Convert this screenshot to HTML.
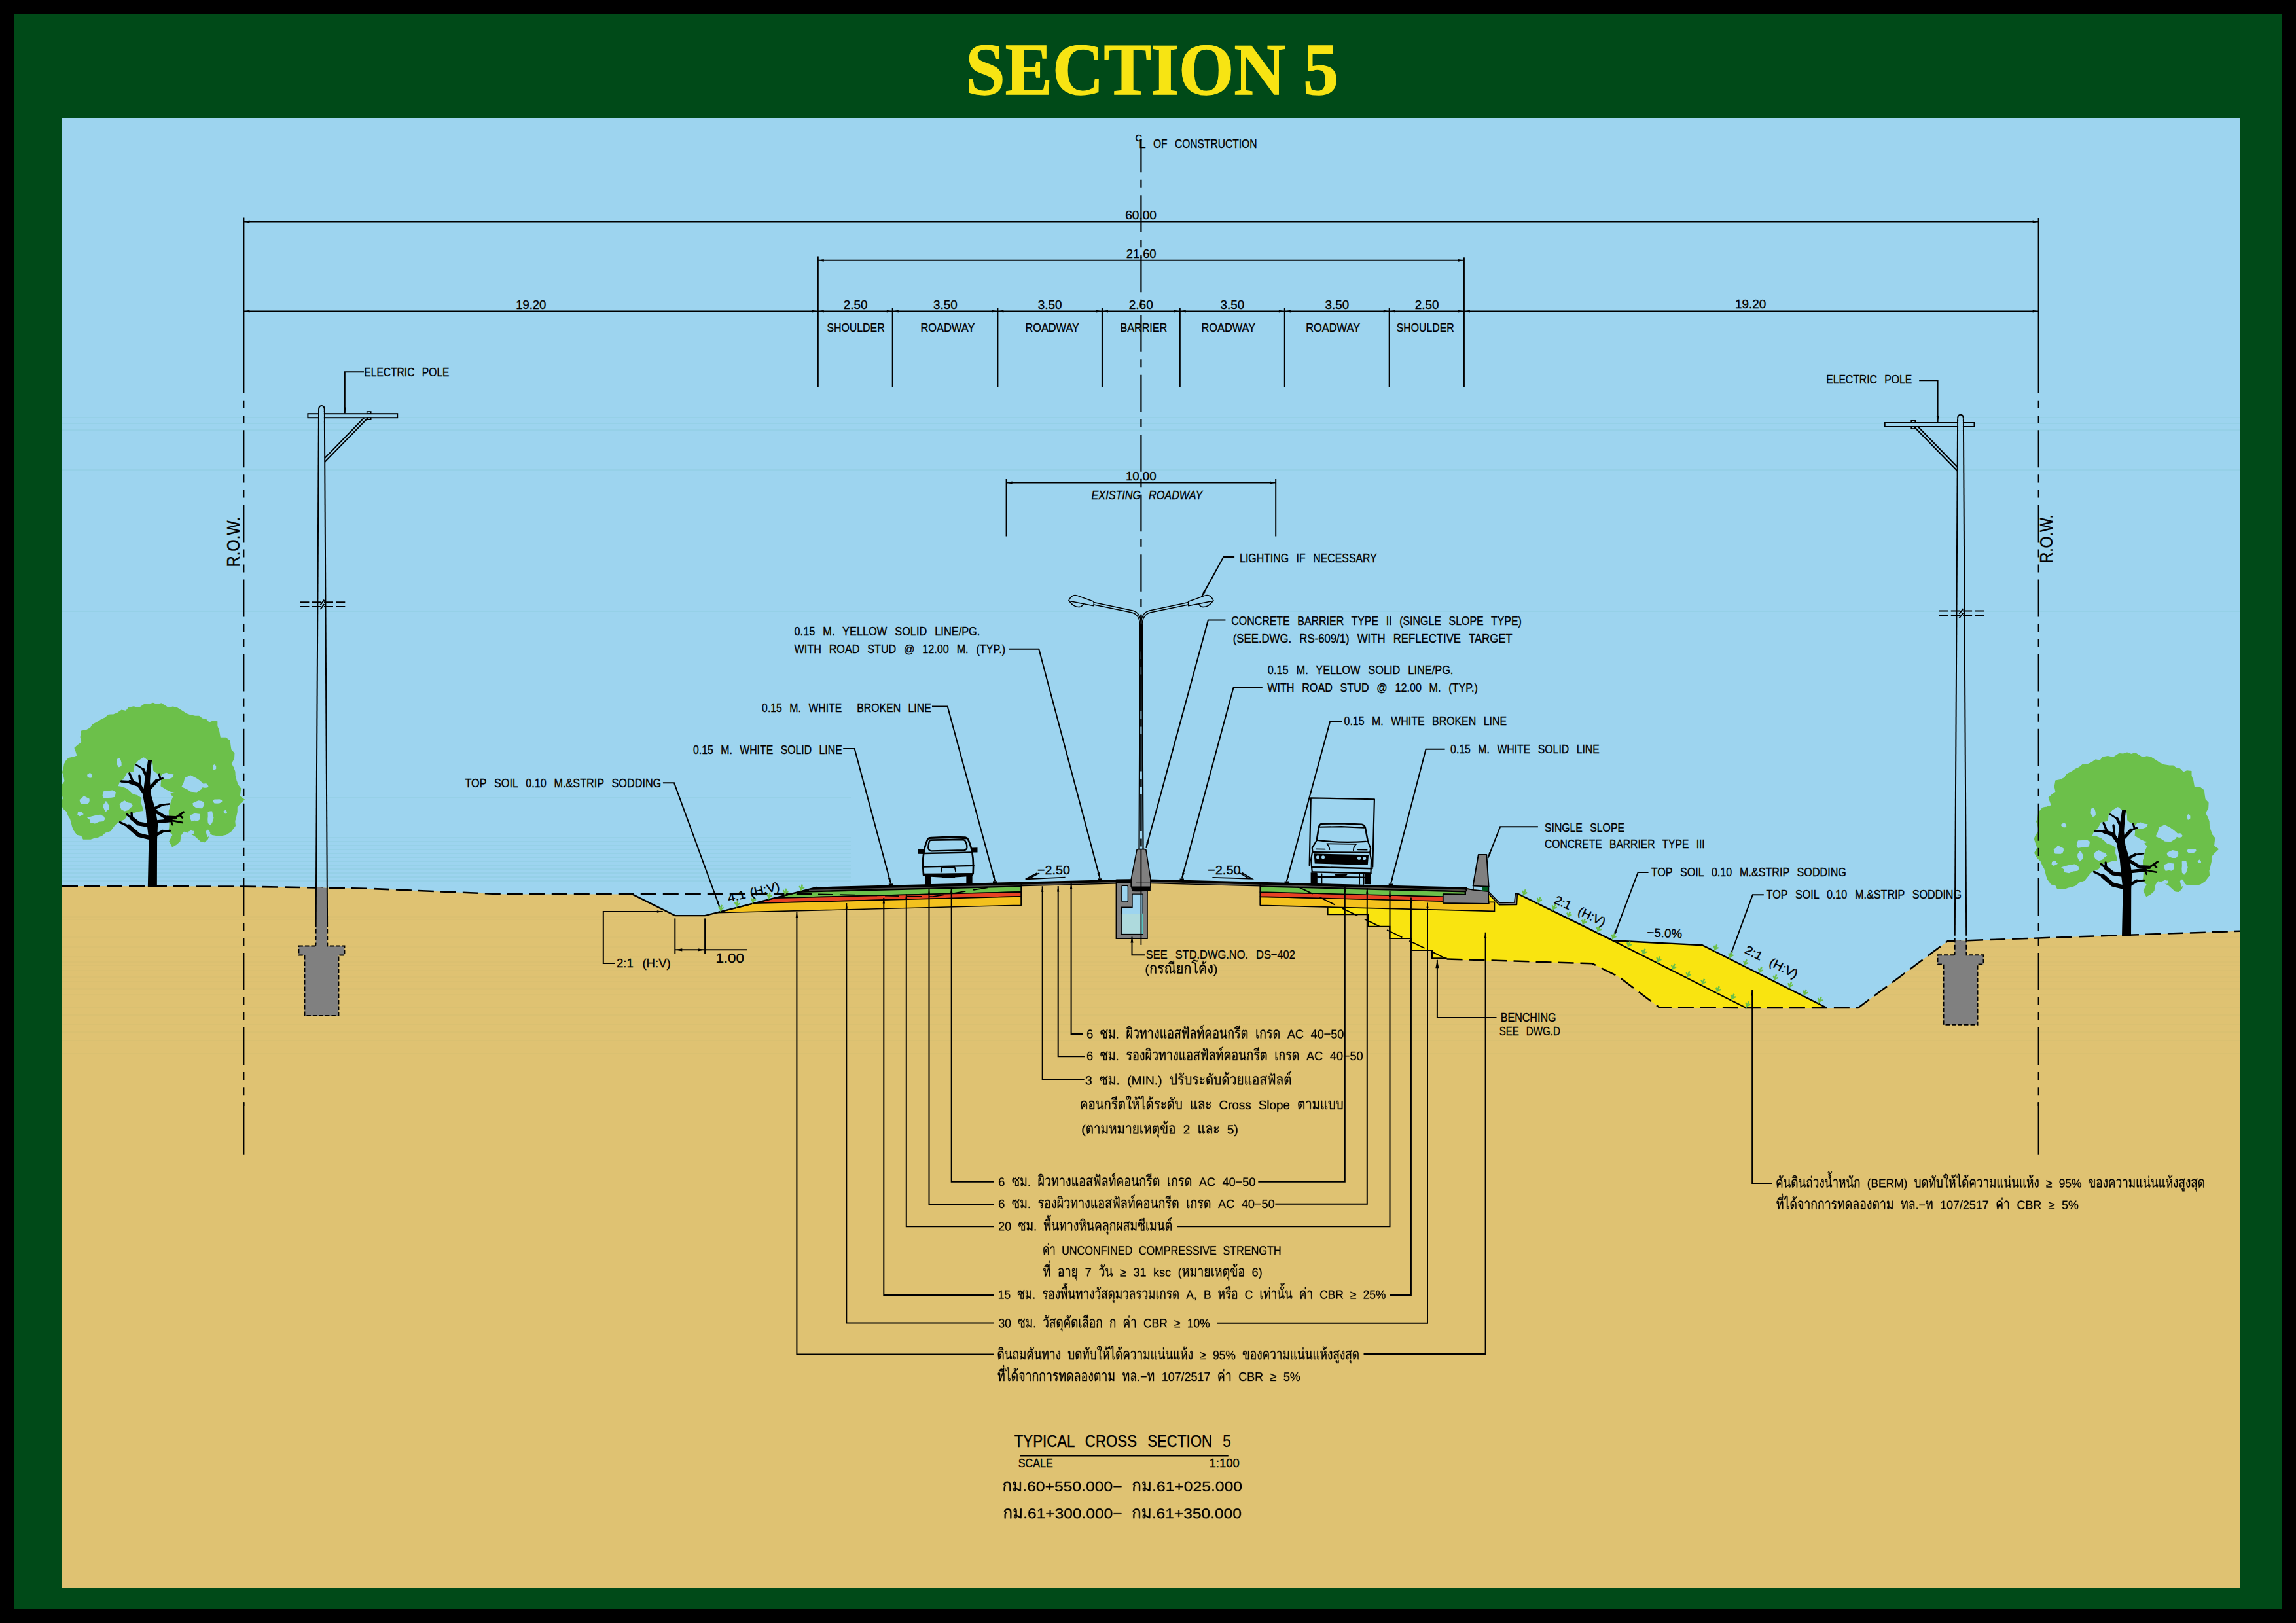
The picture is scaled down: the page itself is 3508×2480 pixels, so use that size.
<!DOCTYPE html><html><head><meta charset="utf-8"><title>SECTION 5</title><style>html,body{margin:0;padding:0;background:#000}svg{display:block}text{font-family:"Liberation Sans",sans-serif;fill:#000;stroke:#000;stroke-width:.35px;word-spacing:.45em}</style></head><body>
<svg width="3508" height="2480" viewBox="0 0 3508 2480">
<rect width="3508" height="2480" fill="#000"/>
<rect x="21" y="21" width="3466" height="2438" fill="#004a18"/>
<rect x="95" y="180" width="3328" height="2246" fill="#9dd4ef"/>
<text x="1760.3" y="144" font-size="112" font-weight="bold" text-anchor="middle" style="font-family:'Liberation Serif',serif;fill:#f7e413;stroke:#f7e413;stroke-width:1.4px;word-spacing:0" textLength="570" lengthAdjust="spacingAndGlyphs">SECTION 5</text>
<g stroke="#7fc4cf" stroke-width="1" opacity="0.45">
<line x1="95" y1="638" x2="3423" y2="638"/>
<line x1="95" y1="647" x2="3423" y2="647"/>
<line x1="95" y1="657" x2="3423" y2="657"/>
<line x1="95" y1="718" x2="3423" y2="718"/>
<line x1="95" y1="934" x2="3423" y2="934"/>
<line x1="95" y1="1219" x2="1300" y2="1219"/>
<line x1="95" y1="1280" x2="1300" y2="1280"/>
<line x1="95" y1="1286" x2="1300" y2="1286"/>
<line x1="95" y1="1292" x2="1300" y2="1292"/>
<line x1="95" y1="1298" x2="1300" y2="1298"/>
<line x1="95" y1="1304" x2="1300" y2="1304"/>
<line x1="95" y1="1310" x2="1300" y2="1310"/>
<line x1="95" y1="1316" x2="1300" y2="1316"/>
<line x1="95" y1="1322" x2="1300" y2="1322"/>
<line x1="95" y1="1328" x2="1300" y2="1328"/>
<line x1="95" y1="1334" x2="1300" y2="1334"/>
<line x1="95" y1="1340" x2="1300" y2="1340"/>
<line x1="95" y1="1346" x2="1300" y2="1346"/>
</g>
<polygon points="95.0,1354.0 372.0,1354.6 561.0,1357.7 770.0,1366.4 966.0,1366.4 1031.3,1399.1 1077.1,1399.1 1248.0,1355.9 1728.0,1343.9 1758.0,1344.1 2241.0,1357.1 2275.0,1363.0 2291.0,1379.5 2314.0,1379.0 2315.5,1365.5 2319.4,1365.8 2464.2,1437.2 2600.8,1444.3 2791.0,1540.0 2839.0,1540.0 2975.6,1438.2 3423.0,1422.8 3423.0,2426.0 95.0,2426.0" fill="#dfc272" stroke="none" stroke-width="0" />
<defs><clipPath id="gclip"><polygon points="95.0,1354.0 372.0,1354.6 561.0,1357.7 770.0,1366.4 966.0,1366.4 1031.3,1399.1 1077.1,1399.1 1248.0,1355.9 1728.0,1343.9 1758.0,1344.1 2241.0,1357.1 2275.0,1363.0 2291.0,1379.5 2314.0,1379.0 2315.5,1365.5 2319.4,1365.8 2464.2,1437.2 2600.8,1444.3 2791.0,1540.0 2839.0,1540.0 2975.6,1438.2 3423.0,1422.8 3423.0,2426.0 95.0,2426.0"/></clipPath></defs>
<g stroke="#b9b56a" stroke-width="1" opacity="0.22" clip-path="url(#gclip)">
<line x1="95" y1="1401" x2="3423" y2="1401"/>
<line x1="95" y1="1405" x2="3423" y2="1405"/>
<line x1="95" y1="1432" x2="3423" y2="1432"/>
<line x1="95" y1="1447" x2="3423" y2="1447"/>
<line x1="95" y1="1462" x2="3423" y2="1462"/>
<line x1="95" y1="1470" x2="3423" y2="1470"/>
<line x1="95" y1="1475" x2="3423" y2="1475"/>
<line x1="95" y1="1483" x2="3423" y2="1483"/>
<line x1="95" y1="1493" x2="3423" y2="1493"/>
<line x1="95" y1="1500" x2="3423" y2="1500"/>
<line x1="95" y1="1511" x2="3423" y2="1511"/>
<line x1="95" y1="1520" x2="3423" y2="1520"/>
<line x1="95" y1="1540" x2="3423" y2="1540"/>
<line x1="95" y1="1551" x2="3423" y2="1551"/>
<line x1="95" y1="1565" x2="3423" y2="1565"/>
<line x1="95" y1="1577" x2="3423" y2="1577"/>
<line x1="95" y1="1590" x2="3423" y2="1590"/>
<line x1="95" y1="1610" x2="3423" y2="1610"/>
</g>
<polygon points="2028.5,1380.8 2283.5,1378.4 2274.6,1378.4 2274.6,1366.2 2290.5,1382.8 2317.5,1382.4 2318.3,1366.9 2319.4,1365.8 2464.2,1437.2 2600.8,1444.3 2791.0,1540.0 2535.6,1539.8 2473.3,1492.7 2432.5,1472.3 2212.9,1466.2 2210.6,1464.4 2188.0,1464.4 2188.0,1452.0 2156.0,1452.0 2156.0,1434.0 2123.3,1434.0 2123.3,1415.9 2090.2,1415.9 2090.2,1397.2 2028.5,1397.2" fill="#f9e410" stroke="none" stroke-width="0" />
<polyline points="2028.5,1385.8 2028.5,1397.2 2090.2,1397.2 2090.2,1415.9 2123.3,1415.9 2123.3,1434.0 2156.0,1434.0 2156.0,1452.0 2188.0,1452.0 2188.0,1464.4 2210.6,1464.4" fill="none" stroke="#000" stroke-width="2.2" />
<polyline points="2319.4,1365.8 2464.2,1437.2 2600.8,1444.3 2791.0,1540.0" fill="none" stroke="#000" stroke-width="2.4" />
<line x1="2464.2" y1="1437.2" x2="2667.6" y2="1540.0" stroke="#000" stroke-width="2.2" />
<polygon points="1220.6,1363.1 1560.4,1354.6 1560.4,1362.9 1184.0,1372.3" fill="#6cc04a" stroke="#000" stroke-width="1.6" stroke-linejoin="round"/>
<polygon points="1184.0,1372.3 1560.4,1362.9 1560.4,1369.9 1153.1,1380.1" fill="#e54224" stroke="#000" stroke-width="1.6" stroke-linejoin="round"/>
<polygon points="1153.1,1380.1 1560.4,1369.9 1560.4,1383.2 1094.5,1394.8" fill="#f3c11d" stroke="#000" stroke-width="1.6" stroke-linejoin="round"/>
<polygon points="1925.5,1370.1 2204.8,1377.0 2204.8,1379.8 2274.6,1381.0 2274.6,1378.4 2283.5,1378.4 2283.5,1392.4 1925.5,1383.4" fill="#f3c11d" stroke="#000" stroke-width="1.6" />
<polygon points="1925.5,1363.1 2204.8,1370.0 2204.8,1377.0 1925.5,1370.1" fill="#e54224" stroke="#000" stroke-width="1.6" />
<polygon points="1925.5,1354.8 2238.4,1362.6 2238.4,1366.6 2204.8,1366.2 2204.8,1370.0 1925.5,1363.1" fill="#6cc04a" stroke="#000" stroke-width="1.6" />
<polyline points="95.0,1354.0 372.0,1354.6 561.0,1357.7 770.0,1366.4 1250.0,1366.4" fill="none" stroke="#000" stroke-width="2.6" stroke-dasharray="24 10"/>
<polyline points="1250.0,1366.4 1425.0,1370.2 1521.0,1354.3" fill="none" stroke="#000" stroke-width="1.7" stroke-dasharray="22 12"/>
<polyline points="1982.3,1354.6 2210.6,1465.5" fill="none" stroke="#000" stroke-width="1.9" stroke-dasharray="26 12"/>
<polyline points="2210.6,1465.5 2432.5,1472.3 2473.3,1492.7 2535.6,1539.8 2839.0,1540.0 2975.6,1438.2 3423.0,1422.8" fill="none" stroke="#000" stroke-width="2.5" stroke-dasharray="24 10"/>
<polyline points="966.0,1366.4 1031.3,1399.1 1077.1,1399.1 1248.0,1355.9" fill="none" stroke="#000" stroke-width="2.4" />
<polygon points="1248.0,1355.4 1728.5,1343.4 1728.5,1347.6 1226.4,1361.6" fill="#000" stroke="none" stroke-width="0" />
<polygon points="1235.0,1360.8 1728.5,1348.5 1728.5,1350.1 1235.0,1362.4" fill="#000" stroke="none" stroke-width="0" />
<line x1="1236" y1="1360.4" x2="1728" y2="1348.1" stroke="#4a4a4a" stroke-width="1.5"/>
<polygon points="1757.5,1343.6 2242.0,1355.7 2242.0,1359.9 1757.5,1347.8" fill="#000" stroke="none" stroke-width="0" />
<polygon points="1757.5,1348.7 2238.4,1360.7 2238.4,1362.3 1757.5,1350.3" fill="#000" stroke="none" stroke-width="0" />
<line x1="1758" y1="1348.3" x2="2238" y2="1360.3" stroke="#4a4a4a" stroke-width="1.5"/>
<rect x="1357.8" y="1350.3" width="6.4" height="3" fill="#000"/>
<rect x="1517.0" y="1346.3" width="6.4" height="3" fill="#000"/>
<rect x="1677.4" y="1342.3" width="6.4" height="3" fill="#000"/>
<rect x="1802.5" y="1342.5" width="6.4" height="3" fill="#000"/>
<rect x="1962.6" y="1346.5" width="6.4" height="3" fill="#000"/>
<rect x="2121.7" y="1350.4" width="6.4" height="3" fill="#000"/>
<line x1="1560.4" y1="1351.1" x2="1560.4" y2="1383.2" stroke="#000" stroke-width="2" />
<line x1="1925.5" y1="1351.3" x2="1925.5" y2="1383.4" stroke="#000" stroke-width="2" />
<path d="M1705.4,1344.5 H1728.4 V1355 H1753 V1434.2 H1705.4 Z" fill="#808080" stroke="#000" stroke-width="1.6"/>
<rect x="1705.4" y="1343.6" width="23" height="6.2" fill="#000"/>
<rect x="1713.9" y="1353.3" width="9.5" height="24.6" rx="1.5" fill="#9dd4ef" stroke="#000" stroke-width="1.4"/>
<path d="M1730,1366.1 H1746.1 V1427.2 H1713.4 V1386.3 H1730 Z" fill="#9dd4ef" stroke="#000" stroke-width="1.4"/>
<path d="M1713.9,1395.7 Q1730,1397.5 1745.6,1395.7 V1426.7 H1713.9 Z" fill="#aedadd"/>
<rect x="1744.4" y="1396" width="1.7" height="31" fill="#55c4c0"/>
<path d="M1737,1298.6 Q1737.2,1297.6 1738.5,1297.6 H1749.4 Q1750.7,1297.6 1750.9,1298.6 L1757.9,1342.8 V1355.4 H1728.4 V1342.8 Z" fill="#808080" stroke="#000" stroke-width="1.6" stroke-linejoin="round"/>
<path d="M1728,1355 H1757.9 V1361.5 Q1745,1362.8 1729.5,1362 Z" fill="#000"/>
<line x1="1736" y1="1349.3" x2="1757" y2="1349.3" stroke="#000" stroke-width="1.2"/>
<polygon points="2204.8,1366.2 2239.1,1366.9 2239.1,1362.8 2241.4,1358.0 2251.0,1359.9 2273.9,1362.1 2274.6,1381.0 2204.8,1379.8" fill="#808080" stroke="#000" stroke-width="1.8" stroke-linejoin="round"/>
<rect x="2264.3" y="1355.6" width="9.8" height="5.6" fill="#005a1e"/>
<polygon points="2258.8,1305.9 2271.3,1305.9 2274.6,1354.6 2250.6,1353.6" fill="#808080" stroke="#000" stroke-width="1.9" stroke-linejoin="round"/>
<line x1="2274.4" y1="1354.0" x2="2274.3" y2="1362.5" stroke="#000" stroke-width="1.8" />
<line x1="2250.8" y1="1353.8" x2="2251.2" y2="1360.0" stroke="#000" stroke-width="1.4" />
<polygon points="2274.6,1362.8 2290.9,1379.5 2313.8,1379.1 2315.3,1365.4 2319.4,1365.8 2318.3,1366.9 2317.5,1382.4 2290.5,1382.8 2274.6,1366.2" fill="#808080" stroke="#000" stroke-width="1.5" stroke-linejoin="round"/>
<g transform="translate(1390,1265) scale(0.058537)" fill="none" stroke="#000" stroke-linecap="round" stroke-linejoin="round">
<path stroke-width="46" d="M470,290 Q490,262 560,256 L1050,236 L1450,250 Q1500,258 1522,300 Q1620,500 1650,800 Q1665,1000 1652,1200 L360,1230 Q335,1000 348,800 Q372,500 470,290 Z"/>
<path stroke-width="40" d="M545,322 L1400,310 Q1440,318 1462,370 Q1502,450 1492,520 Q1480,572 1420,585 L560,605 Q490,592 482,520 Q492,400 512,350 Q522,327 545,322 Z"/>
<path stroke-width="26" d="M480,285 L1050,300 L1500,280"/>
<path stroke-width="42" d="M385,665 L1610,640"/>
<path stroke-width="38" d="M340,1020 L1668,988"/>
<path stroke-width="32" d="M835,1040 L815,1160 M1175,1035 L1200,1150"/>
<path stroke="none" fill="#000" d="M830,1015 L1180,1008 L1180,1050 L830,1055 Z"/>
<path stroke="none" fill="#000" d="M352,1192 L1655,1182 L1642,1262 L1185,1290 L1160,1312 L870,1316 L848,1296 L550,1276 L358,1252 Z"/>
<rect stroke="none" fill="#000" x="395" y="1240" width="152" height="262"/>
<rect stroke="none" fill="#000" x="1475" y="1240" width="158" height="235"/>
<path stroke="none" fill="#000" d="M218,555 L382,560 L380,682 L222,680 Z M1612,522 L1768,515 L1768,640 L1612,640 Z"/>
</g>
<g transform="translate(1990,1205) scale(0.09858)" fill="none" stroke="#000" stroke-width="22" stroke-linecap="round" stroke-linejoin="round">
<path d="M108,1190 L130,145 L1115,165 L1088,1215"/>
<path stroke-width="26" d="M222,790 L255,590 Q268,550 302,546 L600,540 L920,555 Q958,562 972,600 L1010,800"/>
<path d="M262,596 L600,590 L955,606"/>
<path stroke-width="24" d="M228,800 Q600,848 982,820"/>
<path d="M225,795 L150,920 L158,985 M1008,800 L1056,930 L1046,990"/>
<path stroke-width="18" d="M378,855 L832,862 M378,855 Q416,892 420,945 M832,862 Q792,900 790,955 M210,936 L350,940 M860,946 L1000,950"/>
<path stroke-width="24" d="M158,985 L1046,992"/>
<path stroke="none" fill="#000" d="M178,1008 L1026,1028 L1012,1188 L190,1162 Z"/>
<g stroke="none" fill="#9dd4ef"><circle cx="238" cy="1062" r="26"/><circle cx="320" cy="1062" r="26"/><circle cx="878" cy="1078" r="26"/><circle cx="960" cy="1080" r="26"/></g>
<path d="M152,990 L132,1100 L150,1292 M1046,992 L1066,1105 L1060,1312"/>
<path stroke-width="24" d="M150,1215 L1080,1240 M150,1292 L1060,1312"/>
<path stroke="none" fill="#000" d="M128,1300 L228,1302 L228,1472 L128,1468 Z M960,1322 L1058,1324 L1056,1484 L960,1480 Z"/>
<path stroke-width="26" d="M235,1366 L952,1378"/>
<path stroke-width="16" d="M235,1320 V1470 M300,1322 V1472 M885,1332 V1482 M948,1334 V1482"/>
<path stroke="none" fill="#000" d="M490,1318 L702,1322 L680,1352 L512,1350 Z"/>
</g>
<line x1="1743.4" y1="206.8" x2="1743.4" y2="939" stroke="#000" stroke-width="2.2" stroke-dasharray="56.5 11.5 12 11.5"/>
<rect x="1740.4" y="200" width="6" height="12.6" fill="#9dd4ef"/>
<line x1="1743.4" y1="1297.0" x2="1743.4" y2="1443.9" stroke="#000" stroke-width="1.8" />
<line x1="1743.4" y1="939" x2="1743.4" y2="1297" stroke="#000" stroke-width="2.5" stroke-dasharray="56.5 11.5 12 11.5"/>
<path d="M1741.9,953 L1740.5,1297 M1744.9,953 L1746.5,1297" stroke="#000" stroke-width="2.2" fill="none"/>
<g fill="none" stroke="#000" stroke-width="1.5" stroke-linecap="round" stroke-linejoin="round">
<path d="M1741.9,956 Q1741.4,939 1729.4,935.9 L1671.2,923.9"/>
<path d="M1743.2,950 Q1741.9,936 1730.4,932.9 L1671.2,920.6"/>
<path d="M1671.2,919.2 L1645.1,909.9 Q1637.4,908 1632.6,918.2 L1671.2,925.7 Z"/>
<path d="M1634.4,919.5 Q1642.4,929.5 1651.4,927 Q1653.9,925.5 1655.4,922.8"/>
<path d="M1744.9,956 Q1745.4,939 1757.4,935.9 L1815.6,923.9"/>
<path d="M1743.6,950 Q1744.9,936 1756.4,932.9 L1815.6,920.6"/>
<path d="M1815.6,919.2 L1841.7,909.9 Q1849.4,908 1854.2,918.2 L1815.6,925.7 Z"/>
<path d="M1852.4,919.5 Q1844.4,929.5 1835.4,927 Q1832.9,925.5 1831.4,922.8"/>
</g>
<path d="M487.0,626.0 Q487.0,620.0 491.4,620.0 Q495.8,620.0 495.8,626.0" fill="none" stroke="#000" stroke-width="2"/>
<polygon points="483.0,1355.5 499.8,1357.0 500.3,1446.5 482.5,1446.5" fill="#808080"/>
<line x1="487.0" y1="626.0" x2="482.7" y2="1409.0" stroke="#000" stroke-width="2" />
<line x1="482.7" y1="1409.0" x2="482.5" y2="1445.5" stroke="#000" stroke-width="2" stroke-dasharray="7 3.5"/>
<line x1="495.8" y1="626.0" x2="500.1" y2="1409.0" stroke="#000" stroke-width="2" />
<line x1="500.1" y1="1409.0" x2="500.3" y2="1445.5" stroke="#000" stroke-width="2" stroke-dasharray="7 3.5"/>
<rect x="470.4" y="632.2" width="136.8" height="6" fill="#9dd4ef" stroke="#000" stroke-width="2"/>
<path d="M487.0,628.2 V644.2 M495.8,628.2 V644.2" stroke="#000" stroke-width="2" fill="none"/>
<rect x="488.0" y="629.2" width="6.8" height="14" fill="#9dd4ef"/>
<rect x="560.7" y="629.0" width="6" height="3.2" fill="none" stroke="#000" stroke-width="1.6"/>
<rect x="560.7" y="638.2" width="6" height="3" fill="none" stroke="#000" stroke-width="1.6"/>
<line x1="496.2" y1="700.0" x2="556.4" y2="638.2" stroke="#000" stroke-width="2" />
<line x1="496.2" y1="706.0" x2="562.4" y2="638.2" stroke="#000" stroke-width="2" />
<line x1="458.4" y1="920.2" x2="527.4" y2="920.2" stroke="#000" stroke-width="2" stroke-dasharray="14 4.3"/>
<line x1="458.4" y1="927.1" x2="527.4" y2="927.1" stroke="#000" stroke-width="2" stroke-dasharray="14 4.3"/>
<line x1="489.4" y1="924.7" x2="495.4" y2="916.7" stroke="#000" stroke-width="2" />
<line x1="489.4" y1="931.2" x2="495.4" y2="923.2" stroke="#000" stroke-width="2" />
<path d="M456.4,1445.5 H526.4 V1459.6 H517.4 V1552.0 H465.4 V1459.6 H456.4 Z" fill="#808080" stroke="#000" stroke-width="2" stroke-dasharray="6.5 3"/>
<rect x="483.5" y="1443.5" width="15.9" height="4" fill="#808080"/>
<path d="M2991.1,639.8 Q2991.1,633.8 2995.5,633.8 Q2999.9,633.8 2999.9,639.8" fill="none" stroke="#000" stroke-width="2"/>
<polygon points="2986.7,1436.5 3004.3,1438.0 3004.4,1460.3 2986.6,1460.3" fill="#808080"/>
<line x1="2991.1" y1="639.8" x2="2986.8" y2="1422.8" stroke="#000" stroke-width="2" />
<line x1="2986.8" y1="1422.8" x2="2986.6" y2="1459.3" stroke="#000" stroke-width="2" stroke-dasharray="7 3.5"/>
<line x1="2999.9" y1="639.8" x2="3004.2" y2="1422.8" stroke="#000" stroke-width="2" />
<line x1="3004.2" y1="1422.8" x2="3004.4" y2="1459.3" stroke="#000" stroke-width="2" stroke-dasharray="7 3.5"/>
<rect x="2879.7" y="646.0" width="136.8" height="6" fill="#9dd4ef" stroke="#000" stroke-width="2"/>
<path d="M2991.1,642.0 V658.0 M2999.9,642.0 V658.0" stroke="#000" stroke-width="2" fill="none"/>
<rect x="2992.1" y="643.0" width="6.8" height="14" fill="#9dd4ef"/>
<rect x="2920.2" y="642.8" width="6" height="3.2" fill="none" stroke="#000" stroke-width="1.6"/>
<rect x="2920.2" y="652.0" width="6" height="3" fill="none" stroke="#000" stroke-width="1.6"/>
<line x1="2990.7" y1="713.8" x2="2930.5" y2="652.0" stroke="#000" stroke-width="2" />
<line x1="2990.7" y1="719.8" x2="2924.5" y2="652.0" stroke="#000" stroke-width="2" />
<line x1="2962.5" y1="933.5" x2="3031.5" y2="933.5" stroke="#000" stroke-width="2" stroke-dasharray="14 4.3"/>
<line x1="2962.5" y1="940.4" x2="3031.5" y2="940.4" stroke="#000" stroke-width="2" stroke-dasharray="14 4.3"/>
<line x1="2993.5" y1="938.0" x2="2999.5" y2="930.0" stroke="#000" stroke-width="2" />
<line x1="2993.5" y1="944.5" x2="2999.5" y2="936.5" stroke="#000" stroke-width="2" />
<path d="M2960.5,1459.3 H3030.5 V1473.4 H3021.5 V1565.8 H2969.5 V1473.4 H2960.5 Z" fill="#808080" stroke="#000" stroke-width="2" stroke-dasharray="6.5 3"/>
<rect x="2987.6" y="1457.3" width="15.9" height="4" fill="#808080"/>
<defs><g id="tree">
<polygon points="685,100 714,103 742,94 771,105 800,96 824,111 850,128 882,120 910,126 950,151 977,169 1007,180 1040,186 1068,186 1092,205 1116,208 1140,233 1166,222 1196,225 1196,258 1208,286 1217,338 1258,339 1286,361 1289,391 1294,424 1317,449 1315,487 1295,522 1311,550 1322,580 1323,610 1331,640 1343,674 1362,698 1356,754 1388,777 1361,802 1337,830 1337,865 1329,900 1321,929 1324,963 1293,1003 1260,1025 1225,1031 1190,1030 1162,1026 1144,1011 1129,1056 1108,1078 1085,1076 1061,1054 1039,1034 1003,1014 960,1000 937,1032 932,1072 908,1094 879,1111 859,1073 883,1028 856,1000 859,972 860,943 863,915 857,886 856,858 865,830 870,794 887,756 868,737 899,723 867,718 838,705 799,680 802,641 808,622 792,596 764,586 746,570 744,535 738,493 706,495 677,474 637,497 608,530 603,576 554,585 539,614 520,641 507,641 491,684 526,689 557,703 579,721 599,742 629,749 658,767 654,802 664,830 669,855 634,860 600,870 561,881 538,916 495,933 469,959 439,998 401,1011 379,1032 351,1043 325,1048 300,1057 248,1057 235,1031 204,1025 180,991 171,967 165,943 157,914 142,889 131,861 108,841 87,804 107,768 95,734 85,703 97,676 118,648 111,613 101,582 110,555 114,527 123,508 144,484 173,478 206,468 197,439 187,412 209,392 237,371 229,334 236,292 270,286 300,270 313,247 353,226 376,210 402,199 428,177 463,175 491,164 519,144 550,150 570,126 605,119 644,128" fill="#6cc04a" stroke="#6cc04a" stroke-width="6" stroke-linejoin="miter"/>
<g fill="#9dd4ef"><polygon points="518,515 519,535 509,546 497,547 490,534 484,523 486,508 487,490 497,486 508,485 514,501"/><polygon points="310,605 312,615 304,623 292,623 281,619 275,610 276,600 285,595 292,589 302,592 306,599"/><polygon points="1189,550 1189,559 1184,564 1178,569 1170,567 1169,555 1166,544 1170,533 1178,528 1185,535 1189,542"/><polygon points="885,612 878,622 861,629 838,635 808,632 792,619 801,606 812,594 837,587 860,596 888,599"/><polygon points="1104,670 1087,703 1052,725 1010,722 982,704 944,687 959,656 968,623 1008,604 1047,624 1075,643"/><polygon points="1135,682 1129,691 1117,694 1108,694 1099,692 1087,687 1088,677 1099,672 1107,664 1120,664 1128,673"/><polygon points="475,742 472,758 448,763 427,764 394,769 384,751 386,734 394,715 426,714 455,711 478,724"/><polygon points="292,786 287,800 273,810 253,811 231,809 224,793 221,778 237,768 251,751 273,762 291,771"/><polygon points="431,822 430,845 418,853 407,865 397,849 390,832 391,812 400,802 407,788 417,795 423,808"/><polygon points="600,822 579,837 566,852 541,859 518,848 509,831 505,812 518,796 541,784 563,798 587,803"/><polygon points="1105,812 1100,825 1089,840 1064,839 1043,833 1026,821 1023,803 1044,792 1064,784 1087,788 1104,797"/><polygon points="1232,790 1224,798 1212,804 1196,805 1177,804 1169,795 1167,785 1177,776 1196,776 1212,775 1230,780"/><polygon points="251,880 240,887 232,891 222,895 214,889 206,884 208,877 209,867 221,862 236,863 240,873"/><polygon points="402,915 391,931 359,935 330,947 295,940 294,921 274,906 305,896 332,889 369,884 395,898"/><polygon points="1266,865 1266,872 1261,877 1253,877 1248,874 1243,868 1241,861 1248,857 1253,851 1260,853 1263,860"/><polygon points="1073,900 1072,919 1056,931 1038,926 1015,932 1005,911 1002,888 1025,880 1038,871 1053,877 1074,879"/><polygon points="1172,905 1167,925 1160,944 1146,959 1131,944 1129,916 1131,895 1130,864 1146,859 1161,860 1166,886"/><polygon points="1029,1010 1033,1019 1021,1024 1010,1022 994,1024 989,1015 987,1005 1001,1001 1008,992 1019,999 1034,1000"/><polygon points="1147,1012 1144,1025 1139,1037 1129,1044 1123,1030 1120,1018 1117,1004 1123,994 1130,991 1137,992 1142,1001"/><polygon points="628,700 625,712 613,720 595,728 580,717 568,707 573,694 580,683 596,682 612,681 621,690"/><polygon points="610,660 599,675 576,680 554,686 524,685 526,666 510,651 532,640 554,634 582,631 595,646"/></g>
<g fill="none" stroke="#000" stroke-linecap="round" stroke-linejoin="round">
<path fill="#000" stroke="none" d="M705,1396 L712,1060 L700,960 L690,850 L670,750 L682,650 L697,560 L706,500 L734,500 L726,560 L720,650 L730,750 L760,850 L776,950 L771,1060 L770,1396 Z"/>
<path stroke-width="30" d="M720,1048 L640,1028 L570,968"/><path stroke-width="16" d="M570,968 L508,938"/>
<path stroke-width="28" d="M700,958 L640,948 L590,908"/><path stroke-width="16" d="M590,908 L557,882 M592,905 L590,872"/>
<path stroke-width="22" d="M760,1030 L810,1002"/><path stroke-width="14" d="M810,1002 L862,998"/>
<path stroke-width="24" d="M770,935 L870,925"/><path stroke-width="12" d="M870,925 L950,940 M870,928 L880,955"/>
<path stroke-width="24" d="M760,860 L830,903 L900,906"/><path stroke-width="14" d="M900,906 L958,866 M930,888 L950,905"/>
<path stroke-width="20" d="M750,842 L800,816"/><path stroke-width="12" d="M800,816 L858,808"/>
<path stroke-width="28" d="M690,742 L640,672 L580,652"/><path stroke-width="16" d="M580,652 L517,648 M600,652 L575,592 M655,700 L645,608"/>
<path stroke-width="20" d="M700,622 L672,562"/><path stroke-width="12" d="M672,562 L622,530"/>
<path stroke-width="24" d="M715,702 L770,642"/><path stroke-width="14" d="M770,642 L810,627 M795,632 L785,598"/>
</g></g>
<clipPath id="inner"><rect x="95" y="180" width="3328" height="2246"/></clipPath></defs>
<use href="#tree" transform="translate(3090,1130) scale(0.21561)"/>
<g clip-path="url(#inner)"><use href="#tree" transform="translate(73.83,1054.2) scale(0.21561)"/></g>
<line x1="372.4" y1="332.5" x2="372.4" y2="600.6" stroke="#000" stroke-width="2" />
<path d="M372.4,611.7 V624 M372.4,635 V646.5 M372.4,1684.2 V1764.8" stroke="#000" stroke-width="2" fill="none"/>
<line x1="372.4" y1="657.3" x2="372.4" y2="1690" stroke="#000" stroke-width="2" stroke-dasharray="57 11 12.1 11 12 11"/>
<line x1="3114.6" y1="333.0" x2="3114.6" y2="600.6" stroke="#000" stroke-width="2" />
<path d="M3114.6,611.7 V624 M3114.6,635 V646.5 M3114.6,1684.2 V1764.8" stroke="#000" stroke-width="2" fill="none"/>
<line x1="3114.6" y1="657.3" x2="3114.6" y2="1690" stroke="#000" stroke-width="2" stroke-dasharray="57 11 12.1 11 12 11"/>
<line x1="372.4" y1="338.5" x2="3114.6" y2="338.5" stroke="#000" stroke-width="2" />
<polygon points="372.4,338.5 381.4,336.6 381.4,340.4" fill="#000"/>
<polygon points="3114.6,338.5 3105.6,340.4 3105.6,336.6" fill="#000"/>
<line x1="1249.7" y1="397.8" x2="2236.8" y2="397.8" stroke="#000" stroke-width="2" />
<polygon points="1249.7,397.8 1258.7,395.9 1258.7,399.7" fill="#000"/>
<polygon points="2236.8,397.8 2227.8,399.7 2227.8,395.9" fill="#000"/>
<line x1="372.4" y1="475.6" x2="1249.7" y2="475.6" stroke="#000" stroke-width="2" />
<polygon points="372.4,475.6 381.4,473.7 381.4,477.5" fill="#000"/>
<polygon points="1249.7,475.6 1240.7,477.5 1240.7,473.7" fill="#000"/>
<line x1="1249.7" y1="475.6" x2="1363.8" y2="475.6" stroke="#000" stroke-width="2" />
<polygon points="1249.7,475.6 1258.7,473.7 1258.7,477.5" fill="#000"/>
<polygon points="1363.8,475.6 1354.8,477.5 1354.8,473.7" fill="#000"/>
<line x1="1363.8" y1="475.6" x2="1524.3" y2="475.6" stroke="#000" stroke-width="2" />
<polygon points="1363.8,475.6 1372.8,473.7 1372.8,477.5" fill="#000"/>
<polygon points="1524.3,475.6 1515.3,477.5 1515.3,473.7" fill="#000"/>
<line x1="1524.3" y1="475.6" x2="1684.0" y2="475.6" stroke="#000" stroke-width="2" />
<polygon points="1524.3,475.6 1533.3,473.7 1533.3,477.5" fill="#000"/>
<polygon points="1684.0,475.6 1675.0,477.5 1675.0,473.7" fill="#000"/>
<line x1="1684.0" y1="475.6" x2="1802.7" y2="475.6" stroke="#000" stroke-width="2" />
<polygon points="1684.0,475.6 1693.0,473.7 1693.0,477.5" fill="#000"/>
<polygon points="1802.7,475.6 1793.7,477.5 1793.7,473.7" fill="#000"/>
<line x1="1802.7" y1="475.6" x2="1962.9" y2="475.6" stroke="#000" stroke-width="2" />
<polygon points="1802.7,475.6 1811.7,473.7 1811.7,477.5" fill="#000"/>
<polygon points="1962.9,475.6 1953.9,477.5 1953.9,473.7" fill="#000"/>
<line x1="1962.9" y1="475.6" x2="2122.8" y2="475.6" stroke="#000" stroke-width="2" />
<polygon points="1962.9,475.6 1971.9,473.7 1971.9,477.5" fill="#000"/>
<polygon points="2122.8,475.6 2113.8,477.5 2113.8,473.7" fill="#000"/>
<line x1="2122.8" y1="475.6" x2="2236.8" y2="475.6" stroke="#000" stroke-width="2" />
<polygon points="2122.8,475.6 2131.8,473.7 2131.8,477.5" fill="#000"/>
<polygon points="2236.8,475.6 2227.8,477.5 2227.8,473.7" fill="#000"/>
<line x1="2236.8" y1="475.6" x2="3114.6" y2="475.6" stroke="#000" stroke-width="2" />
<polygon points="2236.8,475.6 2245.8,473.7 2245.8,477.5" fill="#000"/>
<polygon points="3114.6,475.6 3105.6,477.5 3105.6,473.7" fill="#000"/>
<line x1="1249.7" y1="391.5" x2="1249.7" y2="592.0" stroke="#000" stroke-width="2.2" />
<line x1="2236.8" y1="393.3" x2="2236.8" y2="592.0" stroke="#000" stroke-width="2.2" />
<line x1="1363.8" y1="470.0" x2="1363.8" y2="592.0" stroke="#000" stroke-width="2.2" />
<line x1="1524.3" y1="470.0" x2="1524.3" y2="592.0" stroke="#000" stroke-width="2.2" />
<line x1="1684.0" y1="470.0" x2="1684.0" y2="592.0" stroke="#000" stroke-width="2.2" />
<line x1="1802.7" y1="470.0" x2="1802.7" y2="592.0" stroke="#000" stroke-width="2.2" />
<line x1="1962.9" y1="470.0" x2="1962.9" y2="592.0" stroke="#000" stroke-width="2.2" />
<line x1="2122.8" y1="470.0" x2="2122.8" y2="592.0" stroke="#000" stroke-width="2.2" />
<line x1="1537.6" y1="737.5" x2="1949.2" y2="737.5" stroke="#000" stroke-width="2" />
<polygon points="1537.6,737.5 1546.6,735.6 1546.6,739.4" fill="#000"/>
<polygon points="1949.2,737.5 1940.2,739.4 1940.2,735.6" fill="#000"/>
<line x1="1537.6" y1="732.0" x2="1537.6" y2="819.5" stroke="#000" stroke-width="2" />
<line x1="1949.2" y1="732.0" x2="1949.2" y2="819.5" stroke="#000" stroke-width="2" />
<line x1="1031.3" y1="1403.4" x2="1031.3" y2="1457.2" stroke="#000" stroke-width="2" />
<line x1="1077.1" y1="1403.4" x2="1077.1" y2="1457.2" stroke="#000" stroke-width="2" />
<line x1="1031.3" y1="1451.3" x2="1141.3" y2="1451.3" stroke="#000" stroke-width="2" />
<polygon points="1031.3,1451.3 1042.3,1449.2 1042.3,1453.4" fill="#000"/>
<polygon points="1077.1,1451.3 1066.1,1453.4 1066.1,1449.2" fill="#000"/>
<polyline points="940.0,1472.0 921.8,1472.0 921.8,1393.0 1012.8,1393.0" fill="none" stroke="#000" stroke-width="2" />
<polygon points="1012.8,1393.0 1003.8,1394.8 1003.8,1391.2" fill="#000"/>
<polyline points="1627.6,1340.6 1566.8,1343.4 1585.1,1333.7" fill="none" stroke="#000" stroke-width="1.8" />
<line x1="1570.5" y1="1343.4" x2="1588.0" y2="1334.0" stroke="#000" stroke-width="1.8" />
<polyline points="1852.4,1340.9 1912.7,1342.7 1897.2,1333.2" fill="none" stroke="#000" stroke-width="1.8" />
<line x1="1908.8" y1="1342.8" x2="1893.5" y2="1333.4" stroke="#000" stroke-width="1.8" />
<polyline points="1012.9,1196.3 1030.0,1196.3 1099.5,1386.0" fill="none" stroke="#000" stroke-width="2" />
<polygon points="1099.5,1386.0 1094.7,1378.2 1098.1,1376.9" fill="#000"/>
<polyline points="1288.2,1143.9 1305.6,1143.9 1361.0,1350.3" fill="none" stroke="#000" stroke-width="2" />
<polygon points="1361.0,1350.3 1356.9,1342.0 1360.4,1341.1" fill="#000"/>
<polyline points="1424.0,1079.6 1447.7,1079.6 1520.2,1346.3" fill="none" stroke="#000" stroke-width="2" />
<polygon points="1520.2,1346.3 1516.1,1338.1 1519.6,1337.1" fill="#000"/>
<polyline points="1541.6,991.8 1587.3,991.8 1680.6,1342.3" fill="none" stroke="#000" stroke-width="2" />
<polygon points="1680.6,1342.3 1676.5,1334.1 1680.0,1333.1" fill="#000"/>
<polyline points="1872.4,947.6 1845.9,947.6 1751.1,1295.7" fill="none" stroke="#000" stroke-width="2" />
<polygon points="1751.1,1295.7 1751.7,1286.5 1755.2,1287.5" fill="#000"/>
<polyline points="1886.1,850.9 1869.3,850.9 1835.8,911.9" fill="none" stroke="#000" stroke-width="2" />
<polygon points="1835.8,911.9 1838.6,903.1 1841.7,904.9" fill="#000"/>
<polyline points="1928.8,1050.6 1884.6,1050.6 1805.7,1342.5" fill="none" stroke="#000" stroke-width="2" />
<polygon points="1805.7,1342.5 1806.3,1333.3 1809.8,1334.2" fill="#000"/>
<polyline points="2050.5,1102.0 2032.3,1102.0 1965.8,1346.5" fill="none" stroke="#000" stroke-width="2" />
<polygon points="1965.8,1346.5 1966.4,1337.3 1969.9,1338.2" fill="#000"/>
<polyline points="2207.6,1144.7 2178.6,1144.7 2124.9,1350.4" fill="none" stroke="#000" stroke-width="2" />
<polygon points="2124.9,1350.4 2125.4,1341.3 2128.9,1342.2" fill="#000"/>
<polyline points="2349.9,1263.3 2292.1,1263.3 2273.5,1311.0" fill="none" stroke="#000" stroke-width="2" />
<polygon points="2273.5,1311.0 2275.1,1302.0 2278.4,1303.3" fill="#000"/>
<polyline points="2518.6,1333.0 2502.7,1333.0 2465.4,1431.6" fill="none" stroke="#000" stroke-width="2" />
<polygon points="2465.4,1431.6 2466.9,1422.5 2470.3,1423.8" fill="#000"/>
<polyline points="2694.8,1367.3 2677.8,1367.3 2642.7,1463.0" fill="none" stroke="#000" stroke-width="2" />
<polygon points="2642.7,1463.0 2644.1,1453.9 2647.5,1455.2" fill="#000"/>
<polyline points="556.0,568.3 526.8,568.3 526.8,631.5" fill="none" stroke="#000" stroke-width="2" />
<polygon points="526.8,631.5 525.0,622.5 528.6,622.5" fill="#000"/>
<polyline points="2932.2,581.3 2960.6,581.3 2960.6,645.0" fill="none" stroke="#000" stroke-width="2" />
<polygon points="2960.6,645.0 2958.8,636.0 2962.4,636.0" fill="#000"/>
<polyline points="1518.6,2069.5 1217.4,2069.5 1217.4,1393.6" fill="none" stroke="#000" stroke-width="2" />
<polygon points="1217.4,1393.6 1219.1,1402.1 1215.7,1402.1" fill="#000"/>
<polyline points="1518.6,2021.6 1293.3,2021.6 1293.3,1380.0" fill="none" stroke="#000" stroke-width="2" />
<polygon points="1293.3,1380.0 1295.0,1388.5 1291.6,1388.5" fill="#000"/>
<polyline points="1518.6,1978.9 1350.3,1978.9 1350.3,1371.9" fill="none" stroke="#000" stroke-width="2" />
<polygon points="1350.3,1371.9 1352.0,1380.4 1348.6,1380.4" fill="#000"/>
<polyline points="1518.6,1874.3 1384.8,1874.3 1384.8,1366.0" fill="none" stroke="#000" stroke-width="2" />
<polygon points="1384.8,1366.0 1386.5,1374.5 1383.1,1374.5" fill="#000"/>
<polyline points="1518.6,1839.9 1419.5,1839.9 1419.5,1359.0" fill="none" stroke="#000" stroke-width="2" />
<polygon points="1419.5,1359.0 1421.2,1367.5 1417.8,1367.5" fill="#000"/>
<polyline points="1518.6,1805.7 1453.7,1805.7 1453.7,1356.0" fill="none" stroke="#000" stroke-width="2" />
<polygon points="1453.7,1356.0 1455.4,1364.5 1452.0,1364.5" fill="#000"/>
<polyline points="1656.7,1650.0 1592.7,1650.0 1592.7,1354.3" fill="none" stroke="#000" stroke-width="2" />
<polygon points="1592.7,1354.3 1594.4,1362.8 1591.0,1362.8" fill="#000"/>
<polyline points="1657.2,1614.2 1616.7,1614.2 1616.7,1354.0" fill="none" stroke="#000" stroke-width="2" />
<polygon points="1616.7,1354.0 1618.4,1362.5 1615.0,1362.5" fill="#000"/>
<polyline points="1654.0,1580.0 1636.6,1580.0 1636.6,1349.8" fill="none" stroke="#000" stroke-width="2" />
<polygon points="1636.6,1349.8 1638.3,1358.3 1634.9,1358.3" fill="#000"/>
<polyline points="1922.3,1805.7 2054.8,1805.7 2054.8,1354.6" fill="none" stroke="#000" stroke-width="2" />
<polygon points="2054.8,1354.6 2056.5,1363.1 2053.1,1363.1" fill="#000"/>
<polyline points="1948.4,1839.7 2088.8,1839.7 2088.8,1357.3" fill="none" stroke="#000" stroke-width="2" />
<polygon points="2088.8,1357.3 2090.5,1365.8 2087.1,1365.8" fill="#000"/>
<polyline points="1799.0,1874.2 2123.5,1874.2 2123.5,1361.9" fill="none" stroke="#000" stroke-width="2" />
<polygon points="2123.5,1361.9 2125.2,1370.4 2121.8,1370.4" fill="#000"/>
<polyline points="2123.3,1979.0 2155.9,1979.0 2155.9,1371.5" fill="none" stroke="#000" stroke-width="2" />
<polygon points="2155.9,1371.5 2157.6,1380.0 2154.2,1380.0" fill="#000"/>
<polyline points="1860.0,2021.8 2181.0,2021.8 2181.0,1379.5" fill="none" stroke="#000" stroke-width="2" />
<polygon points="2181.0,1379.5 2182.7,1388.0 2179.3,1388.0" fill="#000"/>
<polyline points="2083.5,2069.1 2269.6,2069.1 2269.6,1424.8" fill="none" stroke="#000" stroke-width="2" />
<polygon points="2269.6,1424.8 2271.3,1433.3 2267.9,1433.3" fill="#000"/>
<polyline points="2286.5,1555.0 2195.9,1555.0 2195.9,1466.8" fill="none" stroke="#000" stroke-width="2" />
<polygon points="2195.9,1466.8 2198.5,1479.2 2193.3,1479.2" fill="#000"/>
<polyline points="2707.9,1807.9 2677.2,1807.9 2677.2,1512.9" fill="none" stroke="#000" stroke-width="2" />
<polygon points="2677.2,1512.9 2678.9,1521.4 2675.5,1521.4" fill="#000"/>
<polyline points="1750.0,1459.2 1729.5,1459.2 1729.5,1431.4" fill="none" stroke="#000" stroke-width="2" />
<polygon points="1729.5,1431.4 1731.6,1440.4 1727.4,1440.4" fill="#000"/>
<path transform="translate(1100.4,1392.8) rotate(12)" d="M0,0.8 L-1.6,-3.2 L-4.7,-6.2 L-3.2,-8 L-1.3,-6 L-1.3,-10.4 L1.3,-10.4 L1.3,-6 L3.2,-8 L4.7,-6.2 L1.6,-3.2 Z" fill="#6cc04a"/>
<path transform="translate(1125.0,1386.6) rotate(12)" d="M0,0.8 L-1.6,-3.2 L-4.7,-6.2 L-3.2,-8 L-1.3,-6 L-1.3,-10.4 L1.3,-10.4 L1.3,-6 L3.2,-8 L4.7,-6.2 L1.6,-3.2 Z" fill="#6cc04a"/>
<path transform="translate(1149.7,1380.4) rotate(12)" d="M0,0.8 L-1.6,-3.2 L-4.7,-6.2 L-3.2,-8 L-1.3,-6 L-1.3,-10.4 L1.3,-10.4 L1.3,-6 L3.2,-8 L4.7,-6.2 L1.6,-3.2 Z" fill="#6cc04a"/>
<path transform="translate(1174.3,1374.2) rotate(12)" d="M0,0.8 L-1.6,-3.2 L-4.7,-6.2 L-3.2,-8 L-1.3,-6 L-1.3,-10.4 L1.3,-10.4 L1.3,-6 L3.2,-8 L4.7,-6.2 L1.6,-3.2 Z" fill="#6cc04a"/>
<path transform="translate(1199.0,1368.0) rotate(12)" d="M0,0.8 L-1.6,-3.2 L-4.7,-6.2 L-3.2,-8 L-1.3,-6 L-1.3,-10.4 L1.3,-10.4 L1.3,-6 L3.2,-8 L4.7,-6.2 L1.6,-3.2 Z" fill="#6cc04a"/>
<path transform="translate(1223.6,1361.8) rotate(12)" d="M0,0.8 L-1.6,-3.2 L-4.7,-6.2 L-3.2,-8 L-1.3,-6 L-1.3,-10.4 L1.3,-10.4 L1.3,-6 L3.2,-8 L4.7,-6.2 L1.6,-3.2 Z" fill="#6cc04a"/>
<path transform="translate(2327.0,1369.0) rotate(22)" d="M0,0.8 L-1.6,-3.2 L-4.7,-6.2 L-3.2,-8 L-1.3,-6 L-1.3,-10.4 L1.3,-10.4 L1.3,-6 L3.2,-8 L4.7,-6.2 L1.6,-3.2 Z" fill="#6cc04a"/>
<path transform="translate(2349.7,1380.2) rotate(22)" d="M0,0.8 L-1.6,-3.2 L-4.7,-6.2 L-3.2,-8 L-1.3,-6 L-1.3,-10.4 L1.3,-10.4 L1.3,-6 L3.2,-8 L4.7,-6.2 L1.6,-3.2 Z" fill="#6cc04a"/>
<path transform="translate(2372.4,1391.4) rotate(22)" d="M0,0.8 L-1.6,-3.2 L-4.7,-6.2 L-3.2,-8 L-1.3,-6 L-1.3,-10.4 L1.3,-10.4 L1.3,-6 L3.2,-8 L4.7,-6.2 L1.6,-3.2 Z" fill="#6cc04a"/>
<path transform="translate(2395.1,1402.6) rotate(22)" d="M0,0.8 L-1.6,-3.2 L-4.7,-6.2 L-3.2,-8 L-1.3,-6 L-1.3,-10.4 L1.3,-10.4 L1.3,-6 L3.2,-8 L4.7,-6.2 L1.6,-3.2 Z" fill="#6cc04a"/>
<path transform="translate(2417.8,1413.8) rotate(22)" d="M0,0.8 L-1.6,-3.2 L-4.7,-6.2 L-3.2,-8 L-1.3,-6 L-1.3,-10.4 L1.3,-10.4 L1.3,-6 L3.2,-8 L4.7,-6.2 L1.6,-3.2 Z" fill="#6cc04a"/>
<path transform="translate(2440.5,1424.9) rotate(22)" d="M0,0.8 L-1.6,-3.2 L-4.7,-6.2 L-3.2,-8 L-1.3,-6 L-1.3,-10.4 L1.3,-10.4 L1.3,-6 L3.2,-8 L4.7,-6.2 L1.6,-3.2 Z" fill="#6cc04a"/>
<path transform="translate(2463.2,1436.1) rotate(22)" d="M0,0.8 L-1.6,-3.2 L-4.7,-6.2 L-3.2,-8 L-1.3,-6 L-1.3,-10.4 L1.3,-10.4 L1.3,-6 L3.2,-8 L4.7,-6.2 L1.6,-3.2 Z" fill="#6cc04a"/>
<path transform="translate(2486.9,1448.2) rotate(22)" d="M0,0.8 L-1.6,-3.2 L-4.7,-6.2 L-3.2,-8 L-1.3,-6 L-1.3,-10.4 L1.3,-10.4 L1.3,-6 L3.2,-8 L4.7,-6.2 L1.6,-3.2 Z" fill="#6cc04a"/>
<path transform="translate(2509.6,1459.6) rotate(22)" d="M0,0.8 L-1.6,-3.2 L-4.7,-6.2 L-3.2,-8 L-1.3,-6 L-1.3,-10.4 L1.3,-10.4 L1.3,-6 L3.2,-8 L4.7,-6.2 L1.6,-3.2 Z" fill="#6cc04a"/>
<path transform="translate(2532.2,1471.1) rotate(22)" d="M0,0.8 L-1.6,-3.2 L-4.7,-6.2 L-3.2,-8 L-1.3,-6 L-1.3,-10.4 L1.3,-10.4 L1.3,-6 L3.2,-8 L4.7,-6.2 L1.6,-3.2 Z" fill="#6cc04a"/>
<path transform="translate(2554.8,1482.5) rotate(22)" d="M0,0.8 L-1.6,-3.2 L-4.7,-6.2 L-3.2,-8 L-1.3,-6 L-1.3,-10.4 L1.3,-10.4 L1.3,-6 L3.2,-8 L4.7,-6.2 L1.6,-3.2 Z" fill="#6cc04a"/>
<path transform="translate(2577.5,1494.0) rotate(22)" d="M0,0.8 L-1.6,-3.2 L-4.7,-6.2 L-3.2,-8 L-1.3,-6 L-1.3,-10.4 L1.3,-10.4 L1.3,-6 L3.2,-8 L4.7,-6.2 L1.6,-3.2 Z" fill="#6cc04a"/>
<path transform="translate(2600.2,1505.4) rotate(22)" d="M0,0.8 L-1.6,-3.2 L-4.7,-6.2 L-3.2,-8 L-1.3,-6 L-1.3,-10.4 L1.3,-10.4 L1.3,-6 L3.2,-8 L4.7,-6.2 L1.6,-3.2 Z" fill="#6cc04a"/>
<path transform="translate(2622.8,1516.9) rotate(22)" d="M0,0.8 L-1.6,-3.2 L-4.7,-6.2 L-3.2,-8 L-1.3,-6 L-1.3,-10.4 L1.3,-10.4 L1.3,-6 L3.2,-8 L4.7,-6.2 L1.6,-3.2 Z" fill="#6cc04a"/>
<path transform="translate(2645.5,1528.3) rotate(22)" d="M0,0.8 L-1.6,-3.2 L-4.7,-6.2 L-3.2,-8 L-1.3,-6 L-1.3,-10.4 L1.3,-10.4 L1.3,-6 L3.2,-8 L4.7,-6.2 L1.6,-3.2 Z" fill="#6cc04a"/>
<path transform="translate(2668.1,1539.8) rotate(22)" d="M0,0.8 L-1.6,-3.2 L-4.7,-6.2 L-3.2,-8 L-1.3,-6 L-1.3,-10.4 L1.3,-10.4 L1.3,-6 L3.2,-8 L4.7,-6.2 L1.6,-3.2 Z" fill="#6cc04a"/>
<path transform="translate(2619.3,1453.1) rotate(22)" d="M0,0.8 L-1.6,-3.2 L-4.7,-6.2 L-3.2,-8 L-1.3,-6 L-1.3,-10.4 L1.3,-10.4 L1.3,-6 L3.2,-8 L4.7,-6.2 L1.6,-3.2 Z" fill="#6cc04a"/>
<path transform="translate(2642.1,1464.5) rotate(22)" d="M0,0.8 L-1.6,-3.2 L-4.7,-6.2 L-3.2,-8 L-1.3,-6 L-1.3,-10.4 L1.3,-10.4 L1.3,-6 L3.2,-8 L4.7,-6.2 L1.6,-3.2 Z" fill="#6cc04a"/>
<path transform="translate(2664.8,1476.0) rotate(22)" d="M0,0.8 L-1.6,-3.2 L-4.7,-6.2 L-3.2,-8 L-1.3,-6 L-1.3,-10.4 L1.3,-10.4 L1.3,-6 L3.2,-8 L4.7,-6.2 L1.6,-3.2 Z" fill="#6cc04a"/>
<path transform="translate(2687.6,1487.4) rotate(22)" d="M0,0.8 L-1.6,-3.2 L-4.7,-6.2 L-3.2,-8 L-1.3,-6 L-1.3,-10.4 L1.3,-10.4 L1.3,-6 L3.2,-8 L4.7,-6.2 L1.6,-3.2 Z" fill="#6cc04a"/>
<path transform="translate(2710.3,1498.9) rotate(22)" d="M0,0.8 L-1.6,-3.2 L-4.7,-6.2 L-3.2,-8 L-1.3,-6 L-1.3,-10.4 L1.3,-10.4 L1.3,-6 L3.2,-8 L4.7,-6.2 L1.6,-3.2 Z" fill="#6cc04a"/>
<path transform="translate(2733.1,1510.3) rotate(22)" d="M0,0.8 L-1.6,-3.2 L-4.7,-6.2 L-3.2,-8 L-1.3,-6 L-1.3,-10.4 L1.3,-10.4 L1.3,-6 L3.2,-8 L4.7,-6.2 L1.6,-3.2 Z" fill="#6cc04a"/>
<path transform="translate(2755.8,1521.8) rotate(22)" d="M0,0.8 L-1.6,-3.2 L-4.7,-6.2 L-3.2,-8 L-1.3,-6 L-1.3,-10.4 L1.3,-10.4 L1.3,-6 L3.2,-8 L4.7,-6.2 L1.6,-3.2 Z" fill="#6cc04a"/>
<path transform="translate(2778.6,1533.2) rotate(22)" d="M0,0.8 L-1.6,-3.2 L-4.7,-6.2 L-3.2,-8 L-1.3,-6 L-1.3,-10.4 L1.3,-10.4 L1.3,-6 L3.2,-8 L4.7,-6.2 L1.6,-3.2 Z" fill="#6cc04a"/>
<g>
<text x="1762.0" y="226.3" font-size="18.6" textLength="158.5" lengthAdjust="spacingAndGlyphs"  xml:space="preserve">OF CONSTRUCTION</text>
<text x="1734.6" y="215.8" font-size="14.5">C</text><text x="1740.3" y="225.6" font-size="18.6">L</text>
<text x="1719.2" y="334.5" font-size="18.6" textLength="47.8" lengthAdjust="spacingAndGlyphs"  xml:space="preserve">60.00</text>
<text x="1720.8" y="394.0" font-size="18.6" textLength="45.7" lengthAdjust="spacingAndGlyphs"  xml:space="preserve">21.60</text>
<text x="788.2" y="471.5" font-size="18.6" textLength="46.2" lengthAdjust="spacingAndGlyphs"  xml:space="preserve">19.20</text>
<text x="2651.0" y="471.3" font-size="18.6" textLength="47.3" lengthAdjust="spacingAndGlyphs"  xml:space="preserve">19.20</text>
<text x="1288.8" y="471.7" font-size="18.6" textLength="36.6" lengthAdjust="spacingAndGlyphs"  xml:space="preserve">2.50</text>
<text x="1426.0" y="471.7" font-size="18.6" textLength="36.6" lengthAdjust="spacingAndGlyphs"  xml:space="preserve">3.50</text>
<text x="1585.7" y="471.7" font-size="18.6" textLength="36.9" lengthAdjust="spacingAndGlyphs"  xml:space="preserve">3.50</text>
<text x="1724.7" y="471.7" font-size="18.6" textLength="37.1" lengthAdjust="spacingAndGlyphs"  xml:space="preserve">2.60</text>
<text x="1864.6" y="471.7" font-size="18.6" textLength="36.6" lengthAdjust="spacingAndGlyphs"  xml:space="preserve">3.50</text>
<text x="2024.6" y="471.7" font-size="18.6" textLength="36.5" lengthAdjust="spacingAndGlyphs"  xml:space="preserve">3.50</text>
<text x="2161.8" y="471.7" font-size="18.6" textLength="36.8" lengthAdjust="spacingAndGlyphs"  xml:space="preserve">2.50</text>
<text x="1263.5" y="507.2" font-size="18.6" textLength="88.1" lengthAdjust="spacingAndGlyphs"  xml:space="preserve">SHOULDER</text>
<text x="1406.4" y="507.2" font-size="18.6" textLength="83.1" lengthAdjust="spacingAndGlyphs"  xml:space="preserve">ROADWAY</text>
<text x="1566.4" y="507.2" font-size="18.6" textLength="82.6" lengthAdjust="spacingAndGlyphs"  xml:space="preserve">ROADWAY</text>
<text x="1711.4" y="507.2" font-size="18.6" textLength="71.9" lengthAdjust="spacingAndGlyphs"  xml:space="preserve">BARRIER</text>
<text x="1835.4" y="507.2" font-size="18.6" textLength="82.8" lengthAdjust="spacingAndGlyphs"  xml:space="preserve">ROADWAY</text>
<text x="1995.3" y="507.2" font-size="18.6" textLength="82.8" lengthAdjust="spacingAndGlyphs"  xml:space="preserve">ROADWAY</text>
<text x="2133.8" y="507.2" font-size="18.6" textLength="87.8" lengthAdjust="spacingAndGlyphs"  xml:space="preserve">SHOULDER</text>
<text x="556.3" y="575.0" font-size="18.6" textLength="130.2" lengthAdjust="spacingAndGlyphs"  xml:space="preserve">ELECTRIC POLE</text>
<text x="2790.2" y="585.6" font-size="18.6" textLength="131.0" lengthAdjust="spacingAndGlyphs"  xml:space="preserve">ELECTRIC POLE</text>
<text transform="translate(366.3,866.5) rotate(-90)" font-size="27" textLength="76.5" lengthAdjust="spacingAndGlyphs">R.O.W.</text>
<text transform="translate(3136,860.5) rotate(-90)" font-size="27" textLength="74.5" lengthAdjust="spacingAndGlyphs">R.O.W.</text>
<text x="1719.9" y="733.5" font-size="18.6" textLength="46.7" lengthAdjust="spacingAndGlyphs"  xml:space="preserve">10.00</text>
<text x="1667.5" y="762.5" font-size="18.6" textLength="169.8" lengthAdjust="spacingAndGlyphs" font-style="italic"  xml:space="preserve">EXISTING ROADWAY</text>
<text x="1894.1" y="859.0" font-size="18.6" textLength="209.8" lengthAdjust="spacingAndGlyphs"  xml:space="preserve">LIGHTING IF NECESSARY</text>
<text x="1881.3" y="955.0" font-size="18.6" textLength="443.6" lengthAdjust="spacingAndGlyphs"  xml:space="preserve">CONCRETE BARRIER TYPE II (SINGLE SLOPE TYPE)</text>
<text x="1883.8" y="981.6" font-size="18.6" textLength="426.8" lengthAdjust="spacingAndGlyphs"  xml:space="preserve">(SEE.DWG. RS-609/1) WITH REFLECTIVE TARGET</text>
<text x="1213.5" y="970.7" font-size="18.6" textLength="283.9" lengthAdjust="spacingAndGlyphs"  xml:space="preserve">0.15 M. YELLOW SOLID LINE/PG.</text>
<text x="1213.5" y="998.2" font-size="18.6" textLength="322.6" lengthAdjust="spacingAndGlyphs"  xml:space="preserve">WITH ROAD STUD @ 12.00 M. (TYP.)</text>
<text x="1936.8" y="1029.5" font-size="18.6" textLength="283.6" lengthAdjust="spacingAndGlyphs"  xml:space="preserve">0.15 M. YELLOW SOLID LINE/PG.</text>
<text x="1936.2" y="1057.2" font-size="18.6" textLength="321.7" lengthAdjust="spacingAndGlyphs"  xml:space="preserve">WITH ROAD STUD @ 12.00 M. (TYP.)</text>
<text x="1164.1" y="1087.5" font-size="18.6" textLength="258.6" lengthAdjust="spacingAndGlyphs"  xml:space="preserve">0.15 M. WHITE  BROKEN LINE</text>
<text x="2053.6" y="1108.1" font-size="18.6" textLength="248.5" lengthAdjust="spacingAndGlyphs"  xml:space="preserve">0.15 M. WHITE BROKEN LINE</text>
<text x="1059.0" y="1151.8" font-size="18.6" textLength="227.7" lengthAdjust="spacingAndGlyphs"  xml:space="preserve">0.15 M. WHITE SOLID LINE</text>
<text x="2216.1" y="1151.4" font-size="18.6" textLength="227.7" lengthAdjust="spacingAndGlyphs"  xml:space="preserve">0.15 M. WHITE SOLID LINE</text>
<text x="710.5" y="1202.7" font-size="18.6" textLength="299.7" lengthAdjust="spacingAndGlyphs"  xml:space="preserve">TOP SOIL 0.10 M.&amp;STRIP SODDING</text>
<text x="2522.7" y="1338.6" font-size="18.6" textLength="298.2" lengthAdjust="spacingAndGlyphs"  xml:space="preserve">TOP SOIL 0.10 M.&amp;STRIP SODDING</text>
<text x="2698.6" y="1372.5" font-size="18.6" textLength="298.5" lengthAdjust="spacingAndGlyphs"  xml:space="preserve">TOP SOIL 0.10 M.&amp;STRIP SODDING</text>
<text x="2360.1" y="1271.2" font-size="18.6" textLength="121.8" lengthAdjust="spacingAndGlyphs"  xml:space="preserve">SINGLE SLOPE</text>
<text x="2360.0" y="1295.7" font-size="18.6" textLength="244.7" lengthAdjust="spacingAndGlyphs"  xml:space="preserve">CONCRETE BARRIER TYPE III</text>
<text x="1585.1" y="1335.5" font-size="18.6" textLength="49.8" lengthAdjust="spacingAndGlyphs"  xml:space="preserve">−2.50</text>
<text x="1845.0" y="1335.7" font-size="18.6" textLength="50.7" lengthAdjust="spacingAndGlyphs"  xml:space="preserve">−2.50</text>
<text x="942.0" y="1477.5" font-size="19" textLength="82.8" lengthAdjust="spacingAndGlyphs"  xml:space="preserve">2:1 (H:V)</text>
<text x="1093.4" y="1471.0" font-size="20" textLength="43.6" lengthAdjust="spacingAndGlyphs"  xml:space="preserve">1.00</text>
<text transform="translate(1113.5,1378.5) rotate(-13.5)" font-size="18" style="word-spacing:.08em" textLength="81" lengthAdjust="spacingAndGlyphs">4:1 (H:V)</text>
<text transform="translate(2373.5,1379.5) rotate(25.5)" font-size="18.6" textLength="84" lengthAdjust="spacingAndGlyphs">2:1 (H:V)</text>
<text transform="translate(2664.5,1455.5) rotate(27)" font-size="18.6" textLength="88" lengthAdjust="spacingAndGlyphs">2:1 (H:V)</text>
<text transform="translate(2516.3,1431) rotate(2.5)" font-size="18.6" textLength="53.5" lengthAdjust="spacingAndGlyphs">−5.0%</text>
<text x="2292.7" y="1560.5" font-size="18.6" textLength="84.9" lengthAdjust="spacingAndGlyphs"  xml:space="preserve">BENCHING</text>
<text x="2290.7" y="1581.8" font-size="18.6" textLength="93.1" lengthAdjust="spacingAndGlyphs"  xml:space="preserve">SEE DWG.D</text>
<text x="1750.8" y="1465.0" font-size="18.6" textLength="228.1" lengthAdjust="spacingAndGlyphs"  xml:space="preserve">SEE STD.DWG.NO. DS−402</text>
<text x="1549.7" y="2211.2" font-size="25.3" textLength="331.0" lengthAdjust="spacingAndGlyphs"  xml:space="preserve">TYPICAL CROSS SECTION 5</text>
<line x1="1558.0" y1="2224.5" x2="1876.8" y2="2224.5" stroke="#000" stroke-width="2.2" />
<text x="1555.8" y="2242.1" font-size="18" textLength="53.1" lengthAdjust="spacingAndGlyphs"  xml:space="preserve">SCALE</text>
<text x="1847.6" y="2242.1" font-size="18" textLength="46.2" lengthAdjust="spacingAndGlyphs"  xml:space="preserve">1:100</text>
</g>
<defs>
<path id="T1" d="M924-140l-7 0-7 4-7 14 0 16 3 9 7 6 10-2 3 2 0 57-3 12-5 5-9 1-10-8-7-53-15-9 5 44 5 24 4 8 7 7 9 4 11 0 12-6 7-12 2-13-1-89-4-13-5-6zM915-125l6 0 5 6 0 8-5 7-5 0-5-6 0-10zM780-136l-13 11-5 8-6 22 0 26 6 36 1 33 18 1 4-25 8-25 2 0 4 6 11 2 7-5 4-8 1-20-3-9-9-7-8 0-5 2-11 13-8 23-2 17-3 0-4-33 0-17 4-18 6-10 10-8 17-2 14 6 8 10 4 10 2 15 0 83 13 0 0-88-6-28-5-9-9-9-9-5-23-2zM806-77l7 4 2 7-2 8-5 4-4-1-5-6 0-9 2-4zM575-138l-13 8-6 7-12 25 8 5 9 10-7 14-4 17 0 53 13 0 1-57 5-16 6-8-5-12-11-10 12-15 13-6 15 2 7 6 6 10 4 23 0 83 13 0 0-90-4-23-6-13-12-11-13-4zM454-138l-8 9-4 17 2 27 6 12 7 5-9 10-4 11 0 48 73 0 0-139-13-1 0 121-2 2-43 0-2-2 0-27 3-9 8-6 14-2 0-12-10 0-8-3-5-5-2-10 13 1 7-5 4-9 0-16-4-12-5-5-5-2zM462-125l6 0 4 4 0 12-5 5-5 0-5-6 0-9zM282-124l-10 17-3 10 7 3 10 11-8 14-3 13 1 40 2 7 7 8 4 2 12-1 8-10 1-21-3-10-9-7-10 1 3-20 9-15-7-12-9-7 5-10 6-6 13-6 16 2 8 7 6 13 2 10 0 90 14 0 32-28 2 1 0 14 5 11 6 4 7 0 7-4 5-11 1-15-5-18-5-5-8-3-1-84-12 0 0 87-33 30-2-2 0-72-4-18-6-12-15-12-22-2-12 5zM293-34l3 0 6 8-1 9-5 5-5 0-4-4-1-5 1-8zM402-40l6 4 2 5 0 13-4 5-5-2zM203-140l-14 6-9 10-8 16-3 14 46 13 6 6 3 8 0 21-2 2-2-2-7 0-6 5-3 7-1 16 2 9 6 8 13 2 9-7 3-10 1-59-3-8-10-10-14-7-19-6-1-3 10-12 5-2 10 0 16 8 15 2 3-5 2-12-11 0-25-10zM221-34l6 6 0 9-3 5-6 2-5-5-1-10 4-6zM91-138l-13 8-6 7-12 25 8 5 9 10-7 14-4 17 0 53 13 0 1-57 5-16 6-8-5-12-11-10 12-15 13-6 15 2 7 6 6 10 4 23 0 83 13 0 0-90-4-23-6-13-12-11-13-4zM954-146l20 31 8 23 4 25 0 30-6 31-10 24-16 22 15 1 16-23 12-30 4-24 0-34-4-23-14-33-15-20zM32-146l-14 19-14 33-4 22 0 39 4 22 14 33 14 19 14 0-21-35-6-18-4-23 0-35 4-23 14-34 13-18zM856-205l-12-1-2 8-9 15-10 10-6 3-1-3 3-10-2-16-10-9-10 2-7 11 1 11 7 9 9 1-3 9-6 5 0 8 19-3 16-10 13-15zM803-199l7 6 0 5-5 6-3 0-5-7 2-7zM398-209l-12 0-1 24-9-8-13-5-11 0-11 4-17 16-8 17 45 4 37 8zM339-174l8-7 17-2 9 4 8 12-6 1-13-4-22-2zM677-222l-11 4-8 8-10 19-2 15 28 5 12 8 6 8 2 19 0 118 7 15 7 4 8 0 5-2 7-9 1-20-6-14-7-3-9 1 0-94-2-17-4-10-8-9-10-6-20-7 4-8 10-8 8 0 24 11 13 1 13-8 1-15-11 6-11 0-28-12zM712-37l4 0 6 9-1 11-6 6-5-1-4-8 1-12z"/>
<path id="T2" d="M462-21l0 20 16 0 0-20zM3689-74l0 13 89-1-1-12zM3803-138l-4 73 15 0 12-8 10-2 12 2 7 4 8 11 2 6 0 15-5 13-7 7-9 4-7 1-16-5-7-7-4-9-15 2 6 16 9 9 10 5 22 2 14-3 14-10 8-13 3-15-1-18-7-15-9-9-8-4-23-2-18 8 1-42 2-2 55 0 1-13zM3164-138l-51 137 17-1 10-30 5-9 56 0 15 39 17 1-50-136zM3173-122l2 1 6 22 16 42-2 3-43 0-2-2zM3538-139l-57 90-1 16 58 0 1 30 14 1 1-30 17-1 1-12-18-2 0-91zM3538-117l1 70-44 1-1-2zM3935-140l-18 7-12 15-6 19-2 39 4 27 6 15 6 8 13 9 20 2 9-2 10-6 13-19 6-28 0-31-6-28-10-17-16-9zM3942-127l12 4 9 11 4 13 2 37-2 20-4 14-10 12-13 4-12-4-10-12-4-14-2-30 2-25 6-18 8-8zM3623-140l-18 7-12 15-6 19-2 39 4 27 6 15 6 8 13 9 20 2 9-2 10-6 13-19 6-28 0-31-6-28-10-17-16-9zM3630-127l12 4 9 11 4 13 2 37-2 20-4 14-10 12-13 4-12-4-10-12-4-14-2-30 2-25 6-18 8-8zM3297-140l-11 2-14 6-13 11-6 9-8 23-1 30 5 23 6 12 12 13 19 10 24 2 12-2 21-11 13-16 2-8-13-5-6 11-10 10-14 6-19 0-15-7-15-18-4-12-2-25 4-21 8-14 6-6 17-8 20 0 11 4 10 8 7 12 15-7-10-16-10-8-23-8zM2923-136l-7 4-11 13-7 25 1 31 6 39 0 25 16 0 9-9 12-17 8-21 2-26-2-9-6-7-5-2-10 1-8 9-2 7 2 19 6 7 8 4-6 12-7 7-2 0-2-4-6-37 0-29 4-12 10-12 14-5 8 0 12 4 9 9 6 17 0 93 13 1 1-81-3-27-4-11-11-14-11-6-23-2zM2931-77l7 0 4 6-1 11-5 4-6-1-4-8 1-7zM2830-140l-13 6-9 10-9 19-2 12 35 8 11 4 6 6 3 9 0 20-10 0-7 5-4 11 0 14 2 8 6 7 13 2 8-6 4-10 0-63-5-9-6-5-20-10-13-3-2-4 4-7 10-7 11 0 19 9 13 1 4-17-11 0-25-10zM2849-34l6 6 0 10-3 4-6 2-6-7 0-9 4-5zM2719-138l-11 6-13 16-7 19 8 4 9 11-6 10-5 17 0 56 13 0 1-61 4-11 7-10-7-13-9-8 14-17 11-4 15 2 12 15 4 17 0 90 13 0 0-96-6-24-6-9-9-8-14-4zM2630-140l1 125 6 12 7 4 9 0 4-2 7-9 2-8-1-14-7-14-4-2-11 1 0-93zM2647-37l6 0 5 8 0 11-6 7-8-4-2-8 2-11zM2432-140l-19 14-8 14-4 18 0 18 6 39 2 38 15 0 8-8 11-15 11-27 1-24-3-10-9-7-7 0-6 3-7 12 0 19 4 8 11 7-5 10-9 8-2-2-6-35-1-33 5-16 10-10 4 0 13 13 14-13 7 2 7 8 4 13 0 97 13 0 0-95-6-25-11-15-11-6-16 14zM2436-76l6 1 4 9-1 7-6 5-5-1-4-6 0-8zM2333-140l-13 6-11 12-10 28 36 9 12 5 4 4 3 7 1 23-11 0-5 3-5 12 0 16 3 9 5 5 13 2 9-8 3-12 1-52-2-9-13-14-30-11-3-3 4-7 11-8 10 0 23 10 9 0 4-17-11 0-24-10zM2348-34l6 1 4 7-1 9-7 5-6-4-2-5 1-8zM2222-138l-17 12-8 12-6 17 8 4 9 11-7 12-4 14 0 57 13 0 0-55 4-15 8-11-6-13-7-5-3-5 9-12 16-8 10 0 6 3 7 7 5 10 3 16 0 87 13 1 0-94-5-23-6-11-7-7-8-4-9-2zM2074-138l-7 9-2 20 8 16 5 2 10-1 0 91 15 0 37-28 3 1 2 18 3 6 6 5 12-2 6-7 2-6 0-25-4-11-14-10 0-79-13 1 0 88-39 28-3-1-1-100-4-10-9-7zM2158-41l7 9 0 16-3 4-3 0-3-5 0-22zM2080-126l5 1 4 6 0 7-7 8-3 0-5-5-1-6 1-6zM1984-138l-17 13-7 12 6 6 6-7 11-7 19-2 9 4 9 9 5 13 0 80-44 1-2-2 0-23 2-2 3 2 10-2 6-7 2-8 0-10-5-16-8-6-10 0-8 8-4 11-1 72 72 0 0-104-2-10-7-14-11-9-15-4zM1988-77l5 6 0 11-3 4-6 2-6-7 0-9 3-5zM1859-134l-14 16-6 19 0 36 6 33 1 31 18-1 4-26 7-23 9 7 8 1 8-6 4-8 1-15-3-12-5-6-5-2-10 1-7 5-8 12-6 18-2 19-3 0-4-27 0-28 2-9 6-12 8-8 12-4 8 0 12 4 9 9 4 9 3 14 0 87 13 1 0-92-5-23-6-11-7-7-11-6-22-2zM1889-77l8 7 0 9-7 7-4-1-4-5 0-11zM1718-137l-7 10-1 19 3 10 9 7 7 0 2-2 2 2-1 91 18 0 34-107 4-9 6-4 4 7 0 114 13 0 0-120-4-14-9-7-7 0-11 8-33 97-2-5 1-67-2-16-4-10-5-5-11-2zM1724-126l6 1 4 6-1 10-6 5-3 0-6-9 1-8zM1632-138l-13 8-13 14 3 11 2 2 12-12 10-6 7-2 16 2 4 2 11 13 4 30-2 1-6-7-16-8-18 2-13 11-8 20 0 36 3 12 7 8 5 2 9-1 7-6 5-17-2-15-4-7-5-3-11 2-1-9 8-14 8-4 9 0 10 4 6 6 5 10 3 14 0 37 13 1 1-85-5-29-7-12-11-9-13-4zM1629-33l6 0 4 4 0 13-5 4-5 0-5-7 0-8zM1280-138l-16 12-7 14 6 5 12-12 13-4 16 2 11 9 4 7 3 14 0 73-2 2-44-1 0-25 10 1 9-7 3-8 0-16-4-11-8-7-10 0-7 5-6 16-1 69 73 1 0-96-4-22-4-8-9-9-8-4-10-2zM1280-77l4 0 6 8-2 11-6 4-6-4-2-5 1-8zM1197-140l0 120 7 17 7 4 9 0 9-7 3-7 0-19-2-7-6-7-4-2-10 1 0-93zM1214-37l6 0 5 8 0 11-6 7-5-1-4-5 0-15zM1142-140l1 124 6 13 7 4 8 0 7-4 5-7 2-18-2-9-6-9-5-2-8 2-2-2 0-92zM1159-37l6 0 5 8 0 11-6 7-5-1-4-6 0-13zM1097-140l-12 2-8 10-2 7 0 14 4 11 6 5 13-1 0 62-3 9-7 5-9-1-5-4-4-7-6-50-15-8 10 67 6 11 8 7 6 2 12 0 9-4 6-6 5-16 0-90-5-18zM1088-125l6 0 5 9-1 6-5 6-5 0-5-8 1-9zM976-140l-10 4-10 9-5 8-5 16 9 3 7-13 12-9 12-1 11 7 4 6 3 12 0 98 13 1 1-95-2-15-6-15-9-10-14-6zM829-138l-8 9-2 20 6 14 7 4 10 0-1 91 18 0 37-114 7-6 4 4 0 116 13 1 0-124-4-11-9-6-7 0-5 2-6 7-30 92-3 4-2-86-4-11-5-6-4-2zM834-126l6 1 3 4 0 11-6 6-5-1-4-6 0-9zM754-140l-12 4-9 6-13 17 6 6 14-12 12-4 12 0 7 2 10 9 4 13 0 52-11-1-7 5-4 10 0 19 8 12 6 3 8 0 8-6 5-13 0-85-2-10-5-11-8-9-12-6zM776-35l7 1 4 7-1 8-6 6-4 0-5-8 1-10zM630-140l-8 7-5 12-1 121 14 1 24-46 4-3 24 48 14 1 0-139-13 0 0 111-3-1-22-48-3 0-24 49-1-65 10 1 8-6 4-10 0-14-3-10-6-7zM634-125l4 0 5 6 0 10-7 6-4-1-4-6 0-8zM344-138l-5 5-3 8-1 9 2 13 7 10 4 2 10-1 0 37-9 3-6 7-2 6-1 19 4 14 10 7 11-2 5-7 1-19 3-2 37 28 15 1 0-138-13 0-1 118-40-29-2-75-3-8-10-8zM356-41l2 2 0 22-5 4-4-6 0-13 2-5zM349-125l6 0 4 4 0 11-6 6-4 0-5-7 0-8zM40-140l-13 4-7 5-13 19-6 26 0 38 5 21 7 13 8 8 12 6 20 1 14-6 13-17 4-14-2-28-7-13-8-7-8-4-12-2-19 5-11 11 0-21 5-16 4-6 10-8 9-2 9 2 5 3 8 12 11-2 2-4-4-9-12-11-12-4zM38-77l10 0 9 4 7 7 5 15 0 11-5 16-7 8-11 4-12-2-10-9-4-7-3-14 0-10 3-10 8-9zM317-144l-14 0 0 8-4 10-8 8-12 6-4-2-7-17-10-9-13 13-16-12-10 9-6 10-4 13-1 26 7 16 7 4 7 0 7-4 6-13 0-17-2-6-4-5-11-3 3-9 3-1 14 11 13-11 5 8 2 18-8 10-3 9 0 75 54 0 0-80-6-15-10-10 10-6 9-10 5-12zM278-93l5 1 7 7 5 10-1 59-27-1 0-56 3-10zM226-97l3 1 5 7-1 10-5 5-6-2-4-6 2-11zM1458-147l-13 0-6 15-5 5-17-11-8-2-17 1-16 9-13 14 5 13 18-16 11-4 11 0 9 4 8 8 6 16-1 20-6-7-10-6-18-2-12 6-11 13-4 12 0 40 4 12 6 6 5 2 11-2 5-5 4-9 0-18-4-10-7-5-11 1 2-15 6-7 8-4 15 2 11 10 7 20 0 40 13 0 0-98-4-15 14-15 4-11zM1386-33l6 0 5 8-1 7-5 6-5 0-5-8 1-9zM1515-198l-5 2-5 7-1 17 4 12 9 9 13 3 13-1 8-4 11-12 1 1 0 128-3-1-22-95-3 0-2 3-20 93-3 0 0-81-2-10-4-8-8-5-13 2-8 12 0 22 2 6 7 7 13-1 0 93 16 0 21-96 2-2 5 14 19 83 16 1 1-180-10-3 1-15-8 0-3 17-6 11-6 5-14 2-4-3 5-9-1-15-5-7zM1493-126l4 4 2 8-4 8-7 2-4-4-1-10 5-7zM1517-188l5 1 3 4 0 7-5 6-5 0-4-8 1-6zM611-162l50 5 33 7-6-23-6-11-13-12-12-4-9 0-16 6-13 14zM631-174l11-11 16-2 7 3 8 8 4 10-45-5zM2370-209l-12 1-1 22-11-8-11-4-11 0-14 6-14 14-8 17 45 4 37 8zM2310-173l9-8 18-2 8 4 6 6 2 6-6 1zM1816-218l-12 0-12 12-14 4-13 9-4 9 0 15 7 12 5 3 11 1 8-6 4-16-3-10-6-6 15-8 11-11zM1776-185l5 0 6 6 0 10-7 7-4 0-6-6 0-11z"/>
<path id="T3" d="M462-21l0 20 16 0 0-20zM3985-73l1 12 88 0 0-13zM4099-138l-4 73 16 0 7-6 8-3 9-1 10 2 12 10 4 8 1 12-3 15-4 6-10 8-10 2-12-2-11-8-6-11-14 2 1 7 6 11 6 6 11 6 9 2 25-2 16-10 8-13 4-20-2-16-4-9-9-11-17-8-16 0-8 2-10 6-2-2 2-34 3-8 55 0 0-14zM3460-138l-51 137 17-1 10-30 5-9 56 0 15 39 17 1-50-136zM3469-122l2 1 6 22 16 42-2 3-43 0-2-2zM3834-139l-57 91-1 14 58 1 2 2 0 28 14 1 0-30 18-1 0-13-18-1 0-92zM3834-117l2 2 0 67-2 2-42 0-1-2zM4231-140l-18 7-12 15-6 19-2 39 4 27 6 15 6 8 13 9 20 2 9-2 10-6 13-19 6-28 0-31-6-28-10-17-16-9zM4238-127l12 4 9 11 4 13 2 37-2 20-4 14-10 12-13 4-12-4-10-12-4-14-2-30 2-25 6-18 8-8zM3919-140l-18 7-12 15-6 19-2 39 4 27 6 15 6 8 13 9 20 2 9-2 10-6 13-19 6-28 0-31-6-28-10-17-16-9zM3926-127l12 4 9 11 4 13 2 37-2 20-4 14-10 12-13 4-12-4-10-12-4-14-2-30 2-25 6-18 8-8zM3594-140l-22 6-11 8-12 15-8 24 0 33 6 21 14 20 11 8 10 4 24 2 13-2 15-7 14-13 7-14-13-6-14 19-16 8-19 0-17-8-14-18-4-13-1-28 5-19 6-10 8-8 16-7 19 0 12 4 12 11 4 9 14-5 1-3-7-12-12-11-24-8zM3219-136l-7 4-11 13-7 25 1 31 6 39 0 25 16 0 9-9 12-17 8-21 2-26-2-9-6-7-5-2-10 1-8 9-2 7 2 19 6 7 8 4-6 12-7 7-2 0-2-4-6-37 0-29 4-12 10-12 14-5 8 0 12 4 9 9 6 17 0 93 13 1 1-81-3-27-4-11-11-14-11-6-23-2zM3227-77l7 0 4 6-1 11-5 4-6-1-4-8 1-7zM3127-140l-13 6-11 12-10 28 36 9 12 5 4 4 3 7 1 23-11 0-5 3-5 12 0 16 3 9 5 5 13 2 9-8 3-12 1-52-2-9-13-14-30-11-3-3 4-7 11-8 10 0 23 10 9 0 4-17-11 0-24-10zM3142-34l6 1 4 7-1 9-7 5-6-4-2-5 1-8zM3015-138l-14 9-10 14-6 14 0 4 6 3 10 11-10 24-1 59 14 0 0-57 4-13 7-10-3-9-12-11 0-3 5-8 12-10 17-2 12 8 7 14 2 8 0 93 13 1 1-86-5-30-6-11-11-10-13-4zM2926-140l1 125 6 12 7 4 9 0 4-2 7-9 2-8-1-14-7-14-4-2-11 1 0-93zM2943-37l6 0 5 8 0 11-6 7-8-4-2-8 2-11zM2729-140l-11 6-9 9-10 21-1 31 7 49 0 25 16 0 5-5 18-26 6-17 2-12-2-21-5-7-6-3-11 2-7 9-2 21 5 11 11 5-5 10-8 8-2 0-2-4-6-36-1-25 5-19 11-11 3 0 13 13 15-13 4 0 9 9 4 11 0 99 13 1 1-82-1-17-6-22-11-14-11-6-16 14zM2733-76l4 0 5 6-1 12-6 4-3 0-4-4-2-6 2-8zM2630-140l-14 6-9 10-8 16-3 14 46 13 6 6 3 8 0 21-2 2-2-2-7 0-6 5-3 7-1 16 2 9 6 8 13 2 9-7 3-10 1-59-3-8-10-10-14-7-19-6-1-3 10-12 5-2 10 0 16 8 15 2 3-5 2-12-11 0-25-10zM2648-34l6 6 0 9-3 5-6 2-5-5-1-10 4-6zM2518-138l-17 12-8 12-6 17 8 4 9 11-7 12-4 14 0 57 13 0 0-55 4-15 8-11-6-13-7-5-3-5 9-12 16-8 10 0 6 3 7 7 5 10 3 16 0 87 13 1 0-94-5-23-6-11-7-7-8-4-9-2zM2370-138l-7 9-2 20 8 16 5 2 10-1 0 91 15 0 37-28 3 1 2 18 3 6 6 5 12-2 6-7 2-6 0-25-4-11-14-10 0-79-13 1 0 88-39 28-3-1-1-100-4-10-9-7zM2454-41l7 9 0 16-3 4-3 0-3-5 0-22zM2376-126l5 1 4 6 0 7-7 8-3 0-5-5-1-6 1-6zM2280-138l-17 13-7 12 6 6 6-7 11-7 19-2 9 4 9 9 5 13 0 80-44 1-2-2 0-23 2-2 3 2 10-2 6-7 2-8 0-10-5-16-8-6-10 0-8 8-4 11-1 72 72 0 0-104-2-10-7-14-11-9-15-4zM2284-77l5 6 0 11-3 4-6 2-6-7 0-9 3-5zM2159-136l-13 11-5 8-6 22 0 26 6 36 1 33 18 1 4-25 8-25 2 0 4 6 11 2 7-5 4-8 1-20-3-9-9-7-8 0-5 2-11 13-8 23-2 17-3 0-4-33 0-17 4-18 6-10 10-8 17-2 14 6 8 10 4 10 2 15 0 83 13 0 0-88-6-28-5-9-9-9-9-5-23-2zM2185-77l7 4 2 7-2 8-5 4-4-1-5-6 0-9 2-4zM2014-137l-7 10-1 19 3 10 9 7 7 0 2-2 2 2-1 91 18 0 34-107 4-9 6-4 4 7 0 114 13 0 0-120-4-14-9-7-7 0-11 8-33 97-2-5 1-67-2-16-4-10-5-5-11-2zM2020-126l6 1 4 6-1 10-6 5-3 0-6-9 1-8zM1928-138l-10 6-14 14-1 6 3 8 2 1 9-10 13-8 7-2 16 2 6 4 8 10 4 17 0 14-2 1-11-11-11-4-17 2-13 10-6 11-3 17 0 24 3 16 7 9 6 2 10-2 8-9 2-21-4-12-7-5-10 2-2-3 1-9 8-11 8-4 9 0 9 4 11 14 4 20 0 34 13 0 0-93-6-25-8-11-13-8-8-2zM1925-33l7 0 4 6 0 9-5 6-6 0-4-6 0-9zM1576-138l-16 12-7 14 6 5 12-12 13-4 16 2 11 9 4 7 3 14 0 73-2 2-44-1 0-25 10 1 9-7 3-8 0-16-4-11-8-7-10 0-7 5-6 16-1 69 73 1 0-96-4-22-4-8-9-9-8-4-10-2zM1576-77l4 0 6 8-2 11-6 4-6-4-2-5 1-8zM1493-140l1 122 3 10 6 7 14 2 7-5 4-7 0-23-7-12-4-2-11 1 0-93zM1511-37l5 0 5 6 0 14-6 6-5-1-4-6 0-13zM1439-140l0 122 4 11 5 6 13 2 7-4 6-12 0-17-2-7-6-7-4-2-10 1 0-93zM1456-37l5 0 6 10-1 11-5 5-6-1-4-9 1-12zM1393-140l-7 0-7 4-7 14 0 16 3 9 7 6 10-2 3 2 0 57-3 12-5 5-9 1-10-8-7-53-15-9 5 44 5 24 4 8 7 7 9 4 11 0 12-6 7-12 2-13-1-89-4-13-5-6zM1384-125l6 0 5 6 0 8-5 7-5 0-5-6 0-10zM1272-140l-10 4-8 7-7 11-4 16 8 2 6-11 8-8 9-4 9 0 12 9 6 18 0 97 13 0 0-101-2-11-7-15-9-9-12-5zM1124-137l-7 10-1 19 3 10 9 7 7 0 2-2 2 2-1 91 18 0 34-107 4-9 6-4 4 7 0 114 13 0 0-120-4-14-9-7-7 0-11 8-33 97-2-5 1-67-2-16-4-10-5-5-11-2zM1130-126l6 1 4 6-1 10-6 5-3 0-6-9 1-8zM1050-140l-18 8-11 11-4 9 5 5 15-12 11-4 13 0 10 4 8 10 3 18 0 43-2 2-10-2-7 6-4 12 0 14 3 8 7 7 12 2 9-7 5-18-1-82-6-17-10-11-11-5zM1073-35l5 0 5 6 0 9-6 7-6-1-3-4 0-12zM926-140l-8 7-5 12-1 121 14 1 24-46 4-3 24 48 14 1 0-139-13 0 0 111-3-1-22-48-3 0-24 49-1-65 10 1 8-6 4-10 0-14-3-10-6-7zM930-125l4 0 5 6 0 10-7 6-4-1-4-6 0-8zM873-140l-8 0-7 4-7 13 0 18 3 8 7 6 12-1 0 66-7 9-9 1-9-7-4-14-4-40-15-9 6 52 4 16 6 11 14 8 11 0 12-6 8-16 0-99-4-12zM863-125l6 0 5 7-1 9-4 5-5 0-6-9 2-9zM740-138l-16 12-7 14 6 5 12-12 13-4 16 2 11 9 4 7 3 14 0 73-2 2-44-1 0-25 10 1 9-7 3-8 0-16-4-11-8-7-10 0-7 5-6 16-1 69 73 1 0-96-4-22-4-8-9-9-8-4-10-2zM740-77l4 0 6 8-2 11-6 4-6-4-2-5 1-8zM648-140l-14 6-9 10-8 16-3 14 46 13 6 6 3 8 0 21-2 2-2-2-7 0-6 5-3 7-1 16 2 9 6 8 13 2 9-7 3-10 1-59-3-8-10-10-14-7-19-6-1-3 10-12 5-2 10 0 16 8 15 2 3-5 2-12-11 0-25-10zM666-34l6 6 0 9-3 5-6 2-5-5-1-10 4-6zM344-138l-5 5-3 8-1 9 2 13 7 10 4 2 10-1 0 37-9 3-6 7-2 6-1 19 4 14 10 7 11-2 5-7 1-19 3-2 37 28 15 1 0-138-13 0-1 118-40-29-2-75-3-8-10-8zM356-41l2 2 0 22-5 4-4-6 0-13 2-5zM349-125l6 0 4 4 0 11-6 6-4 0-5-7 0-8zM40-140l-13 4-7 5-13 19-6 26 0 38 5 21 7 13 8 8 12 6 20 1 14-6 13-17 4-14-2-28-7-13-8-7-8-4-12-2-19 5-11 11 0-21 5-16 4-6 10-8 9-2 9 2 5 3 8 12 11-2 2-4-4-9-12-11-12-4zM38-77l10 0 9 4 7 7 5 15 0 11-5 16-7 8-11 4-12-2-10-9-4-7-3-14 0-10 3-10 8-9zM317-144l-14 0 0 8-4 10-8 8-12 6-4-2-7-17-10-9-13 13-16-12-10 9-6 10-4 13-1 26 7 16 7 4 7 0 7-4 6-13 0-17-2-6-4-5-11-3 3-9 3-1 14 11 13-11 5 8 2 18-8 10-3 9 0 75 54 0 0-80-6-15-10-10 10-6 9-10 5-12zM278-93l5 1 7 7 5 10-1 59-27-1 0-56 3-10zM226-97l3 1 5 7-1 10-5 5-6-2-4-6 2-11zM1754-147l-13 0-6 15-5 5-17-11-8-2-17 1-16 9-13 14 5 13 18-16 11-4 11 0 9 4 8 8 6 16-1 20-6-7-10-6-18-2-12 6-11 13-4 12 0 40 4 12 6 6 5 2 11-2 5-5 4-9 0-18-4-10-7-5-11 1 2-15 6-7 8-4 15 2 11 10 7 20 0 40 13 0 0-98-4-15 14-15 4-11zM1682-33l6 0 5 8-1 7-5 6-5 0-5-8 1-9zM1811-198l-5 2-5 7-1 17 4 12 9 9 13 3 13-1 8-4 11-12 2 1 0 126-2 1-2-3-22-92-3 0-22 96-3 0 1-71-2-18-8-13-4-2-13 2-8 11-1 21 4 10 4 4 14 0 0 92 17 0 20-93 3-3 24 97 16 0 0-181-8 0-2-2 1-15-8 0-3 17-6 11-6 5-14 2-4-3 5-9-1-15-5-7zM1787-126l6 3 2 12-5 6-6 1-4-5 0-11zM1813-188l5 1 3 4 0 7-5 6-5 0-4-8 1-6zM908-161l49 4 33 7-2-13-9-20-10-11-16-6-13 1-14 7-11 13zM928-175l11-10 15-2 6 2 9 8 5 11-4 1-23-5-18-1zM2667-208l-12-1-1 24-11-9-11-4-12 0-10 4-19 18-6 15 45 4 37 8zM2607-174l9-7 17-2 10 5 7 11-6 1-14-4-17-1zM2113-218l-12 0-13 12-14 4-12 8-5 12 0 11 2 7 8 9 13 2 9-7 3-8 0-10-8-14 16-8 8-8zM2073-185l6 1 5 8-1 8-6 6-7-2-4-6 0-7z"/>
<path id="T4" d="M1022-21l0 20 16 0 0-20zM464-21l0 20 16 0 0-20zM1671-53l-3 7 0 12 3 12 9 10 6 3 11 1 13-3 13-10 7-14 3-22-10 0 0 9-4 13-8 9-8 4-9 0-2-2 4-9 0-14-6-10-10-2zM1680-49l4 0 5 6 0 8-5 5-4 0-4-5 0-10zM1671-112l-3 7 0 13 3 11 6 8 7 4 17 2 15-6 10-11 6-18 1-14-10 0 0 10-5 14-6 7-8 4-10 0-3-2 5-9 0-13-6-11-10-2zM1681-108l3 0 5 6 0 8-5 5-4 0-4-5 0-9zM887-138l0 137 15-1-1-114 4 3 63 111 20 1 1-136-15 0 1 114-2 1-67-116zM838-138l0 137 16 0 0-137zM683-138l0 137 14-1 0-116 2 1 10 35 30 81 11-1 30-85 8-29 3 0-1 114 14 1 1-136-22 0-38 113-2 1-5-21-33-93zM2935-140l-11 6-9 9-10 21-1 31 7 49 0 25 16 0 5-5 18-26 6-17 2-12-2-21-5-7-6-3-11 2-7 9-2 21 5 11 11 5-5 10-8 8-2 0-2-4-6-36-1-25 5-19 11-11 3 0 13 13 15-13 4 0 9 9 4 11 0 99 13 1 1-82-1-17-6-22-11-14-11-6-16 14zM2939-76l4 0 5 6-1 12-6 4-3 0-4-4-2-6 2-8zM2819-138l-13 8-13 14 4 13 13-12 10-6 7-2 16 2 14 13 4 13 0 19-2 1-5-7-16-8-18 2-13 11-8 19 0 39 4 12 11 8 9-1 7-6 4-9 0-19-2-7-8-7-11 2-1-10 2-6 6-7 8-4 9 0 10 4 6 6 6 12 2 10 0 40 13 0 0-98-4-16-7-12-11-9-13-4zM2816-33l6 0 5 7-1 9-5 5-5 0-5-8 1-9zM2467-138l-16 12-8 13 7 6 12-12 13-4 10 0 10 4 8 8 6 18 0 75-2 2-43 0-2-2 0-23 2-2 9 2 7-4 5-12-1-20-3-6-8-7-10 0-8 7-5 15-1 68 73 1 0-99-4-19-4-8-9-9-8-4-10-2zM2467-77l7 2 3 5 0 8-2 4-6 4-7-6 0-11zM2384-140l1 125 7 13 6 3 9 0 4-2 7-9 2-10-1-11-3-10-9-7-10 1 0-93zM2401-37l6 0 5 10-1 11-5 5-8-4-2-13zM2329-140l0 118 5 16 9 7 8 0 10-7 3-7 0-21-7-12-4-2-11 1 0-93zM2346-37l6 0 5 7 0 13-6 6-5-1-4-6 0-13zM2233-138l-6 5-6 16 0 25 6 17 8 7-8 9-4 10 0 50 72 0 1-138-1-2-13 1 0 121-45 1 0-35 7-8 17-3 0-11-11-1-9-4-5-8 0-6 12 1 8-6 4-11 0-10-2-10-7-10-6-2zM2240-125l7 0 4 6 0 8-6 7-5 0-4-5 0-11zM2145-140l-19 9-15 17 7 7 6-7 8-5 12-4 11 0 11 4 7 8 4 17 0 47-11-1-7 5-4 8-1 17 1 6 6 9 7 4 8 0 10-8 4-15 0-76-2-13-6-14-9-9-11-5zM2168-35l5 0 5 6-1 12-6 4-7-3-2-7 1-6zM2024-137l-9 5-12 15-6 22 0 23 6 39 1 33 16 1 14-15 12-22 5-26-3-21-9-7-11 1-5 4-4 8-1 15 3 10 13 9-6 12-7 7-3-1-8-49 0-13 4-17 10-13 7-4 16-2 12 4 8 8 6 13 2 15-1 83 13 1 1-86-6-30-8-13-15-10-23-2zM2030-77l7 0 4 5 0 10-6 6-4 0-5-5 0-11zM1885-138l-8 9-2 18 2 9 7 10 9 1 3-2 2 2-1 91 73 1 0-139-13 0-1 122-45-1-1-106-4-10-9-7zM1888-125l7 0 4 6 0 9-6 6-5 0-4-5 0-11zM1790-137l-9 5-12 15-6 22 0 23 6 39 1 33 16 1 14-15 12-22 5-26-3-21-9-7-11 1-5 4-4 8-1 15 3 10 13 9-6 12-7 7-3-1-8-49 0-13 4-17 10-13 7-4 16-2 12 4 8 8 6 13 2 15-1 83 13 1 1-86-6-30-8-13-15-10-23-2zM1796-77l7 0 4 5 0 10-6 6-4 0-5-5 0-11zM1598-140l-14 6-9 10-8 16-3 14 46 13 6 6 3 8 0 21-2 2-2-2-7 0-6 5-3 7-1 16 2 9 6 8 13 2 9-7 3-10 1-59-3-8-10-10-14-7-19-6-1-3 10-12 5-2 10 0 16 8 15 2 3-5 2-12-11 0-25-10zM1616-34l6 6 0 9-3 5-6 2-5-5-1-10 4-6zM1456-138l-6 5-3 6-1 18 3 11 7 7 12-1 0 92 72 1 1-138-14 0 0 120-44 1-2-2 1-89-4-24-6-7-5-2zM1459-125l6 0 4 4 0 12-5 5-5 0-5-7 0-7zM1384-140l-10 4-11 10-8 14-4 19 28 6 17 6 6 5 3 6 0 24-10 0-6 4-4 10 0 18 3 8 5 5 12 2 8-5 5-14 0-59-4-8-10-9-30-11-3-3 4-7 11-8 10 0 23 10 9 0 4-17-11 0-24-10zM1400-34l6 2 3 5-2 11-6 4-6-4-2-6 1-7zM346-138l-5 5-3 8-1 9 2 13 7 10 4 2 10-1 0 37-9 3-6 7-2 6-1 19 4 14 10 7 11-2 5-7 1-19 3-2 37 28 15 1 0-138-13 0-1 118-40-29-2-75-3-8-10-8zM358-41l2 2 0 22-5 4-4-6 0-13 2-5zM351-125l6 0 4 4 0 11-6 6-4 0-5-7 0-8zM35-140l-16 6-8 7-6 10-3 11 15 2 5-13 14-9 14 0 11 6 6 12 0 12-2 5-6 7-8 4-20 2-1 13 2 2 17 0 11 4 9 10 0 21-3 6-10 8-13 2-11-2-7-4-7-9-3-10-15 2 3 13 6 10 6 5 20 8 18 0 17-6 8-7 6-10 2-23-4-11-9-9-15-6 15-8 5-6 4-9 0-21-6-12-8-7-16-6zM319-144l-14 0 0 8-4 10-8 8-12 6-4-2-7-17-10-9-13 13-16-12-10 9-6 10-4 13-1 26 7 16 7 4 7 0 7-4 6-13 0-17-2-6-4-5-11-3 3-9 3-1 14 11 13-11 5 8 2 18-8 10-3 9 0 75 54 0 0-80-6-15-10-10 10-6 9-10 5-12zM280-93l5 1 7 7 5 10-1 59-27-1 0-56 3-10zM228-97l3 1 5 7-1 10-5 5-6-2-4-6 2-11zM1058-146l21 35 10 39 0 39-6 29-8 19-17 25 14 1 18-26 10-25 4-21 0-43-6-27-12-26-14-19zM651-146l-16 22-10 22-6 26-1 36 7 37 10 22 16 22 14 0-11-15-10-19-10-38-1-28 5-35 12-30 15-21zM2645-147l-12 0-6 13-6 7-12-9-13-4-20 2-13 8-13 14 5 13 18-16 11-4 11 0 9 4 9 9 5 17-1 18-6-7-10-6-18-2-12 6-10 11-5 15-1 28 2 16 9 13 5 2 11-2 8-11 1-20-3-10-8-6-11 1 1-13 7-9 8-4 15 2 11 10 6 14 1 46 14-1-1-95-4-16 11-11 6-12zM2573-33l6 0 4 5 0 11-5 5-5 0-5-7 0-8zM1329-180l-13 1-1 163-45-1 0-101-2-10-7-10-12-2-10 7-4 8 0 19 4 10 6 5 12-1 0 93 73-1zM1248-125l6 0 5 9-1 6-5 6-5 0-5-7 1-10zM2702-198l-6 3-5 8 0 17 6 13 7 6 12 3 14-1 8-4 11-12 2 1 0 129-3-1-24-96-3 0-20 91-2 3-2-1-1-84-7-14-6-3-13 2-7 9-2 19 4 13 6 6 13-1 0 93 16 0 23-98 2 1 22 96 16 1 1-180-10-2 2-15-9-1-2 15-8 14-11 6-8 0-4-3 5-9-1-15-5-7zM2677-126l8 5 0 11-6 6-4 0-5-6 0-9zM2704-188l5 1 3 6-1 7-3 4-6 0-4-6 1-8zM1804-192l-3 7 0 11 4 13 10 10 12 3 13-1 11-6 9-11 6-20 0-11-9 0-2 16-4 9-9 8-14 2-3-2 5-12-3-16-8-6-9 1zM1814-188l5 1 4 7-5 10-5 0-4-5 0-8zM1375-193l-3 7 0 14 4 12 9 9 20 3 14-5 9-9 6-13 3-20-1-2-9 1 0 9-4 12-7 9-9 4-8 0-4-3 5-9 0-11-6-11-11-2zM1385-188l5 1 3 4 0 7-5 6-5 0-4-8 1-6zM2095-205l-12-1-2 8-9 15-10 10-6 3-1-3 3-10-2-16-10-9-10 2-7 11 1 11 7 9 9 1-3 9-6 5 0 8 19-3 16-10 13-15zM2042-199l7 6 0 5-5 6-3 0-5-7 2-7zM3001-218l-12 0-12 12-14 4-14 10-4 17 2 10 6 8 5 3 11 1 7-5 5-15-2-10-7-8 20-12 8-10zM2961-185l5 0 6 7-1 11-6 5-4 0-7-10 2-8z"/>
<path id="T5" d="M1874-54l-4 10 1 14 5 12 8 7 10 3 13-1 14-7 8-10 6-20 0-12-9 0 0 8-4 14-8 10-8 4-10 0-2-2 5-11 0-9-4-11-4-3-8-1zM1883-49l6 2 3 6-1 7-5 4-3 0-5-8 1-7zM1204-53l-3 7 0 12 3 12 9 10 6 3 11 1 13-3 13-10 7-14 3-22-10 0 0 9-4 13-8 9-8 4-9 0-2-2 4-9 0-14-6-10-10-2zM1213-49l4 0 5 6 0 8-5 5-4 0-4-5 0-10zM3063-108l-15 4-6 4-10 12-6 19 0 31 6 19 10 12 16 7 18 1 10-2 12-7 7-9 2-7-12-4-9 12-8 4-17 0-7-4-8-9-5-24 2-2 67 0 0-16-5-20-10-13-11-6zM3041-66l2-11 4-8 8-8 9-3 18 3 10 13 3 14-2 2-50 0zM2990-104l-16-4-13 2-6 3-11 13-2-16-15 1 1 146 15 0 1-57 12 13 12 4 10 0 15-6 7-7 5-10 4-19-2-38-6-15zM2965-95l15 2 8 8 5 21 0 22-5 21-7 7-7 3-9 0-9-3-9-11-4-16 0-20 4-19 8-11zM2858-108l-10 2-10 5-12 15-5 21 0 23 5 20 11 15 16 8 20 0 17-8 11-14 5-19 0-27-4-18-5-9-7-7-10-5zM2859-96l10 0 11 5 6 8 4 13 0 32-2 9-8 13-12 5-9 0-9-3-9-11-4-15 0-27 2-10 4-9 6-6zM2487-108l-14 4-10 8-5 17 2 11 7 9 9 6 36 12 6 6 0 13-7 8-5 2-21 0-9-4-8-12-11 2-2 3 5 11 13 10 13 3 18 0 14-4 10-8 5-10 0-18-11-15-44-16-5-8 0-5 7-10 6-2 18 0 5 2 7 6 3 6 13-3-3-9-8-9-18-6zM2395-108l-14 4-10 8-5 17 2 11 7 9 9 6 36 12 6 6 0 13-7 8-5 2-21 0-9-4-8-12-11 2-2 3 5 11 13 10 13 3 18 0 14-4 10-8 5-10 0-18-11-15-44-16-5-8 0-5 7-10 6-2 18 0 5 2 7 6 3 6 13-3-3-9-8-9-18-6zM2300-108l-10 2-10 5-12 15-5 21 0 23 5 20 11 15 16 8 20 0 17-8 11-14 5-19 0-27-4-18-5-9-7-7-10-5zM2301-96l10 0 11 5 6 8 4 13 0 32-2 9-8 13-12 5-9 0-9-3-9-11-4-15 0-27 2-10 4-9 6-6zM2248-108l-6 0-10 4-6 7-4 10-2-5 0-14-14 0 0 105 15 0 0-60 2-13 4-10 11-9 13 0 0-13zM1874-113l-4 10 2 18 4 8 10 8 7 2 18-2 10-6 8-10 6-19 0-13-9 0-1 13-5 13-13 10-10 0-4-3 6-10 0-9-2-7-5-6-10-2zM1883-108l5 1 4 7-2 8-4 3-5-1-3-6 1-8zM1204-112l-3 7 0 13 3 11 6 8 7 4 17 2 15-6 10-11 6-18 1-14-10 0 0 10-5 14-6 7-8 4-10 0-3-2 5-9 0-13-6-11-10-2zM1214-108l3 0 5 6 0 8-5 5-4 0-4-5 0-9zM3819-138l-6 5-3 6-1 18 3 11 7 7 12-1 0 92 72 1 1-138-14 0 0 120-44 1-2-2 1-89-4-24-6-7-5-2zM3822-125l6 0 4 4 0 12-5 5-5 0-5-7 0-7zM3703-138l-9 12-1 13 2 11 8 11 13-1 0 93 72 0 0-139-13 0 0 120-2 2-44-1 0-99-4-16-10-8zM3706-125l7 0 4 6 0 8-5 7-6 0-4-6 0-9zM3641-140l1 125 7 13 6 3 9 0 4-2 7-9 2-10-1-11-3-10-9-7-10 1 0-93zM3658-37l6 0 5 10-1 11-5 5-8-4-2-13zM3586-140l0 118 5 16 9 7 8 0 10-7 3-7 0-21-7-12-4-2-11 1 0-93zM3603-37l6 0 5 7 0 13-6 6-5-1-4-6 0-13zM3468-138l-8 11 0 22 7 12 4 2 11-1 0 36-12 6-6 13 0 22 4 10 9 6 10-1 6-7 2-6 0-15 2-1 39 29 13 0 1-138-13 0-1 118-41-30 0-63-2-13-8-12-5-2zM3481-40l1 22-5 5-4-4-1-11 3-10zM3472-125l7 0 4 6-1 10-5 5-5 0-5-9 1-7zM3389-140l-10 4-10 9-5 8-5 16 9 3 7-13 12-9 12-1 11 7 4 6 3 12 0 98 13 1 1-95-2-15-6-15-9-10-14-6zM3272-140l-19 14-7 12-4 13 0 36 6 36 0 29 17 1 8-9 16-26 6-21 0-19-4-10-8-6-12 2-7 10-2 15 4 14 7 6 4 0 1 3-12 16-4-2-7-42 0-27 4-12 12-12 3 0 13 13 13-12 5-1 11 12 3 14 0 94 13 0 0-93-5-25-8-13-15-10-16 14zM3276-76l6 1 4 6 0 7-7 8-4 0-5-8 1-9zM2701-140l-16 4-15 11-6 14 0 15 2 6 10 13 10 6 44 12 9 5 7 9 0 15-3 6-7 6-10 4-16 2-14-2-11-5-8-8-4-9-14 2-1 3 9 17 16 11 17 4 23 0 23-8 10-9 5-9 2-11-2-16-5-9-11-9-15-6-33-8-11-6-6-9 0-12 7-10 7-4 10-2 15 0 14 5 7 7 5 9 14-3 0-4-6-12-14-11-18-4zM2124-140l-18 4-22 17-10 20-4 35 6 29 15 22 11 8 10 4 24 2 12-2 16-7 13-12 8-15-12-7-15 20-16 8-19 0-17-8-13-16-6-20 0-25 4-15 6-11 9-9 16-7 19 0 15 6 8 8 6 10 14-7-7-13-12-11-24-8zM1783-138l-13 8-13 14 3 11 2 2 12-12 10-6 7-2 16 2 4 2 11 13 4 30-2 1-6-7-16-8-18 2-13 11-8 20 0 36 3 12 7 8 5 2 9-1 7-6 5-17-2-15-4-7-5-3-11 2-1-9 8-14 8-4 9 0 10 4 6 6 5 10 3 14 0 37 13 1 1-85-5-29-7-12-11-9-13-4zM1780-33l6 0 4 4 0 13-5 4-5 0-5-7 0-8zM1698-140l0 120 7 17 7 4 9 0 9-7 3-7 0-19-2-7-6-7-4-2-10 1 0-93zM1715-37l6 0 5 8 0 11-6 7-5-1-4-5 0-15zM1643-140l1 124 6 13 7 4 8 0 7-4 5-7 2-18-2-9-6-9-5-2-8 2-2-2 0-92zM1660-37l6 0 5 8 0 11-6 7-5-1-4-6 0-13zM1419-138l-6 5-3 6-1 18 3 11 7 7 12-1 0 92 72 1 1-138-14 0 0 120-44 1-2-2 1-89-4-24-6-7-5-2zM1422-125l6 0 4 4 0 12-5 5-5 0-5-7 0-7zM1323-137l-9 5-12 15-6 22 0 23 6 39 1 33 16 1 14-15 12-22 5-26-3-21-9-7-11 1-5 4-4 8-1 15 3 10 13 9-6 12-7 7-3-1-8-49 0-13 4-17 10-13 7-4 16-2 12 4 8 8 6 13 2 15-1 83 13 1 1-86-6-30-8-13-15-10-23-2zM1329-77l7 0 4 5 0 10-6 6-4 0-5-5 0-11zM1131-140l-14 6-9 10-8 16-3 14 46 13 6 6 3 8 0 21-2 2-2-2-7 0-6 5-3 7-1 16 2 9 6 8 13 2 9-7 3-10 1-59-3-8-10-10-14-7-19-6-1-3 10-12 5-2 10 0 16 8 15 2 3-5 2-12-11 0-25-10zM1149-34l6 6 0 9-3 5-6 2-5-5-1-10 4-6zM1009-137l-9 5-12 15-6 22 0 23 6 39 1 33 16 1 14-15 12-22 5-26-3-21-9-7-11 1-5 4-4 8-1 15 3 10 13 9-6 12-7 7-3-1-8-49 0-13 4-17 10-13 7-4 16-2 12 4 8 8 6 13 2 15-1 83 13 1 1-86-6-30-8-13-15-10-23-2zM1015-77l7 0 4 5 0 10-6 6-4 0-5-5 0-11zM775-138l-7 9-2 15 5 16 5 5 11 0 0 94 20-1 6-26 10-25 10-20 11-14 6 9 0 77 13 0 0-81-7-13 5-12 1-16-4-12-10-7-11 1-7 6-4 17 2 13 6 9-16 25-16 41-2-3-1-97-2-5-8-7-10 0zM843-126l4 1 5 8-2 8-6 5-2 0-6-8 1-9zM780-127l7 1 3 5 0 8-6 7-4 0-6-10 1-6zM594-140l-19 14-7 12-4 13 0 36 6 36 0 29 17 1 8-9 16-26 6-21 0-19-4-10-8-6-12 2-7 10-2 15 4 14 7 6 4 0 1 3-12 16-4-2-7-42 0-27 4-12 12-12 3 0 13 13 13-12 5-1 11 12 3 14 0 94 13 0 0-93-5-25-8-13-15-10-16 14zM598-76l6 1 4 6 0 7-7 8-4 0-5-8 1-9zM495-140l-13 6-9 10-9 19-2 12 35 8 11 4 6 6 3 9 0 20-10 0-7 5-4 11 0 14 2 8 6 7 13 2 8-6 4-10 0-63-5-9-6-5-20-10-13-3-2-4 4-7 10-7 11 0 19 9 13 1 4-17-11 0-25-10zM514-34l6 6 0 10-3 4-6 2-6-7 0-9 4-5zM384-138l-11 6-13 16-7 19 8 4 9 11-6 10-5 17 0 56 13 0 1-61 4-11 7-10-7-13-9-8 14-17 11-4 15 2 12 15 4 17 0 90 13 0 0-96-6-24-6-9-9-8-14-4zM236-138l-7 9-2 17 1 8 7 11 4 2 11-1 0 92 15-1 37-28 3 1 1 14 4 10 6 5 12-2 7-9 2-19-4-19-7-8-8-4 0-79-13 1 0 88-40 29-2-2 0-94-2-10-3-6-9-7zM319-40l6 4 3 9-1 10-3 5-3 0-3-6zM241-126l6 1 4 6-1 10-6 5-5-1-4-8 1-8zM146-138l-10 6-8 8-6 11 6 6 11-11 6-3 19-2 9 4 9 9 5 14 0 79-46 0 0-25 11 1 4-2 7-10 1-8-1-14-4-9-7-6-11 0-9 9-4 16 0 66 72 0 1-92-4-25-6-11-11-9-14-4zM150-77l4 4 2 8-2 6-8 5-5-5-1-10 6-8zM25-136l-15 13-6 12-4 21 2 35 6 36 0 20 18-1 5-30 7-20 6 7 10 2 4-2 7-9 2-8-2-20-5-7-6-3-7 0-8 4-9 12-6 16-4 22-3 0-3-28 0-25 3-13 4-8 9-9 12-4 8 0 12 4 12 15 4 16 0 89 13 0 0-94-6-23-12-16-11-6-22-2zM48-76l6 0 5 7-1 10-6 5-7-4-2-6 1-7zM2785-146l-1 143 15 1 1-143zM1338-193l-3 7 0 14 4 12 9 9 20 3 14-5 9-9 6-13 3-20-1-2-9 1 0 9-4 12-7 9-9 4-8 0-4-3 5-9 0-11-6-11-11-2zM1348-188l5 1 3 4 0 7-5 6-5 0-4-8 1-6zM1080-205l-12-1-2 8-9 15-10 10-6 3-1-3 3-10-2-16-10-9-10 2-7 11 1 11 7 9 9 1-3 9-6 5 0 8 19-3 16-10 13-15zM1027-199l7 6 0 5-5 6-3 0-5-7 2-7zM532-209l-12 0-1 24-9-8-13-5-11 0-11 4-17 16-8 17 45 4 37 8zM473-174l8-7 17-2 9 4 8 12-6 1-13-4-22-2zM811-206l-7 11 1 11 7 9 9 1-3 9-6 5 1 9 18-4 16-10 13-15 8-18 2 1 4 18 5 11 7 6 10 1 7-4 4-6 8-32 4-2 3 3 2 187 5 11 8 5 8 0 8-4 6-14-2-20-7-9-14-1 0-156-4-13-8-6-7 0-7 4-6 13-4 23-6 8-3 0-6-7-8-35-11 0 2 8-2 2-8 0-2 8-9 15-15 13-2-1 3-12-2-16-10-9zM941-37l4 0 6 8 0 10-6 8-5-1-4-6 0-12zM817-199l7 6 0 5-5 6-3 0-5-7 2-7zM705-222l-14 6-10 10-6 14-1 15 2 10 6 9 8 4 12 0 11-7 6-13 0-18-4-11 3-1 8 4 8 9 2 6-1 19-5 12-8 11-6 20 0 102 6 17 8 5 8 0 6-2 5-5 3-17-4-18-5-5-14 0 0-75 4-16 12-21 2-8 0-24-6-15-8-9-10-6zM734-37l6 1 4 6 0 12-6 7-5-1-4-6 0-13zM692-197l10 0 8 9 0 12-2 4-8 6-8-1-7-10 1-14z"/>
<path id="T6" d="M1108 11l-8 7-2 7 1 12 4 6 12 3 0 18 9 1 1-39-2-7-5-7zM1109 19l5 2 2 7-1 6-4 4-6-4-1-4 1-8zM1943-56l-5 8 0 18 5 12 8 7 10 3 13-1 10-4 11-12 6-15 1-18-9 0-1 13-4 11-7 8-8 4-10 0-2-2 5-12-1-13-4-7-7-3zM1950-49l3 0 6 9-1 6-4 4-4 0-5-6 0-7zM1942-114l-4 7 0 19 5 11 6 6 11 4 15-1 9-4 11-11 6-16 1-18-9 1-1 13-4 10-8 9-7 3-9 0-3-2 5-12-3-17-8-6-6 0zM1951-108l4 1 3 4 0 10-5 4-4 0-4-6 0-7zM2144-138l-5 73 16 0 11-8 11-2 12 2 12 10 5 13 0 10-7 18-14 9-8 1-14-4-7-6-6-11-14 2 1 7 5 10 7 7 11 6 9 2 25-2 11-6 8-8 6-11 2-8 0-22-2-7-12-17-17-8-16 0-8 2-10 6-1-18 2-25 56-1 1-14zM1846-136l-20 18-1 5 3 9 3 0 8-9 13-8 7-2 16 2 13 12 4 12 1 20-3 1-7-8-13-6-18 2-12 9-8 15-2 11 0 30 4 15 6 7 5 2 7 0 11-9 3-11-2-20-2-4-7-5-11 2-1-7 2-8 8-9 7-3 9 0 12 6 9 15 3 19 0 32 13 0 0-90-5-25-8-13-14-9-21-2zM1847-33l7 0 4 5 0 10-5 6-6 0-4-6 0-10zM1765-140l1 125 7 13 6 3 9 0 4-2 7-9 2-10-1-11-3-10-9-7-10 1 0-93zM1782-37l6 0 5 10-1 11-5 5-8-4-2-13zM1710-140l0 118 5 16 9 7 8 0 10-7 3-7 0-21-7-12-4-2-11 1 0-93zM1727-37l6 0 5 7 0 13-6 6-5-1-4-6 0-13zM1513-136l-6 4-11 13-3 14 15 2 3-11 7-8 14-5 8 1 7 3 9 12 0 18-4 9-8 10-40 39-12 21 0 13 82 0 0-14-63 0-2-2 10-15 31-29 15-17 5-10 3-14-2-15-4-8-9-9-16-6-17 0zM1303-138l-17 13-7 12 6 6 6-7 11-7 19-2 9 4 9 9 5 13 0 80-44 1-2-2 0-23 2-2 3 2 10-2 6-7 2-8 0-10-5-16-8-6-10 0-8 8-4 11-1 72 72 0 0-104-2-10-7-14-11-9-15-4zM1307-77l5 6 0 11-3 4-6 2-6-7 0-9 3-5zM1166-136l-9 9-5 10-3 13 1 21 8 14 5 2 12-2 5-5 3-8 0-19-2-5-7-6-5-1 0-3 6-6 11-1 4 2 10 14 1 12-9 11-3 12 0 72 58 1 1-139-13-1-1 2 1 119-2 2-29 0-2-2 1-60 11-18-5-26-9-12-10-5-13-1zM1165-101l5 0 5 7 0 8-5 6-5 0-5-6 0-9zM1066-140l-19 14-7 12-4 13 0 36 6 36 0 29 17 1 8-9 16-26 6-21 0-19-4-10-8-6-12 2-7 10-2 15 4 14 7 6 4 0 1 3-12 16-4-2-7-42 0-27 4-12 12-12 3 0 13 13 13-12 5-1 11 12 3 14 0 94 13 0 0-93-5-25-8-13-15-10-16 14zM1070-76l6 1 4 6 0 7-7 8-4 0-5-8 1-9zM923-140l-9 8-3 9 0 12 3 11 7 7 9-2 2 2 0 94 19-1 6-24 8-21 12-25 11-15 6 7 0 78 13 1 1-75-1-8-7-12 5-9 2-14-4-15-3-4-8-4-13 2-5 6-3 9 1 18 6 12-10 14-12 24-8 27-2 1-2-98-7-13-3-2zM989-126l3 1 4 6 0 8-5 6-4 1-6-6 0-10 4-5zM924-127l6 0 4 5 0 10-6 6-4 0-5-7 0-8zM855-140l0 122 3 10 6 7 14 2 8-6 3-6 0-24-2-6-9-7-9 2-2-2 1-91zM872-37l5 0 5 6 0 15-5 5-6-1-4-7 0-11zM760-138l-8 9-4 17 2 27 6 12 7 5-9 10-4 11 0 48 73 0 0-139-13-1 0 121-2 2-43 0-2-2 0-27 3-9 8-6 14-2 0-12-10 0-8-3-5-5-2-10 13 1 7-5 4-9 0-16-4-12-5-5-5-2zM768-125l6 0 4 4 0 12-5 5-5 0-5-6 0-9zM673-140l-10 4-10 9-5 8-5 16 9 3 7-13 12-9 12-1 11 7 4 6 3 12 0 98 13 1 1-95-2-15-6-15-9-10-14-6zM529-138l-5 5-3 8-1 9 2 13 7 10 4 2 10-1 0 37-9 3-6 7-2 6-1 19 4 14 10 7 11-2 5-7 1-19 3-2 37 28 15 1 0-138-13 0-1 118-40-29-2-75-3-8-10-8zM541-41l2 2 0 22-5 4-4-6 0-13 2-5zM534-125l6 0 4 4 0 11-6 6-4 0-5-7 0-8zM411-140l-9 8-3 9 0 12 3 11 7 7 9-2 2 2 0 94 19-1 6-24 8-21 12-25 11-15 6 7 0 78 13 1 1-75-1-8-7-12 5-9 2-14-4-15-3-4-8-4-13 2-5 6-3 9 1 18 6 12-10 14-12 24-8 27-2 1-2-98-7-13-3-2zM477-126l3 1 4 6 0 8-5 6-4 1-6-6 0-10 4-5zM412-127l6 0 4 5 0 10-6 6-4 0-5-7 0-8zM289-138l-5 5-3 8-1 9 2 13 7 10 4 2 10-1 0 37-9 3-6 7-2 6-1 19 4 14 10 7 11-2 5-7 1-19 3-2 37 28 15 1 0-138-13 0-1 118-40-29-2-75-3-8-10-8zM301-41l2 2 0 22-5 4-4-6 0-13 2-5zM294-125l6 0 4 4 0 11-6 6-4 0-5-7 0-8zM209-140l-12 6-7 7-10 24 10 2 5-11 6-6 10-5 9 0 11 7 7 17 0 99 13 1 0-105-6-18-10-12-13-6zM94-140l-11 6-9 9-10 21-1 31 7 49 0 25 16 0 5-5 18-26 6-17 2-12-2-21-5-7-6-3-11 2-7 9-2 21 5 11 11 5-5 10-8 8-2 0-2-4-6-36-1-25 5-19 11-11 3 0 13 13 15-13 4 0 9 9 4 11 0 99 13 1 1-82-1-17-6-22-11-14-11-6-16 14zM98-76l4 0 5 6-1 12-6 4-3 0-4-4-2-6 2-8zM2232-146l20 31 8 23 4 25 0 30-6 31-10 24-16 22 15 1 16-23 12-30 4-24 0-34-4-23-14-33-15-20zM32-146l-14 19-14 33-4 22 0 39 4 22 14 33 14 19 14 0-21-35-6-18-4-23 0-35 4-23 14-34 13-18zM1257-206l-11 0-10 21-16 15-3-1 3-10 0-12-4-10-8-5-10 2-6 9 0 12 4 8 12 3-3 10-5 4 0 8 18-3 14-8 17-19zM1204-199l3 0 4 5 0 7-4 5-3 0-5-6 0-5z"/>
<path id="T9" d="M1708 11l-4 2-4 6-1 17 4 7 12 2 0 19 10 1 1-36-2-9-6-8zM1709 19l3 0 4 7 0 6-4 6-3 0-4-5 0-9zM566-22l-2 2 0 18 16 1 1-19-2-2zM2665-140l-11 6-9 9-10 21-1 31 7 49 0 25 16 0 5-5 18-26 6-17 2-12-2-21-5-7-6-3-11 2-7 9-2 21 5 11 11 5-5 10-8 8-2 0-2-4-6-36-1-25 5-19 11-11 3 0 13 13 15-13 4 0 9 9 4 11 0 99 13 1 1-82-1-17-6-22-11-14-11-6-16 14zM2669-76l4 0 5 6-1 12-6 4-3 0-4-4-2-6 2-8zM2512-136l-6 13 1 20 7 10 4 2 9-2 2 2 0 91 13 0 39-29 3 2 1 15 6 11 10 2 8-4 5-9 1-21-1-8-5-11-4-4-8-3 0-79-13-1-1 90-38 27-3-1 0-88-2-14-5-10-7-5-8 0zM2598-40l5 3 3 8 0 10-4 7-3 0-2-4zM2520-126l6 1 3 4 0 11-6 6-5-1-4-5 0-10zM2395-138l-8 11 0 22 7 12 4 2 11-1 0 36-12 6-6 13 0 22 4 10 9 6 10-1 6-7 2-6 0-15 2-1 39 29 13 0 1-138-13 0-1 118-41-30 0-63-2-13-8-12-5-2zM2408-40l1 22-5 5-4-4-1-11 3-10zM2399-125l7 0 4 6-1 10-5 5-5 0-5-9 1-7zM2329-140l0 123 4 10 5 6 4 2 10 0 10-9 2-22-4-12-5-5-13 0 0-92zM2346-37l5 0 4 4 2 7-1 9-5 6-6-1-4-8 1-13zM2089-138l-8 11 0 22 7 12 4 2 11-1 0 36-12 6-6 13 0 22 4 10 9 6 10-1 6-7 2-6 0-15 2-1 39 29 13 0 1-138-13 0-1 118-41-30 0-63-2-13-8-12-5-2zM2102-40l1 22-5 5-4-4-1-11 3-10zM2093-125l7 0 4 6-1 10-5 5-5 0-5-9 1-7zM1878-140l-7 4-4 6-4 17 0 113 15 0 26-48 25 48 14 1 0-139-13 0 0 109-2 1-22-48-4 0-21 45-4 4-1-64 2-2 4 2 9-2 5-6 3-9 0-12-3-11-5-6-6-3zM1885-125l4 4 2 7-2 7-8 4-5-5-1-9 5-7zM1783-138l-11 6-13 16-7 19 8 4 9 11-6 10-5 17 0 56 13 0 1-61 4-11 7-10-7-13-9-8 14-17 11-4 15 2 12 15 4 17 0 90 13 0 0-96-6-24-6-9-9-8-14-4zM1665-136l-20 18-1 5 3 9 3 0 8-9 13-8 7-2 16 2 13 12 4 12 1 20-3 1-7-8-13-6-18 2-12 9-8 15-2 11 0 30 4 15 6 7 5 2 7 0 11-9 3-11-2-20-2-4-7-5-11 2-1-7 2-8 8-9 7-3 9 0 12 6 9 15 3 19 0 32 13 0 0-90-5-25-8-13-14-9-21-2zM1666-33l7 0 4 5 0 10-5 6-6 0-4-6 0-10zM1546-136l-6 4-11 13-6 18-1 30 7 46 0 25 18 1 5-29 7-22 6 7 11 2 4-2 6-8 2-7 0-17-2-6-6-7-12-2-6 3-9 10-8 21-4 21-3-5-3-40 4-23 5-9 8-7 7-3 13-1 14 6 7 8 4 9 3 21-1 79 13 1 1-84-1-14-6-20-13-16-9-5-23-2zM1573-77l6 4 2 10-2 5-7 4-6-5-1-10 1-3zM1400-137l-7 13 0 18 8 13 4 2 10-1 0 91 14 1 40-30 2 2 2 20 4 6 5 3 13-3 7-14 0-19-6-17-4-4-8-3 0-79-13-1 0 89-39 28-4-2 0-97-4-11-5-6-12-2zM1485-41l5 4 3 7 0 12-4 6-5-3zM1407-126l4 0 6 10-2 8-6 4-3 0-5-7 1-11zM1284-140l-9 8-3 9 0 12 3 11 7 7 9-2 2 2 0 94 19-1 6-24 8-21 12-25 11-15 6 7 0 78 13 1 1-75-1-8-7-12 5-9 2-14-4-15-3-4-8-4-13 2-5 6-3 9 1 18 6 12-10 14-12 24-8 27-2 1-2-98-7-13-3-2zM1350-126l3 1 4 6 0 8-5 6-4 1-6-6 0-10 4-5zM1285-127l6 0 4 5 0 10-6 6-4 0-5-7 0-8zM1235-140l-12 2-8 10-2 7 0 14 4 11 6 5 13-1 0 62-3 9-7 5-9-1-5-4-4-7-6-50-15-8 10 67 6 11 8 7 6 2 12 0 9-4 6-6 5-16 0-90-5-18zM1226-125l6 0 5 9-1 6-5 6-5 0-5-8 1-9zM1114-140l-10 4-10 9-5 8-5 16 9 3 7-13 12-9 12-1 11 7 4 6 3 12 0 98 13 1 1-95-2-15-6-15-9-10-14-6zM967-138l-8 9-2 20 6 14 7 4 10 0-1 91 18 0 37-114 7-6 4 4 0 116 13 1 0-124-4-11-9-6-7 0-5 2-6 7-30 92-3 4-2-86-4-11-5-6-4-2zM972-126l6 1 3 4 0 11-6 6-5-1-4-6 0-9zM844-137l-7 13 0 18 8 13 4 2 10-1 0 91 14 1 40-30 2 2 2 20 4 6 5 3 13-3 7-14 0-19-6-17-4-4-8-3 0-79-13-1 0 89-39 28-4-2 0-97-4-11-5-6-12-2zM929-41l5 4 3 7 0 12-4 6-5-3zM851-126l4 0 6 10-2 8-6 4-3 0-5-7 1-11zM718-137l-7 12 0 20 2 6 7 8 13-1 0 93 17-1 20-94 2-2 3 4 22 93 15 0 1-139-13-1-1 102-3-1-22-94-3 0-23 97-2-1 0-83-2-9-4-7-7-5-8 0zM726-126l5 1 4 6 0 7-7 8-4 0-4-4-1-5 1-8zM447-138l-8 11 0 22 7 12 4 2 11-1 0 36-12 6-6 13 0 22 4 10 9 6 10-1 6-7 2-6 0-15 2-1 39 29 13 0 1-138-13 0-1 118-41-30 0-63-2-13-8-12-5-2zM460-40l1 22-5 5-4-4-1-11 3-10zM451-125l7 0 4 6-1 10-5 5-5 0-5-9 1-7zM138-140l-19 8-12 17-6 27 0 37 6 25 10 17 16 9 16 1 18-7 13-17 7-29 0-36-5-24-8-15-15-11zM145-127l12 4 10 12 4 15 1 40-3 21-5 11-9 9-11 3-13-4-11-16-4-23 0-30 3-19 5-12 7-7zM26-138l-8 4-11 11-6 18 15 2 2-8 7-10 7-4 11-2 9 2 9 7 4 9 0 15-8 15-30 28-16 18-10 18-1 13 83 1-1-14-64-1 2-6 12-15 40-39 6-10 3-13-3-22-13-14-14-5zM2305-144l-14 0 0 8-4 10-8 8-12 6-4-2-7-17-10-9-13 13-16-12-10 9-6 10-4 13-1 26 7 16 7 4 7 0 7-4 6-13 0-17-2-6-4-5-11-3 3-9 3-1 14 11 13-11 5 8 2 18-8 10-3 9 0 75 54 0 0-80-6-15-10-10 10-6 9-10 5-12zM2266-93l5 1 7 7 5 10-1 59-27-1 0-56 3-10zM2214-97l3 1 5 7-1 10-5 5-6-2-4-6 2-11zM419-144l-14 0 0 8-4 10-8 8-12 6-4-2-7-17-10-9-13 13-16-12-10 9-6 10-4 13-1 26 7 16 7 4 7 0 7-4 6-13 0-17-2-6-4-5-11-3 3-9 3-1 14 11 13-11 5 8 2 18-8 10-3 9 0 75 54 0 0-80-6-15-10-10 10-6 9-10 5-12zM380-93l5 1 7 7 5 10-1 59-27-1 0-56 3-10zM328-97l3 1 5 7-1 10-5 5-6-2-4-6 2-11zM2065-147l-13 0-5 12-7 8-16-11-9-2-20 2-17 12-9 11 5 12 18-16 11-4 11 0 11 5 6 6 6 15 1 19-2 2-15-12-18-2-13 6-11 14-4 14 0 34 4 14 6 7 12 2 9-7 4-7 1-15-3-13-8-7-12 1 2-14 8-9 7-3 10 0 8 4 10 12 5 25-1 30 14 1 0-90-4-23 13-14zM1993-33l5 0 5 6 0 8-6 7-5 0-4-5 0-11zM1283-162l50 5 33 7-6-23-6-11-13-12-12-4-9 0-16 6-13 14zM1303-174l11-11 16-2 7 3 8 8 4 10-45-5zM2296-208l-12-1-2 24-10-9-11-4-12 0-10 4-16 14-8 13-1 6 45 4 37 8zM2236-174l9-7 17-2 10 5 7 11-6 1-14-4-17-1zM2731-218l-12 0-13 12-14 4-12 8-5 12 0 11 2 7 8 9 13 2 9-7 3-8 0-10-8-14 16-8 8-8zM2691-185l6 1 5 8-1 8-6 6-7-2-4-6 0-7zM768-262l-9 10 0 14 5 7 11 2-2 7-7 7 0 5 2 3 7-1 2 2 0 8-20 2-10 6-12 13-6 16 46 4 34 7 1-57-13-1 0 22-2 1-6-6 0-17-7 0-1-2 16-8 13-12 8-12 6-18-12 0-11 22-16 13-1-4 3-11-1-11-7-9zM751-174l12-9 10 0 9 4 7 7 2 5-4 1-16-4-19-1zM770-255l5 1 4 6 0 6-5 6-6-1-4-6 0-5z"/>
<path id="T10" d="M4005-138l-1 136 17 0 1-63 67 0 1 64 16 0 1-136-17-1 0 57-2 2-66-1-1-57zM3883-138l-1 15 43 1 0 121 16 1 0-122 43-1 1-14zM3617-138l-1 136 15 1 0-115 67 115 20 0 1-136-15-1 1 114-3 1-66-115zM3494-138l0 137 98 0-1-15-81-1 1-47 72 0 0-14-72 0-2-2 1-42 79-2 0-13zM3239-138l-1 15 43 1 0 121 16 1 0-122 43-1 1-14zM2896-138l-1 136 98 1 1-13-2-2-81-1 0-45 2-2 72-1-1-13-72 0-1-44 79-2 0-14zM2758-138l50 135 2 2 16 0 51-137-17 1-41 118-4-4-8-28-32-87zM2723-138l0 137 16 0 0-137zM2354-138l-1 136 98 1 1-13-2-2-81-1 0-45 2-2 72-1-1-13-72 0-1-44 79-2 0-14zM2173-134l-13-4-63 1 1 136 15 0 1-54 46 0 7-2 13-7 11-14 3-15-1-16-6-13zM2113-122l2-2 38 0 15 5 6 6 4 11-1 14-4 9-13 9-45 1-2-2zM1944-138l0 137 15-1 0-116 41 117 11 0 36-103 2-11 3-1 0 115 14 0 0-137-22 1-36 109-3 4-38-112-2-2zM1428-138l-1 136 56 1 23-8 16-15 11-25 2-29-8-31-13-15-18-10-19-4zM1445-124l37 1 12 4 13 10 9 16 3 25-5 25-14 19-15 8-40 1-2-2 0-105zM1305-138l-1 136 99 1-1-15-81-1 1-47 72-1 0-13-72 0-1-44 77-1 2-14zM1172-138l0 137 14-1 0-114 4 4 64 111 19 0 0-137-14 0 0 116-4-4-64-112zM1123-138l-1 136 16 1 1-136zM1097-138l-89 0 0 137 16 0 0-54 2-2 69 0-1-15-68 0-2-2 0-47 2-2 70 0zM876-138l-1 136 14 1 0-114 2-1 65 114 21 1 0-137-15 1 1 115-4-3-64-112zM466-138l0 137 15-1-1-114 4 3 63 111 20 1 1-136-15 0 1 114-2 1-67-116zM333-138l0 97 3 13 5 9 15 14 18 6 24-1 15-6 14-13 8-18 1-101-16 0 0 93-2 9-5 9-7 7-7 4-13 3-13-1-8-3-8-7-6-10-2-8 0-96zM3361-139l0 137 16-1 1-56 38 0 34 57 17 0 0-3-34-54 18-10 10-14 3-18-3-16-4-7-12-10-11-4zM3377-124l48-1 8 2 5 3 8 10 2 9-2 13-8 10-12 5-48 0zM2221-139l-1 136 16 1 0-55 2-2 38 0 34 57 17 0-34-57 2-3 13-5 7-7 6-11 2-23-6-15-11-10-12-5zM2236-123l2-2 46 0 12 4 8 8 3 9 0 9-4 11-7 7-10 4-48 0-2-2zM3779-136l-21 16-11 21-3 12-1 19 1 14 6 21 8 13 9 9 13 8 17 4 15 0 27-6 23-17 0-47-51-1-1 15 36 0 2 2 0 23-12 10-10 4-17 3-12-1-18-8-8-8-6-10-5-19 1-29 4-13 6-10 9-8 15-6 29 2 9 5 11 14 13-3 2-3-6-11-9-9-18-8-28-2zM3161-140l-19 6-10 8-6 11 0 23 4 8 11 10 24 9 25 6 10 5 7 10 1 10-2 7-6 7-7 4-22 4-14-2-11-5-9-10-2-7-14 2-1 6 8 14 16 11 17 4 23 0 20-6 15-14 4-9 1-10-3-17-9-11-10-6-44-12-11-6-6-8 0-13 7-10 7-4 10-2 15 0 14 5 7 7 4 9 15-3 0-3-7-14-13-10-18-4zM2634-140l-15 4-8 4-7 7-6 11 0 20 6 12 8 7 13 6 32 8 14 6 7 7 2 5-2 17-13 10-21 4-15-2-9-4-7-6-6-12-14 2-1 4 6 13 14 12 21 6 23 0 20-6 8-5 7-8 5-15 0-12-3-11-8-10-15-8-33-8-15-6-7-7-2-14 2-6 8-8 14-4 15 0 13 4 7 6 5 10 15-2 1-2-8-16-13-9-17-4zM2511-140l-19 6-10 8-6 11 0 23 4 8 11 10 24 9 25 6 10 5 7 10 1 10-2 7-6 7-7 4-22 4-14-2-11-5-9-10-2-7-14 2-1 6 8 14 16 11 17 4 23 0 20-6 15-14 4-9 1-10-3-17-9-11-10-6-44-12-11-6-6-8 0-13 7-10 7-4 10-2 15 0 14 5 7 7 4 9 15-3 0-3-7-14-13-10-18-4zM1842-139l-20 8-18 19-8 23 0 39 10 26 12 13 9 6 20 6 29-2 14-6 8-6 15-21 6-24-2-36-9-21-18-17-7-4-17-4zM1847-125l20 0 15 6 14 16 6 18 0 31-4 14-13 18-16 8-23 0-15-7-14-17-4-12-2-27 4-20 8-14 6-6zM1716-140l-18 4-22 17-10 20-4 35 6 29 15 22 11 8 10 4 24 2 12-2 16-7 13-12 8-15-12-7-15 20-16 8-19 0-17-8-13-16-6-20 0-25 4-15 6-11 9-9 16-7 19 0 15 6 8 8 6 10 14-7-7-13-12-11-24-8zM773-139l-20 8-11 9-8 12-8 28 0 26 2 10 12 26 18 15 21 6 28-2 7-2 15-10 14-19 7-28-1-30-10-25-12-13-9-6-21-6zM778-125l20 0 15 6 13 14 6 15 2 25-6 27-4 7-11 11-13 6-23 0-16-8-12-14-6-19-1-19 5-25 13-18zM647-140l-22 6-11 8-12 15-8 24 0 33 6 21 14 20 11 8 10 4 24 2 13-2 15-7 14-13 7-14-13-6-14 19-16 8-19 0-17-8-14-18-4-13-1-28 5-19 6-10 8-8 16-7 19 0 12 4 12 11 4 9 14-5 1-3-7-12-12-11-24-8zM150-140l-11 5-7 6-6 9-5 18 9 1 5-10 8-8 9-4 9 0 12 9 5 12 1 103 13 0 0-98-3-17-6-12-9-9-12-5zM25-136l-15 13-6 12-4 21 2 35 6 36 0 20 18-1 5-30 7-20 6 7 10 2 4-2 7-9 2-8-2-20-5-7-6-3-7 0-8 4-9 12-6 16-4 22-3 0-3-28 0-25 3-13 4-8 9-9 12-4 8 0 12 4 12 15 4 16 0 89 13 0 0-94-6-23-12-16-11-6-22-2zM48-76l6 0 5 7-1 10-6 5-7-4-2-6 1-7zM81-192l-1 32 11 1 1-33z"/>
<path id="T11" d="M2882 10l-6 2-6 8 0 18 8 7 8 0 0 19 9 1 2-3-2-40-6-10zM2880 19l3 0 3 4 0 11-4 4-7-6 0-7zM508 11l-8 7-2 7 1 12 4 6 12 3 0 18 9 1 1-39-2-7-5-7zM509 19l5 2 2 7-1 6-4 4-6-4-1-4 1-8zM1200-14l0 13 88 0 0-13zM1944-108l-19 7-9 10-6 14-2 11 0 26 4 16 6 11 7 7 10 5 18 2 10-2 10-6 8-9 5-15-15-1-4 11-11 8-13 1-6-3-7-7-5-13-1-32 3-14 6-9 10-5 9 0 10 4 5 6 3 9 14-1 1-4-6-13-11-10-12-4zM1845-108l-17 6-7 7-4 13 1 12 4 7 9 8 32 10 9 5 5 7 0 10-6 8-7 3-21 0-13-8-4-8-11 2-1 5 6 11 9 7 16 4 17 0 18-6 7-7 5-12-1-16-8-12-6-4-39-13-5-5-1-11 7-8 5-2 18 0 6 2 6 5 3 7 13-2-3-11-11-10-15-4zM1200-119l1 14 74 33-1 2-73 31-1 14 88-38 0-18-4-3zM1552-138l-29 23 1 14 23-18 5-1 0 103-2 2-30 0 0 14 77 0 0-14-30-1 0-122zM741-139l-83 1 1 13 67 1-20 34-14 32-8 29-2 27 15 0 2-24 6-26 12-31 24-41zM3302-140l-8 2-10 6-10 11-6 13-5 27 1 37 4 16 6 12 8 9 14 7 19 1 17-8 11-16 4-19-4-26-4-7-13-11-17-4-17 4-13 13 0-20 6-19 14-13 8-2 7 1 10 7 5 9 14-3-6-14-10-9-13-4zM3300-77l11 0 9 4 6 6 5 14 0 15-5 15-10 9-13 2-12-6-6-7-5-15-1-11 4-14 5-6zM3074-138l-10 6-8 8-6 11 6 6 11-11 6-3 19-2 9 4 9 9 5 14 0 79-46 0 0-25 11 1 4-2 7-10 1-8-1-14-4-9-7-6-11 0-9 9-4 16 0 66 72 0 1-92-4-25-6-11-11-9-14-4zM3078-77l4 4 2 8-2 6-8 5-5-5-1-10 6-8zM2937-136l-9 9-8 22 1 21 3 9 5 6 12 2 5-2 7-9 2-10-2-16-5-6-8-3 6-9 11-1 10 8 5 12 0 8-6 6-6 15 0 75 59 0 0-139-13-1 0 121-2 2-29 0-2-2 0-54 4-13 8-10-2-18-4-11-8-10-13-6-11 0zM2936-101l5 0 5 6 0 10-5 5-5 0-5-5 0-11zM2837-140l-19 14-8 14-4 18 0 18 6 39 2 38 15 0 8-8 11-15 11-27 1-24-3-10-9-7-7 0-6 3-7 12 0 19 4 8 11 7-5 10-9 8-2-2-6-35-1-33 5-16 10-10 4 0 13 13 14-13 7 2 7 8 4 13 0 97 13 0 0-95-6-25-11-15-11-6-16 14zM2841-76l6 1 4 9-1 7-6 5-5-1-4-6 0-8zM2689-137l-7 13 0 14 2 8 8 9 10-1 0 94 20 0 5-21 12-31 12-23 9-10 4 4 2 9-1 72 13 1 1-78-2-8-6-9 6-14 0-17-2-6-9-8-11-1-5 2-6 8-2 20 2 8 6 7-10 14-12 24-8 25-4 6-1-100-4-9-7-5-10 0zM2760-126l6 4 1 10-5 7-4 1-5-4-2-8 2-6zM2695-127l6 0 4 5 0 10-5 6-5 0-5-7 0-8zM2626-140l0 123 4 10 5 6 4 2 10 0 10-9 2-22-4-12-5-5-13 0 0-92zM2643-37l5 0 4 4 2 7-1 9-5 6-6-1-4-8 1-13zM2531-138l-9 12-3 16 3 28 4 8 8 6-8 8-4 9-1 51 72 1 1-139-13-1 0 121-2 2-43 0-2-2 1-32 2-4 8-6 14-2 0-12-10 0-8-3-6-7-1-7 12 0 8-5 4-10 0-14-2-9-7-9-5-2zM2539-125l6 0 5 8-1 7-5 6-5 0-5-8 1-9zM2443-140l-12 6-7 7-10 24 10 2 5-11 6-6 10-5 9 0 11 7 7 17 0 99 13 1 0-105-6-18-10-12-13-6zM2300-138l-8 12 0 19 2 7 10 9 10-1 0 37-9 3-4 4-5 15 0 15 4 12 10 7 11-2 6-9 0-18 2-1 38 28 15 1 1-137-14 0 0 116-3 1-39-31 0-67-2-10-4-7-8-5zM2312-41l2 2 0 23-5 3-4-5 0-15zM2305-125l6 0 5 8-1 7-5 6-5 0-5-8 0-7zM2177-137l-7 13 0 14 2 8 8 9 10-1 0 94 20 0 5-21 12-31 12-23 9-10 4 4 2 9-1 72 13 1 1-78-2-8-6-9 6-14 0-17-2-6-9-8-11-1-5 2-6 8-2 20 2 8 6 7-10 14-12 24-8 25-4 6-1-100-4-9-7-5-10 0zM2248-126l6 4 1 10-5 7-4 1-5-4-2-8 2-6zM2183-127l6 0 4 5 0 10-5 6-5 0-5-7 0-8zM1445-140l-16 6-9 8-6 11-2 9 15 2 2-8 7-9 6-4 10-2 12 2 10 9 3 9 0 9-3 9-12 9-21 2-1 14 19 1 11 4 10 12 0 16-8 13-6 4-13 2-11-2-7-4-6-7-4-12-14 1-1 3 4 13 6 9 8 6 17 6 18 0 9-2 12-7 7-8 4-10 1-19-3-9-11-12-14-5 15-8 8-12 2-16-2-11-10-14-19-8zM980-138l-7 9-2 17 1 8 7 11 4 2 11-1 0 92 15-1 37-28 3 1 1 14 4 10 6 5 12-2 7-9 2-19-4-19-7-8-8-4 0-79-13 1 0 88-40 29-2-2 0-94-2-10-3-6-9-7zM1063-40l6 4 3 9-1 10-3 5-3 0-3-6zM985-126l6 1 4 6-1 10-6 5-5-1-4-8 1-8zM902-140l-12 4-9 6-13 17 6 6 8-8 11-6 19-2 10 4 8 9 3 12 0 51-11-1-6 4-4 7-2 16 5 15 10 7 7 0 9-6 5-15 1-71-2-17-6-16-8-9-17-7zM925-35l6 1 3 4 0 12-6 5-4 0-5-7 0-8zM462-138l-6 5-6 16 0 25 6 17 8 7-8 9-4 10 0 50 72 0 1-138-1-2-13 1 0 121-45 1 0-35 7-8 17-3 0-11-11-1-9-4-5-8 0-6 12 1 8-6 4-11 0-10-2-10-7-10-6-2zM469-125l7 0 4 6 0 8-6 7-5 0-4-5 0-11zM373-140l-12 6-7 7-10 24 10 2 5-11 6-6 10-5 9 0 11 7 7 17 0 99 13 1 0-105-6-18-10-12-13-6zM260-138l-10 6-8 8-6 11 6 6 11-11 6-3 19-2 9 4 9 9 5 14 0 79-46 0 0-25 11 1 4-2 7-10 1-8-1-14-4-9-7-6-11 0-9 9-4 16 0 66 72 0 1-92-4-25-6-11-11-9-14-4zM264-77l4 4 2 8-2 6-8 5-5-5-1-10 6-8zM7-136l-7 12 0 18 2 6 6 7 5 2 9-1 0 93 18-1 37-115 5-5 2 0 4 6 0 115 13 0 0-121-4-13-9-7-7 0-5 2-8 9-28 89-4 6-1-84-6-16-8-6-7 0zM15-126l5 1 4 5 0 8-7 8-3 0-5-6 0-11zM3358-146l14 21 10 22 6 24 2 22-2 31-4 18-8 21-18 27 14 1 17-24 10-24 6-35 0-21-4-28-8-23-7-13-14-19zM2144-146l-14 19-14 33-4 22 0 39 4 22 14 33 14 19 14 0-21-35-6-18-4-23 0-35 4-23 14-34 13-18zM1729-146l-1 144 16 0-1-35 13-12 33 48 17 0-40-60 38-45-17 0-43 50 0-89zM897-192l-3 7 0 11 4 13 10 10 12 3 13-1 11-6 9-11 6-20 0-11-9 0-2 16-4 9-9 8-14 2-3-2 5-12-3-16-8-6-9 1zM907-188l5 1 4 7-5 10-5 0-4-5 0-8zM3028-206l-11 0-8 18-6 8-12 10-3-1 3-9 0-15-2-5-5-6-5-2-10 2-6 10 1 14 5 6 11 2-4 10-5 4 0 8 18-3 14-8 18-21zM2975-199l3 0 4 5 0 7-4 5-3 0-5-6 0-5zM96-209l-12 0-1 24-9-8-13-5-11 0-11 4-17 16-8 17 45 4 37 8zM37-174l8-7 17-2 9 4 8 12-6 1-13-4-22-2zM85-256l-1 32 12 1 0-32z"/>
<path id="T12" d="M1853 11l-4 2-4 6-1 17 4 7 12 2 0 19 10 1 1-36-2-9-6-8zM1854 19l3 0 4 7 0 6-4 6-3 0-4-5 0-9zM5703-13l1 12 87 0 0-13zM3179-22l-1 21 6 0 2 2-8 24 9 0 6-14 1-32zM561-22l-2 2 0 18 16 1 1-19-2-2zM6233-86l-9 4-10 15-2 10 0 29 3 12 8 12 10 5 10 0 11-4 9-12 4-14 0-27-4-15-6-9-11-6zM6237-76l8 1 5 4 5 17-1 30-4 9-8 6-8-1-5-4-5-15 1-34 4-8zM5703-119l1 14 75 33-1 2-72 30-3 3 0 12 88-37 0-20zM6239-138l-10 0-3 2-80 136 13-1 80-133zM6138-138l-8 4-8 11-4 18 0 20 2 11 6 13 11 8 11 1 11-3 10-11 5-22-1-25-4-12-7-9-8-4zM6143-129l7 0 8 7 4 17-2 31-3 6-8 6-6 0-8-6-4-11-1-11 2-26 3-7zM6024-138l-4 73 16 0 7-6 8-3 9-1 10 2 12 10 4 8 1 12-3 15-4 6-10 8-10 2-12-2-11-8-6-11-14 2 1 7 6 11 6 6 11 6 9 2 25-2 16-10 8-13 4-20-2-16-4-9-9-11-17-8-16 0-8 2-10 6-2-2 2-34 3-8 55 0 0-14zM5350-138l-1 136 57 1 13-2 15-8 9-11 3-14-1-14-6-12-7-6-15-6 12-7 8-12 2-15-5-15-11-10-18-5zM5365-65l2-2 32 0 14 2 8 4 5 5 4 11-1 12-4 9-13 8-45 1-2-2zM5365-122l2-2 32 0 14 3 9 11 0 14-6 10-10 5-40 1zM3336-138l-1 136 57 1 13-2 15-8 9-11 3-14-1-14-6-12-7-6-15-6 12-7 8-12 2-15-5-15-11-10-18-5zM3351-65l2-2 32 0 14 2 8 4 5 5 4 11-1 12-4 9-13 8-45 1-2-2zM3351-122l2-2 32 0 14 3 9 11 0 14-6 10-10 5-40 1zM3090-138l-51 137 17-1 15-39 56 0 15 39 17 1-50-137zM3098-122l3 2 22 64-2 2-44 0-2-2zM104-138l-4 73 15 0 12-8 10-2 12 2 7 4 8 11 2 6 0 15-5 13-7 7-9 4-7 1-16-5-7-7-4-9-15 2 6 16 9 9 10 5 22 2 14-3 14-10 8-13 3-15-1-18-7-15-9-9-8-4-23-2-18 8 1-42 2-2 55 0 1-13zM33-138l-29 22 1 15 25-20 2 1 0 104-32 1 0 14 78 0 0-14-29 0-2-2 0-121zM5473-139l-1 136 16 1 0-55 2-2 38 0 34 57 17 0-34-57 2-3 13-5 7-7 6-11 2-23-6-15-11-10-12-5zM5488-123l2-2 46 0 12 4 8 8 3 9 0 9-4 11-7 7-10 4-48 0-2-2zM5937-136l-6 4-11 13-3 14 15 2 3-11 7-8 14-5 8 1 7 3 9 12 0 18-4 9-8 10-40 39-12 21 0 13 82 0 0-14-63 0-2-2 10-15 31-29 15-17 5-10 3-14-2-15-4-8-9-9-16-6-17 0zM5264-140l-18 4-22 17-10 20-4 35 6 29 15 22 11 8 10 4 24 2 12-2 16-7 13-12 8-15-12-7-15 20-16 8-19 0-17-8-13-16-6-20 0-25 4-15 6-11 9-9 16-7 19 0 15 6 8 8 6 10 14-7-7-13-12-11-24-8zM5033-140l-10 4-8 7-7 11-4 16 8 2 6-11 8-8 9-4 9 0 12 9 6 18 0 97 13 0 0-101-2-11-7-15-9-9-12-5zM4904-134l-14 16-6 19 0 36 6 33 1 31 18-1 4-26 7-23 9 7 8 1 8-6 4-8 1-15-3-12-5-6-5-2-10 1-7 5-8 12-6 18-2 19-3 0-4-27 0-28 2-9 6-12 8-8 12-4 8 0 12 4 9 9 4 9 3 14 0 87 13 1 0-92-5-23-6-11-7-7-11-6-22-2zM4934-77l8 7 0 9-7 7-4-1-4-5 0-11zM4655-138l-7 9-2 20 8 16 5 2 10-1 0 91 15 0 37-28 3 1 2 18 3 6 6 5 12-2 6-7 2-6 0-25-4-11-14-10 0-79-13 1 0 88-39 28-3-1-1-100-4-10-9-7zM4739-41l7 9 0 16-3 4-3 0-3-5 0-22zM4661-126l5 1 4 6 0 7-7 8-3 0-5-5-1-6 1-6zM4530-138l-7 9-2 17 1 8 7 11 4 2 11-1 0 92 15-1 37-28 3 1 1 14 4 10 6 5 12-2 7-9 2-19-4-19-7-8-8-4 0-79-13 1 0 88-40 29-2-2 0-94-2-10-3-6-9-7zM4613-40l6 4 3 9-1 10-3 5-3 0-3-6zM4535-126l6 1 4 6-1 10-6 5-5-1-4-8 1-8zM4451-140l-12 6-7 7-10 24 10 2 5-11 6-6 10-5 9 0 11 7 7 17 0 99 13 1 0-105-6-18-10-12-13-6zM4303-137l-7 10-1 19 3 10 9 7 7 0 2-2 2 2-1 91 18 0 34-107 4-9 6-4 4 7 0 114 13 0 0-120-4-14-9-7-7 0-11 8-33 97-2-5 1-67-2-16-4-10-5-5-11-2zM4309-126l6 1 4 6-1 10-6 5-3 0-6-9 1-8zM4242-140l0 119 7 18 7 4 9 0 4-2 7-9 1-23-2-7-5-6-4-2-11 1 0-93zM4259-37l6 0 5 7 0 12-6 7-5-1-4-5 0-15zM4049-140l-22 6-11 8-12 15-8 24 0 33 6 21 14 20 11 8 10 4 24 2 13-2 15-7 14-13 7-14-13-6-14 19-16 8-19 0-17-8-14-18-4-13-1-28 5-19 6-10 8-8 16-7 19 0 12 4 12 11 4 9 14-5 1-3-7-12-12-11-24-8zM3806-138l-16 12-8 13 7 6 12-12 13-4 10 0 10 4 8 8 6 18 0 75-2 2-43 0-2-2 0-23 2-2 9 2 7-4 5-12-1-20-3-6-8-7-10 0-8 7-5 15-1 68 73 1 0-99-4-19-4-8-9-9-8-4-10-2zM3806-77l7 2 3 5 0 8-2 4-6 4-7-6 0-11zM3713-140l-13 6-9 10-9 19-2 12 35 8 11 4 6 6 3 9 0 20-10 0-7 5-4 11 0 14 2 8 6 7 13 2 8-6 4-10 0-63-5-9-6-5-20-10-13-3-2-4 4-7 10-7 11 0 19 9 13 1 4-17-11 0-25-10zM3732-34l6 6 0 10-3 4-6 2-6-7 0-9 4-5zM3568-138l-8 12 0 19 2 6 7 8 11-1 0 95 19 0 6-24 8-21 12-25 11-16 4 2 3 8 0 76 13 0 0-80-7-14 6-17 0-13-4-10-5-5-6-2-10 1-7 6-3 7 0 19 7 13-17 27-10 24-4 16-2 1-1-97-2-8-7-8-12-1zM3636-126l8 5 0 11-7 6-5-2-3-5 0-8zM3573-127l7 1 3 7-1 8-5 5-4 0-6-8 1-8zM2848-136l-9 6-7 9-8 22 0 32 6 38 1 30 16 0 20-25 8-20 2-31-2-7-5-6-13-2-4 2-7 9-2 12 2 12 6 8 8 3-4 11-8 9-4-2-7-43 0-22 4-14 9-12 15-6 17 2 12 10 4 8 3 16 0 88 13 0 0-90-3-20-4-10-13-15-8-4-23-2zM2857-77l6 0 5 8-1 7-5 6-5 0-5-7 0-8zM2757-140l-14 6-9 10-8 16-3 14 46 13 6 6 3 8 0 21-2 2-2-2-7 0-6 5-3 7-1 16 2 9 6 8 13 2 9-7 3-10 1-59-3-8-10-10-14-7-19-6-1-3 10-12 5-2 10 0 16 8 15 2 3-5 2-12-11 0-25-10zM2775-34l6 6 0 9-3 5-6 2-5-5-1-10 4-6zM2645-138l-17 12-8 12-6 17 8 4 9 11-7 12-4 14 0 57 13 0 0-55 4-15 8-11-6-13-7-5-3-5 9-12 16-8 10 0 6 3 7 7 5 10 3 16 0 87 13 1 0-94-5-23-6-11-7-7-8-4-9-2zM2556-140l0 123 4 10 5 6 4 2 10 0 10-9 2-22-4-12-5-5-13 0 0-92zM2573-37l5 0 4 4 2 7-1 9-5 6-6-1-4-8 1-13zM2440-138l-8 11 0 22 7 12 4 2 11-1 0 36-12 6-6 13 0 22 4 10 9 6 10-1 6-7 2-6 0-15 2-1 39 29 13 0 1-138-13 0-1 118-41-30 0-63-2-13-8-12-5-2zM2453-40l1 22-5 5-4-4-1-11 3-10zM2444-125l7 0 4 6-1 10-5 5-5 0-5-9 1-7zM2361-140l-12 4-9 6-13 17 6 6 14-12 12-4 12 0 7 2 10 9 4 13 0 52-11-1-7 5-4 10 0 19 8 12 6 3 8 0 8-6 5-13 0-85-2-10-5-11-8-9-12-6zM2383-35l7 1 4 7-1 8-6 6-4 0-5-8 1-10zM2263-140l-13 6-9 10-9 19-2 12 35 8 11 4 6 6 3 9 0 20-10 0-7 5-4 11 0 14 2 8 6 7 13 2 8-6 4-10 0-63-5-9-6-5-20-10-13-3-2-4 4-7 10-7 11 0 19 9 13 1 4-17-11 0-25-10zM2282-34l6 6 0 10-3 4-6 2-6-7 0-9 4-5zM2144-136l-20 18-1 5 3 9 3 0 8-9 13-8 7-2 16 2 13 12 4 12 1 20-3 1-7-8-13-6-18 2-12 9-8 15-2 11 0 30 4 15 6 7 5 2 7 0 11-9 3-11-2-20-2-4-7-5-11 2-1-7 2-8 8-9 7-3 9 0 12 6 9 15 3 19 0 32 13 0 0-90-5-25-8-13-14-9-21-2zM2145-33l7 0 4 5 0 10-5 6-6 0-4-6 0-10zM2049-140l-12 4-9 6-13 17 6 6 14-12 12-4 12 0 7 2 10 9 4 13 0 52-11-1-7 5-4 10 0 19 8 12 6 3 8 0 8-6 5-13 0-85-2-10-5-11-8-9-12-6zM2071-35l7 1 4 7-1 8-6 6-4 0-5-8 1-10zM1905-138l-5 5-3 8-1 9 2 13 7 10 4 2 10-1 0 37-9 3-6 7-2 6-1 19 4 14 10 7 11-2 5-7 1-19 3-2 37 28 15 1 0-138-13 0-1 118-40-29-2-75-3-8-10-8zM1917-41l2 2 0 22-5 4-4-6 0-13 2-5zM1910-125l6 0 4 4 0 11-6 6-4 0-5-7 0-8zM1805-136l-15 13-6 12-4 21 2 31 6 41 0 19 16 0 19-23 8-18 3-15 0-19-7-14-5-2-10 1-7 6-3 7 0 18 2 5 5 6 8 3-3 9-9 11-4-1-7-45 0-20 5-17 11-12 13-4 12 1 10 5 7 8 4 9 2 10 0 91 13 0 0-93-6-25-13-16-10-5-22-2zM1814-77l6 0 4 4 0 12-5 5-5 0-5-6 0-9zM1597-140l-12 4-9 6-13 17 6 6 14-12 12-4 12 0 7 2 10 9 4 13 0 52-11-1-7 5-4 10 0 19 8 12 6 3 8 0 8-6 5-13 0-85-2-10-5-11-8-9-12-6zM1619-35l7 1 4 7-1 8-6 6-4 0-5-8 1-10zM1526-140l-12 2-8 10-2 7 0 14 4 11 6 5 13-1 0 62-3 9-7 5-9-1-5-4-4-7-6-50-15-8 10 67 6 11 8 7 6 2 12 0 9-4 6-6 5-16 0-90-5-18zM1517-125l6 0 5 9-1 6-5 6-5 0-5-8 1-9zM1405-140l-10 4-8 7-7 11-4 16 8 2 6-11 8-8 9-4 9 0 12 9 6 18 0 97 13 0 0-101-2-11-7-15-9-9-12-5zM1258-138l-8 9-2 20 6 14 7 4 10 0-1 91 18 0 37-114 7-6 4 4 0 116 13 1 0-124-4-11-9-6-7 0-5 2-6 7-30 92-3 4-2-86-4-11-5-6-4-2zM1263-126l6 1 3 4 0 11-6 6-5-1-4-6 0-9zM1135-137l-7 13 0 18 8 13 4 2 10-1 0 91 14 1 40-30 2 2 2 20 4 6 5 3 13-3 7-14 0-19-6-17-4-4-8-3 0-79-13-1 0 89-39 28-4-2 0-97-4-11-5-6-12-2zM1220-41l5 4 3 7 0 12-4 6-5-3zM1142-126l4 0 6 10-2 8-6 4-3 0-5-7 1-11zM1011-138l-8 12-1 18 2 8 8 9 8 0 3-2 2 2-1 91 17 1 20-92 4-5 23 97 16 0 0-140-13 1-1 103-3-6-22-91-3 0-20 90-2 5-2 0-1-86-4-10-9-7zM1018-126l7 4 1 12-6 6-5 0-4-6 0-10zM970-140l-12 2-8 10-2 7 0 14 4 11 6 5 13-1 0 62-3 9-7 5-9-1-5-4-4-7-6-50-15-8 10 67 6 11 8 7 6 2 12 0 9-4 6-6 5-16 0-90-5-18zM961-125l6 0 5 9-1 6-5 6-5 0-5-8 1-9zM837-138l-16 12-7 14 6 5 12-12 13-4 16 2 11 9 4 7 3 14 0 73-2 2-44-1 0-25 10 1 9-7 3-8 0-16-4-11-8-7-10 0-7 5-6 16-1 69 73 1 0-96-4-22-4-8-9-9-8-4-10-2zM837-77l4 0 6 8-2 11-6 4-6-4-2-5 1-8zM745-140l-14 6-9 10-8 16-3 14 46 13 6 6 3 8 0 21-2 2-2-2-7 0-6 5-3 7-1 16 2 9 6 8 13 2 9-7 3-10 1-59-3-8-10-10-14-7-19-6-1-3 10-12 5-2 10 0 16 8 15 2 3-5 2-12-11 0-25-10zM763-34l6 6 0 9-3 5-6 2-5-5-1-10 4-6zM442-138l-8 11 0 22 7 12 4 2 11-1 0 36-12 6-6 13 0 22 4 10 9 6 10-1 6-7 2-6 0-15 2-1 39 29 13 0 1-138-13 0-1 118-41-30 0-63-2-13-8-12-5-2zM455-40l1 22-5 5-4-4-1-11 3-10zM446-125l7 0 4 6-1 10-5 5-5 0-5-9 1-7zM414-144l-14 0 0 8-4 10-8 8-12 6-4-2-7-17-10-9-13 13-16-12-10 9-6 10-4 13-1 26 7 16 7 4 7 0 7-4 6-13 0-17-2-6-4-5-11-3 3-9 3-1 14 11 13-11 5 8 2 18-8 10-3 9 0 75 54 0 0-80-6-15-10-10 10-6 9-10 5-12zM375-93l5 1 7 7 5 10-1 59-27-1 0-56 3-10zM323-97l3 1 5 7-1 10-5 5-6-2-4-6 2-11zM1763-147l-13 0-6 14-5 6-11-8-14-5-21 2-10 6-15 15 2 11 3 3 9-10 12-8 7-2 17 2 5 3 9 11 4 18-1 14-16-13-18-2-13 6-10 12-5 20 0 28 3 14 7 9 6 2 10-2 6-6 3-7 1-16-4-13-7-5-7 0-2 2-3-2 3-15 7-7 7-3 10 0 8 4 8 9 5 11 2 14 0 34 13 0 0-93-4-20 8-7 6-9zM1691-33l5 0 5 7-1 10-5 4-5 0-5-9 0-4zM4964-192l-1 32 12 1 0-33zM4382-192l0 33 11 0 1-32zM4563-192l-3 7 0 11 4 13 10 10 12 3 13-1 11-6 9-11 6-20 0-11-9 0-2 16-4 9-9 8-14 2-3-2 5-12-3-16-8-6-9 1zM4573-188l5 1 4 7-5 10-5 0-4-5 0-8zM1592-192l-3 16 5 17 9 8 12 3 13-1 15-10 8-14 3-15 0-8-9-1-1 12-6 14-8 7-14 2-3-2 5-14-3-14-8-6-9 1zM1602-188l8 4 0 9-4 5-5 0-4-5 0-8zM3751-208l-13 1-1 22-7-7 1-15-13-1-1 11-18 1-11 6-12 14-6 15 46 4 35 7zM3692-173l8-8 15-2 9 4 8 12-39-4zM4578-208l3 1 15-4 16-10 17-21 6-18-12 0-11 22-16 13 2-21-3-9-10-7-9 2-6 8 0 14 5 7 11 2-2 7-7 7zM4581-255l5 1 4 6 0 6-5 6-6-1-4-6 0-5zM1059-262l-9 10 0 14 5 7 11 2-2 7-7 7 0 5 2 3 7-1 2 2 0 8-20 2-10 6-12 13-6 16 46 4 34 7 1-57-13-1 0 22-2 1-6-6 0-17-7 0-1-2 16-8 13-12 8-12 6-18-12 0-11 22-16 13-1-4 3-11-1-11-7-9zM1042-174l12-9 10 0 9 4 7 7 2 5-4 1-16-4-19-1zM1061-255l5 1 4 6 0 6-5 6-6-1-4-6 0-5z"/>
<path id="T13" d="M1011 10l-6 2-6 8 0 18 8 7 8 0 0 19 9 1 2-3-2-40-6-10zM1009 19l3 0 3 4 0 11-4 4-7-6 0-7zM2835-13l1 12 88 0 0-13zM568-22l-2 2 0 18 16 1 1-19-2-2zM3365-86l-9 4-9 12-4 24 1 17 3 13 7 11 11 6 10 0 12-5 9-13 3-13 0-25-3-14-10-13-8-4zM3369-76l8 1 5 4 5 15 0 26-4 14-9 7-10-2-8-16 0-31 2-8 5-7zM2835-119l2 14 74 33-1 2-73 31-2 2 1 12 88-38 0-19zM3371-138l-12 1-81 137 12 0 82-136zM3270-138l-11 7-6 11-3 19 1 23 4 12 7 9 7 4 11 1 11-3 11-13 4-18 0-19-4-18-8-11-8-4zM3275-129l7 0 7 6 5 21-2 27-3 7-8 6-6 0-8-6-5-19 2-30 3-6zM3086-138l-29 22 1 15 25-20 2 1 0 104-32 1 0 14 78 0 0-14-29 0-2-2 0-121zM2482-138l-1 136 57 1 13-2 14-7 11-14 2-6 0-18-4-10-7-8-17-8 9-5 7-7 4-9 1-16-3-10-8-9-12-6-11-2zM2498-65l2-2 31 0 19 4 9 8 3 8 0 12-3 9-14 10-46 1zM2498-123l34-1 15 4 6 7 2 6-3 17-6 6-12 4-35 0zM2605-139l-1 136 16 1 0-56 40-1 31 54 3 3 17 0-34-57 15-8 12-15 3-11 0-14-5-15-12-11-13-5zM2620-124l48-1 12 4 8 8 3 8-2 18-10 11-5 2-52 1-2-2zM3186-140l-19 8-12 17-6 27 0 37 6 25 10 17 16 9 16 1 18-7 13-17 7-29 0-36-5-24-8-15-15-11zM3193-127l12 4 10 12 4 15 1 40-3 21-5 11-9 9-11 3-13-4-11-16-4-23 0-30 3-19 5-12 7-7zM2396-140l-17 4-11 6-9 8-7 10-8 24-1 31 6 23 8 14 9 9 19 10 24 2 18-4 11-6 11-10 9-16-13-7-6 11-11 11-13 6-20 0-15-7-10-10-8-15-3-27 5-26 13-18 17-8 20 0 7 2 14 10 7 12 13-5 1-4-9-14-10-8-23-8zM2165-140l-11 5-7 6-6 9-5 18 9 1 5-10 8-8 9-4 9 0 12 9 5 12 1 103 13 0 0-98-3-17-6-12-9-9-12-5zM2040-136l-15 13-6 12-4 21 2 35 6 36 0 20 18-1 5-30 7-20 6 7 10 2 4-2 7-9 2-8-2-20-5-7-6-3-7 0-8 4-9 12-6 16-4 22-3 0-3-28 0-25 3-13 4-8 9-9 12-4 8 0 12 4 12 15 4 16 0 89 13 0 0-94-6-23-12-16-11-6-22-2zM2063-76l6 0 5 7-1 10-6 5-7-4-2-6 1-7zM1825-138l-11 6-13 16-7 19 8 4 9 11-6 10-5 17 0 56 13 0 1-61 4-11 7-10-7-13-9-8 14-17 11-4 15 2 12 15 4 17 0 90 13 0 0-96-6-24-6-9-9-8-14-4zM1606-138l-13 8-6 7-12 25 8 5 9 10-7 14-4 17 0 53 13 0 1-57 5-16 6-8-5-12-11-10 12-15 13-6 15 2 7 6 6 10 4 23 0 83 13 0 0-90-4-23-6-13-12-11-13-4zM1493-138l-10 6-8 8-6 11 6 6 11-11 6-3 19-2 9 4 9 9 5 14 0 79-46 0 0-25 11 1 4-2 7-10 1-8-1-14-4-9-7-6-11 0-9 9-4 16 0 66 72 0 1-92-4-25-6-11-11-9-14-4zM1497-77l4 4 2 8-2 6-8 5-5-5-1-10 6-8zM1383-138l-13 8-13 14 4 13 13-12 10-6 7-2 16 2 14 13 4 13 0 19-2 1-5-7-16-8-18 2-13 11-8 19 0 39 4 12 11 8 9-1 7-6 4-9 0-19-2-7-8-7-11 2-1-10 2-6 6-7 8-4 9 0 10 4 6 6 6 12 2 10 0 40 13 0 0-98-4-16-7-12-11-9-13-4zM1380-33l6 0 5 7-1 9-5 5-5 0-5-8 1-9zM1296-140l1 125 6 12 7 4 9 0 4-2 7-9 2-8-1-14-7-14-4-2-11 1 0-93zM1313-37l6 0 5 8 0 11-6 7-8-4-2-8 2-11zM1202-137l-9 5-12 15-6 22 0 23 6 39 1 33 16 1 14-15 12-22 5-26-3-21-9-7-11 1-5 4-4 8-1 15 3 10 13 9-6 12-7 7-3-1-8-49 0-13 4-17 10-13 7-4 16-2 12 4 8 8 6 13 2 15-1 83 13 1 1-86-6-30-8-13-15-10-23-2zM1208-77l7 0 4 5 0 10-6 6-4 0-5-5 0-11zM1079-136l-13 11-5 8-6 22 0 26 6 36 1 33 18 1 4-25 8-25 2 0 4 6 11 2 7-5 4-8 1-20-3-9-9-7-8 0-5 2-11 13-8 23-2 17-3 0-4-33 0-17 4-18 6-10 10-8 17-2 14 6 8 10 4 10 2 15 0 83 13 0 0-88-6-28-5-9-9-9-9-5-23-2zM1105-77l7 4 2 7-2 8-5 4-4-1-5-6 0-9 2-4zM962-137l-9 5-12 15-6 22 0 23 6 39 1 33 16 1 14-15 12-22 5-26-3-21-9-7-11 1-5 4-4 8-1 15 3 10 13 9-6 12-7 7-3-1-8-49 0-13 4-17 10-13 7-4 16-2 12 4 8 8 6 13 2 15-1 83 13 1 1-86-6-30-8-13-15-10-23-2zM968-77l7 0 4 5 0 10-6 6-4 0-5-5 0-11zM751-140l-19 9-15 17 7 7 6-7 8-5 12-4 11 0 11 4 7 8 4 17 0 47-11-1-7 5-4 8-1 17 1 6 6 9 7 4 8 0 10-8 4-15 0-76-2-13-6-14-9-9-11-5zM774-35l5 0 5 6-1 12-6 4-7-3-2-7 1-6zM449-138l-8 11 0 22 7 12 4 2 11-1 0 36-12 6-6 13 0 22 4 10 9 6 10-1 6-7 2-6 0-15 2-1 39 29 13 0 1-138-13 0-1 118-41-30 0-63-2-13-8-12-5-2zM462-40l1 22-5 5-4-4-1-11 3-10zM453-125l7 0 4 6-1 10-5 5-5 0-5-9 1-7zM140-140l-19 8-12 17-6 27 0 37 6 25 10 17 16 9 16 1 18-7 13-17 7-29 0-36-5-24-8-15-15-11zM147-127l12 4 10 12 4 15 1 40-3 21-5 11-9 9-11 3-13-4-11-16-4-23 0-30 3-19 5-12 7-7zM35-140l-16 6-8 7-6 10-3 11 15 2 5-13 14-9 14 0 11 6 6 12 0 12-2 5-6 7-8 4-20 2-1 13 2 2 17 0 11 4 9 10 0 21-3 6-10 8-13 2-11-2-7-4-7-9-3-10-15 2 3 13 6 10 6 5 20 8 18 0 17-6 8-7 6-10 2-23-4-11-9-9-15-6 15-8 5-6 4-9 0-21-6-12-8-7-16-6zM421-144l-14 0 0 8-4 10-8 8-12 6-4-2-7-17-10-9-13 13-16-12-10 9-6 10-4 13-1 26 7 16 7 4 7 0 7-4 6-13 0-17-2-6-4-5-11-3 3-9 3-1 14 11 13-11 5 8 2 18-8 10-3 9 0 75 54 0 0-80-6-15-10-10 10-6 9-10 5-12zM382-93l5 1 7 7 5 10-1 59-27-1 0-56 3-10zM330-97l3 1 5 7-1 10-5 5-6-2-4-6 2-11zM917-147l-12 0-6 13-6 7-12-9-13-4-20 2-13 8-13 14 5 13 18-16 11-4 11 0 9 4 9 9 5 17-1 18-6-7-10-6-18-2-12 6-10 11-5 15-1 28 2 16 9 13 5 2 11-2 8-11 1-20-3-10-8-6-11 1 1-13 7-9 8-4 15 2 11 10 6 14 1 46 14-1-1-95-4-16 11-11 6-12zM845-33l6 0 4 5 0 11-5 5-5 0-5-7 0-8zM2096-192l-1 32 11 1 1-33zM1098-192l-3 7 0 11 4 13 10 10 12 3 13-1 11-6 9-11 6-20 0-11-9 0-2 16-4 9-9 8-14 2-3-2 5-12-3-16-8-6-9 1zM1108-188l5 1 4 7-5 10-5 0-4-5 0-8zM747-193l-3 7 0 14 4 12 9 9 20 3 14-5 9-9 6-13 3-20-1-2-9 1 0 9-4 12-7 9-9 4-8 0-4-3 5-9 0-11-6-11-11-2zM757-188l5 1 3 4 0 7-5 6-5 0-4-8 1-6zM1438-207l-13-1 0 22-2 1-6-6 0-17-12 0-1 11-19 1-10 6-12 13-6 16 46 4 34 7zM1379-174l12-9 10 0 9 4 7 7 2 5-4 1-16-4-19-1z"/>
<path id="T14" d="M5692 11l-8 7-2 7 1 12 4 6 12 3 0 18 9 1 1-39-2-7-5-7zM5693 19l5 2 2 7-1 6-4 4-6-4-1-4 1-8zM5462 14l-4 8 0 14 5 8 11 1 0 18 35 0 0-51-11 1 1 37-2 2-12-1 0-18-4-17-10-6zM5471 19l3 3 0 12-5 4-5-4-1-7 2-5zM3270-13l1 12 88 0 0-13zM3800-86l-9 4-9 12-4 24 1 17 3 13 7 11 11 6 10 0 12-5 9-13 3-13 0-25-3-14-10-13-8-4zM3804-76l8 1 5 4 5 15 0 26-4 14-9 7-10-2-8-16 0-31 2-8 5-7zM3270-119l2 14 74 33-1 2-73 31-2 2 1 12 88-38 0-19zM3806-138l-12 1-81 137 12 0 82-136zM3705-138l-11 7-6 11-3 19 1 23 4 12 7 9 7 4 11 1 11-3 11-13 4-18 0-19-4-18-8-11-8-4zM3710-129l7 0 7 6 5 21-2 27-3 7-8 6-6 0-8-6-5-19 2-30 3-6zM3592-138l-5 73 16 0 11-8 11-2 12 2 12 10 5 13 0 10-7 18-14 9-8 1-14-4-7-6-6-11-14 2 1 7 5 10 7 7 11 6 9 2 25-2 11-6 8-8 6-11 2-8 0-22-2-7-12-17-17-8-16 0-8 2-10 6-1-18 2-25 56-1 1-14zM5762-136l-7 4-11 13-7 25 1 31 6 39 0 25 16 0 9-9 12-17 8-21 2-26-2-9-6-7-5-2-10 1-8 9-2 7 2 19 6 7 8 4-6 12-7 7-2 0-2-4-6-37 0-29 4-12 10-12 14-5 8 0 12 4 9 9 6 17 0 93 13 1 1-81-3-27-4-11-11-14-11-6-23-2zM5770-77l7 0 4 6-1 11-5 4-6-1-4-8 1-7zM5586-140l-8 0-7 4-7 13 0 18 3 8 7 6 12-1 0 66-7 9-9 1-9-7-4-14-4-40-15-9 6 52 4 16 6 11 14 8 11 0 12-6 8-16 0-99-4-12zM5576-125l6 0 5 7-1 9-4 5-5 0-6-9 2-9zM5385-140l-12 2-7 8-3 11 1 16 4 8 5 4 13-1 0 64-4 8-6 4-7 0-8-6-4-11-5-45-15-8 9 64 6 13 6 6 9 4 11 0 10-4 7-8 4-13 0-93-4-14zM5376-125l6 0 4 5 0 10-5 6-5 0-5-7 0-8zM5225-140l-9 8-3 9 0 12 3 11 7 7 9-2 2 2 0 94 19-1 6-24 8-21 12-25 11-15 6 7 0 78 13 1 1-75-1-8-7-12 5-9 2-14-4-15-3-4-8-4-13 2-5 6-3 9 1 18 6 12-10 14-12 24-8 27-2 1-2-98-7-13-3-2zM5291-126l3 1 4 6 0 8-5 6-4 1-6-6 0-10 4-5zM5226-127l6 0 4 5 0 10-6 6-4 0-5-7 0-8zM5158-140l1 122 3 10 6 7 14 2 7-5 4-7 0-23-7-12-4-2-11 1 0-93zM5176-37l5 0 5 6 0 14-6 6-5-1-4-6 0-13zM5104-140l0 122 4 11 5 6 13 2 7-4 6-12 0-17-2-7-6-7-4-2-10 1 0-93zM5121-37l5 0 6 10-1 11-5 5-6-1-4-9 1-12zM4979-137l-7 13 0 18 8 13 4 2 10-1 0 91 14 1 40-30 2 2 2 20 4 6 5 3 13-3 7-14 0-19-6-17-4-4-8-3 0-79-13-1 0 89-39 28-4-2 0-97-4-11-5-6-12-2zM5064-41l5 4 3 7 0 12-4 6-5-3zM4986-126l4 0 6 10-2 8-6 4-3 0-5-7 1-11zM4856-138l-7 9-2 17 1 8 7 11 4 2 11-1 0 92 15-1 37-28 3 1 1 14 4 10 6 5 12-2 7-9 2-19-4-19-7-8-8-4 0-79-13 1 0 88-40 29-2-2 0-94-2-10-3-6-9-7zM4939-40l6 4 3 9-1 10-3 5-3 0-3-6zM4861-126l6 1 4 6-1 10-6 5-5-1-4-8 1-8zM4792-140l0 120 7 17 7 4 9 0 9-7 3-7 0-19-2-7-6-7-4-2-10 1 0-93zM4809-37l6 0 5 8 0 11-6 7-5-1-4-5 0-15zM4737-140l1 124 6 13 7 4 8 0 7-4 5-7 2-18-2-9-6-9-5-2-8 2-2-2 0-92zM4754-37l6 0 5 8 0 11-6 7-5-1-4-6 0-13zM4619-138l-5 5-3 8-1 9 2 13 7 10 4 2 10-1 0 37-9 3-6 7-2 6-1 19 4 14 10 7 11-2 5-7 1-19 3-2 37 28 15 1 0-138-13 0-1 118-40-29-2-75-3-8-10-8zM4631-41l2 2 0 22-5 4-4-6 0-13 2-5zM4624-125l6 0 4 4 0 11-6 6-4 0-5-7 0-8zM4539-140l-12 6-7 7-10 24 10 2 5-11 6-6 10-5 9 0 11 7 7 17 0 99 13 1 0-105-6-18-10-12-13-6zM4438-140l-12 4-9 6-13 17 6 6 8-8 11-6 19-2 10 4 8 9 3 12 0 51-11-1-6 4-4 7-2 16 5 15 10 7 7 0 9-6 5-15 1-71-2-17-6-16-8-9-17-7zM4461-35l6 1 3 4 0 12-6 5-4 0-5-7 0-8zM4308-134l-14 16-6 19 0 36 6 33 1 31 18-1 4-26 7-23 9 7 8 1 8-6 4-8 1-15-3-12-5-6-5-2-10 1-7 5-8 12-6 18-2 19-3 0-4-27 0-28 2-9 6-12 8-8 12-4 8 0 12 4 9 9 4 9 3 14 0 87 13 1 0-92-5-23-6-11-7-7-11-6-22-2zM4338-77l8 7 0 9-7 7-4-1-4-5 0-11zM4245-140l-12 2-7 8-3 11 1 16 4 8 5 4 13-1 0 64-4 8-6 4-7 0-8-6-4-11-5-45-15-8 9 64 6 13 6 6 9 4 11 0 10-4 7-8 4-13 0-93-4-14zM4236-125l6 0 4 5 0 10-5 6-5 0-5-7 0-8zM4112-138l-16 12-8 13 7 6 12-12 13-4 10 0 10 4 8 8 6 18 0 75-2 2-43 0-2-2 0-23 2-2 9 2 7-4 5-12-1-20-3-6-8-7-10 0-8 7-5 15-1 68 73 1 0-99-4-19-4-8-9-9-8-4-10-2zM4112-77l7 2 3 5 0 8-2 4-6 4-7-6 0-11zM3979-138l-11 9-6 11-4 17 1 14 3 11 6 7 12 2 9-6 4-11 0-15-2-6-4-5-9-4 2-4 7-5 8 0 6 3 7 9 2 16-8 10-3 8-1 77 59 1 0-140-13 1-1 122-31-1 0-58 3-9 8-10 0-11-6-20-14-13-7-2zM3975-101l6 1 4 7-1 9-5 4-5 0-5-7 0-8zM3519-140l-15 4-15 14-6 18 1 25 8 17 10 9 10 4 20-2 9-5 10-10-3 29-8 16-15 9-15-3-7-7-4-8-12 2-1 4 7 14 9 7 12 4 13 0 9-2 10-6 9-11 6-12 4-16 2-29-4-32-8-18-4-5-13-8zM3523-127l10 2 11 10 6 17 0 12-4 12-6 6-9 5-13 1-7-3-8-8-4-9-1-19 6-16 8-7zM3128-140l-7 0-7 4-7 14 0 16 3 9 7 6 10-2 3 2 0 57-3 12-5 5-9 1-10-8-7-53-15-9 5 44 5 24 4 8 7 7 9 4 11 0 12-6 7-12 2-13-1-89-4-13-5-6zM3119-125l6 0 5 6 0 8-5 7-5 0-5-6 0-10zM2965-138l-7 9-2 15 5 16 5 5 11 0 0 94 20-1 6-26 10-25 10-20 11-14 6 9 0 77 13 0 0-81-7-13 5-12 1-16-4-12-10-7-11 1-7 6-4 17 2 13 6 9-16 25-16 41-2-3-1-97-2-5-8-7-10 0zM3033-126l4 1 5 8-2 8-6 5-2 0-6-8 1-9zM2970-127l7 1 3 5 0 8-6 7-4 0-6-10 1-6zM2902-140l0 120 7 17 7 4 9 0 9-7 3-7 0-19-2-7-6-7-4-2-10 1 0-93zM2919-37l6 0 5 8 0 11-6 7-5-1-4-5 0-15zM2847-140l1 124 6 13 7 4 8 0 7-4 5-7 2-18-2-9-6-9-5-2-8 2-2-2 0-92zM2864-37l6 0 5 8 0 11-6 7-5-1-4-6 0-13zM2724-138l-7 9-2 17 1 8 7 11 4 2 11-1 0 92 15-1 37-28 3 1 1 14 4 10 6 5 12-2 7-9 2-19-4-19-7-8-8-4 0-79-13 1 0 88-40 29-2-2 0-94-2-10-3-6-9-7zM2807-40l6 4 3 9-1 10-3 5-3 0-3-6zM2729-126l6 1 4 6-1 10-6 5-5-1-4-8 1-8zM2599-138l-7 9-2 20 8 16 5 2 10-1 0 91 15 0 37-28 3 1 2 18 3 6 6 5 12-2 6-7 2-6 0-25-4-11-14-10 0-79-13 1 0 88-39 28-3-1-1-100-4-10-9-7zM2683-41l7 9 0 16-3 4-3 0-3-5 0-22zM2605-126l5 1 4 6 0 7-7 8-3 0-5-5-1-6 1-6zM2536-140l0 123 4 11 9 7 10 0 5-3 5-7 2-19-2-9-6-9-4-2-10 1 0-92zM2552-37l6 0 4 4 2 8-1 8-6 6-5-1-4-7 0-10zM2481-140l0 120 5 15 9 6 7 0 8-4 4-6 2-22-4-11-8-6-9 2-2-2 1-91zM2498-37l5 0 5 6 1 11-6 9-4 0-6-8 0-10zM2362-138l-8 12 0 19 2 7 10 9 10-1 0 37-9 3-4 4-5 15 0 15 4 12 10 7 11-2 6-9 0-18 2-1 38 28 15 1 1-137-14 0 0 116-3 1-39-31 0-67-2-10-4-7-8-5zM2374-41l2 2 0 23-5 3-4-5 0-15zM2367-125l6 0 5 8-1 7-5 6-5 0-5-8 0-7zM2283-140l-10 4-8 7-7 11-4 16 8 2 6-11 8-8 9-4 9 0 12 9 6 18 0 97 13 0 0-101-2-11-7-15-9-9-12-5zM2181-140l-18 8-11 11-4 9 5 5 15-12 11-4 13 0 10 4 8 10 3 18 0 43-2 2-10-2-7 6-4 12 0 14 3 8 7 7 12 2 9-7 5-18-1-82-6-17-10-11-11-5zM2204-35l5 0 5 6 0 9-6 7-6-1-3-4 0-12zM2055-136l-6 4-11 13-6 18-1 30 7 46 0 25 18 1 5-29 7-22 6 7 11 2 4-2 6-8 2-7 0-17-2-6-6-7-12-2-6 3-9 10-8 21-4 21-3-5-3-40 4-23 5-9 8-7 7-3 13-1 14 6 7 8 4 9 3 21-1 79 13 1 1-84-1-14-6-20-13-16-9-5-23-2zM2082-77l6 4 2 10-2 5-7 4-6-5-1-10 1-3zM1935-136l-15 13-6 12-4 21 2 31 6 41 0 19 16 0 19-23 8-18 3-15 0-19-7-14-5-2-10 1-7 6-3 7 0 18 2 5 5 6 8 3-3 9-9 11-4-1-7-45 0-20 5-17 11-12 13-4 12 1 10 5 7 8 4 9 2 10 0 91 13 0 0-93-6-25-13-16-10-5-22-2zM1944-77l6 0 4 4 0 12-5 5-5 0-5-6 0-9zM1704-138l-8 12 0 19 2 6 7 8 11-1 0 95 19 0 6-24 8-21 12-25 11-16 4 2 3 8 0 76 13 0 0-80-7-14 6-17 0-13-4-10-5-5-6-2-10 1-7 6-3 7 0 19 7 13-17 27-10 24-4 16-2 1-1-97-2-8-7-8-12-1zM1772-126l8 5 0 11-7 6-5-2-3-5 0-8zM1709-127l7 1 3 7-1 8-5 5-4 0-6-8 1-8zM1498-138l-8 9-2 18 2 9 7 10 9 1 3-2 2 2-1 91 73 1 0-139-13 0-1 122-45-1-1-106-4-10-9-7zM1501-125l7 0 4 6 0 9-6 6-5 0-4-5 0-11zM1377-138l-9 12-1 15 1 7 5 9 7 4 10-1 0 93 17 0 38-117 5-4 3 1 2 4 0 115 13 1 1-115-4-18-4-5-6-3-12 2-5 5-10 26-22 72-2 1-1-81-2-10-8-13-4-2zM1382-126l6 1 4 9-2 8-5 4-5-1-4-6 1-11zM1283-137l-9 5-12 15-6 22 0 23 6 39 1 33 16 1 14-15 12-22 5-26-3-21-9-7-11 1-5 4-4 8-1 15 3 10 13 9-6 12-7 7-3-1-8-49 0-13 4-17 10-13 7-4 16-2 12 4 8 8 6 13 2 15-1 83 13 1 1-86-6-30-8-13-15-10-23-2zM1289-77l7 0 4 5 0 10-6 6-4 0-5-5 0-11zM1144-138l-8 9-2 18 2 9 7 10 9 1 3-2 2 2-1 91 73 1 0-139-13 0-1 122-45-1-1-106-4-10-9-7zM1147-125l7 0 4 6 0 9-6 6-5 0-4-5 0-11zM992-140l-8 0-7 4-7 13 0 18 3 8 7 6 12-1 0 66-7 9-9 1-9-7-4-14-4-40-15-9 6 52 4 16 6 11 14 8 11 0 12-6 8-16 0-99-4-12zM982-125l6 0 5 7-1 9-4 5-5 0-6-9 2-9zM870-140l-11 5-7 6-6 9-5 18 9 1 5-10 8-8 9-4 9 0 12 9 5 12 1 103 13 0 0-98-3-17-6-12-9-9-12-5zM721-136l-7 12 0 18 2 6 6 7 5 2 9-1 0 93 18-1 37-115 5-5 2 0 4 6 0 115 13 0 0-121-4-13-9-7-7 0-5 2-8 9-28 89-4 6-1-84-6-16-8-6-7 0zM729-126l5 1 4 5 0 8-7 8-3 0-5-6 0-11zM602-138l-7 9-2 17 1 8 7 11 4 2 11-1 0 92 15-1 37-28 3 1 1 14 4 10 6 5 12-2 7-9 2-19-4-19-7-8-8-4 0-79-13 1 0 88-40 29-2-2 0-94-2-10-3-6-9-7zM685-40l6 4 3 9-1 10-3 5-3 0-3-6zM607-126l6 1 4 6-1 10-6 5-5-1-4-8 1-8zM500-136l-13 11-5 8-6 22 0 26 6 36 1 33 18 1 4-25 8-25 2 0 4 6 11 2 7-5 4-8 1-20-3-9-9-7-8 0-5 2-11 13-8 23-2 17-3 0-4-33 0-17 4-18 6-10 10-8 17-2 14 6 8 10 4 10 2 15 0 83 13 0 0-88-6-28-5-9-9-9-9-5-23-2zM526-77l7 4 2 7-2 8-5 4-4-1-5-6 0-9 2-4zM361-138l-8 11-1 17 2 8 6 9 5 2 9-1 1 36-12 6-5 9-1 25 4 11 10 6 9-1 7-9 1-19 2-1 37 28 16 1 0-138-13 0 0 117-2 2-40-31 0-59-3-20-2-4-9-7zM372-41l2 2 0 23-5 3-4-7 0-10 2-6zM365-125l7 0 4 6 0 8-6 7-4 0-5-6 0-10zM264-133l-9 9-13 26 10 5 7 9-9 19-2 11 0 30 2 11 4 8 8 6 12-2 4-3 5-9 1-16-3-12-4-5-5-2-11 1 2-16 10-20-6-11-10-8 8-12 6-5 11-4 10 0 14 10 6 14 2 16 0 82 13 0 0-86-4-25-6-13-12-11-11-4-15 0zM266-34l5 1 4 5 0 10-6 6-4 0-5-7 1-11zM125-138l-7 9-2 20 8 16 5 2 10-1 0 91 15 0 37-28 3 1 2 18 3 6 6 5 12-2 6-7 2-6 0-25-4-11-14-10 0-79-13 1 0 88-39 28-3-1-1-100-4-10-9-7zM209-41l7 9 0 16-3 4-3 0-3-5 0-22zM131-126l5 1 4 6 0 7-7 8-3 0-5-5-1-6 1-6zM25-136l-15 13-6 12-4 21 2 31 6 41 0 19 16 0 19-23 8-18 3-15 0-19-7-14-5-2-10 1-7 6-3 7 0 18 2 5 5 6 8 3-3 9-9 11-4-1-7-45 0-20 5-17 11-12 13-4 12 1 10 5 7 8 4 9 2 10 0 91 13 0 0-93-6-25-13-16-10-5-22-2zM34-77l6 0 4 4 0 12-5 5-5 0-5-6 0-9zM5720-147l-13 0-5 12-7 8-16-11-9-2-20 2-17 12-9 11 5 12 18-16 11-4 11 0 11 5 6 6 6 15 1 19-2 2-15-12-18-2-13 6-11 14-4 14 0 34 4 14 6 7 12 2 9-7 4-7 1-15-3-13-8-7-12 1 2-14 8-9 7-3 10 0 8 4 10 12 5 25-1 30 14 1 0-90-4-23 13-14zM5648-33l5 0 5 6 0 8-6 7-5 0-4-5 0-11zM5519-147l-13 0-6 15-5 5-17-11-8-2-17 1-16 9-13 14 5 13 18-16 11-4 11 0 9 4 8 8 6 16-1 20-6-7-10-6-18-2-12 6-11 13-4 12 0 40 4 12 6 6 5 2 11-2 5-5 4-9 0-18-4-10-7-5-11 1 2-15 6-7 8-4 15 2 11 10 7 20 0 40 13 0 0-98-4-15 14-15 4-11zM5447-33l6 0 5 8-1 7-5 6-5 0-5-8 1-9zM4926-192l0 33 11 0 1-32zM2669-192l0 33 11 0 1-32zM1417-192l-3 7 0 11 4 13 10 10 12 3 13-1 11-6 9-11 6-20 0-11-9 0-2 16-4 9-9 8-14 2-3-2 5-12-3-16-8-6-9 1zM1427-188l5 1 4 7-5 10-5 0-4-5 0-8zM519-192l-3 7 0 11 4 13 10 10 12 3 13-1 11-6 9-11 6-20 0-11-9 0-2 16-4 9-9 8-14 2-3-2 5-12-3-16-8-6-9 1zM529-188l5 1 4 7-5 10-5 0-4-5 0-8zM7-161l49 4 33 7-2-13-9-20-10-11-16-6-13 1-14 7-11 13zM27-175l11-10 15-2 6 2 9 8 5 11-4 1-23-5-18-1zM5316-206l-11 0-8 18-6 8-12 10-3-1 3-9 0-15-2-5-5-6-5-2-10 2-6 10 1 14 5 6 11 2-4 10-5 4 0 8 18-3 14-8 18-21zM5263-199l3 0 4 5 0 7-4 5-3 0-5-6 0-5zM3060-205l-12-1-2 8-9 15-10 10-6 3-1-3 3-10-2-16-10-9-10 2-7 11 1 11 7 9 9 1-3 9-6 5 0 8 19-3 16-10 13-15zM3007-199l7 6 0 5-5 6-3 0-5-7 2-7zM2008-206l-11 0-3 10-8 13-15 13-2-3 3-17-3-11-9-7-10 2-6 8 0 15 5 7 11 2-2 8-7 7 0 6 7 1 12-3 16-10 17-22zM1955-199l3 0 5 7-1 6-4 4-3 0-4-4 0-8zM1743-208l-9 10 0 15 2 4 5 4 9 1-2 8-7 7 1 7 18-3 16-10 13-15 8-17 3 2 2 13 6 14 9 7 10-1 7-6 3-6 6-28 3-3 5 3 1 181 4 14 4 5 6 3 8 0 8-4 5-9 1-7-3-20-6-7-14 0 0-159-4-11-8-6-8 0-8 7-5 13-4 22-5 6-3 0-7-10-6-32-12 0 1 9-9 1-3 10-8 13-15 13-2-1 3-15-1-11-7-9zM1870-37l4 0 6 7 0 12-6 7-5-1-4-5 0-14zM1745-199l3 0 5 7-1 6-4 4-3 0-4-4 0-8zM1635-222l-15 6-12 13-5 18 1 15 4 9 6 5 11 3 6-1 10-6 6-11 2-15-6-16 2-2 7 2 9 8 3 6 0 22-14 25-5 20 1 106 5 11 8 5 9 0 5-2 6-7 2-19-2-10-4-7-7-3-10 0 0-72 5-20 10-15 4-29-4-16-11-15-16-8zM1663-37l6 1 4 7 0 11-6 7-5-1-4-6 0-12zM1621-197l12 1 6 9-1 14-9 7-8-1-6-7 0-17z"/>
<path id="T15" d="M4280-13l1 12 88 0 0-13zM2201-21l0 20 16 0 0-20zM2244-74l0 13 89-1-1-12zM4707-86l-11 6-6 9-4 17 0 23 4 17 4 6 13 9 10 0 11-4 7-7 4-8 3-18-1-24-4-12-7-9-10-5zM4711-76l9 1 5 5 5 19-2 29-4 8-8 5-8-1-5-5-4-9-1-10 1-27 4-9zM4280-119l2 14 74 33-1 2-73 31-2 2 1 12 88-38 0-19zM4714-138l-11 0-3 3-76 127-3 8 11 0 79-130zM4613-138l-7 3-10 14-4 25 1 13 7 21 11 9 12 1 13-5 9-13 4-24-1-14-5-18-9-10-5-2zM4617-129l11 2 6 8 2 9 0 28-2 9-10 11-7 0-8-7-4-13 0-27 2-9zM4500-138l-5 73 16 0 11-8 11-2 12 2 12 10 5 13 0 10-7 18-14 9-8 1-14-4-7-6-6-11-14 2 1 7 5 10 7 7 11 6 9 2 25-2 11-6 8-8 6-11 2-8 0-22-2-7-12-17-17-8-16 0-8 2-10 6-1-18 2-25 56-1 1-14zM3926-138l0 137 57 0 13-2 9-4 11-9 7-18 0-12-5-13-9-9-15-5 12-8 7-10 2-6 0-17-2-6-6-8-15-8-10-2zM3942-65l3-2 31 0 14 2 8 4 8 12 0 17-4 8-13 8-45 1-2-2zM3942-122l2-2 32 0 14 3 7 7 2 5-2 18-7 7-12 4-34 0-2-2zM3180-138l-29 23 1 14 23-18 5-1 0 103-2 2-30 0 0 14 77 0 0-14-30-1 0-122zM3046-138l-4 73 16 0 7-6 8-3 9-1 10 2 12 10 4 8 1 12-3 15-4 6-10 8-10 2-12-2-11-8-6-11-14 2 1 7 6 11 6 6 11 6 9 2 25-2 16-10 8-13 4-20-2-16-4-9-9-11-17-8-16 0-8 2-10 6-2-2 2-34 3-8 55 0 0-14zM2617-138l-29 23 1 14 26-20 2 2 0 102-2 2-30 0-1 13 79 1-1-14-28 0-2-2 0-121zM4050-139l-1 136 16 1 0-56 40-1 31 54 3 3 17 0-34-57 15-8 12-15 3-11 0-14-5-15-12-11-13-5zM4065-124l48-1 12 4 8 8 3 8-2 18-10 11-5 2-52 1-2-2zM3327-139l-82 1 0 13 67 1-20 35-14 32-8 31-1 24 15-1 1-20 6-28 8-22 28-51zM2867-139l-83 1 1 13 67 1-20 34-14 32-8 29-2 27 15 0 2-24 6-26 12-31 24-41zM3841-140l-17 4-11 6-9 8-7 10-8 24-1 31 6 23 8 14 9 9 19 10 24 2 18-4 11-6 11-10 9-16-13-7-6 11-11 11-13 6-20 0-15-7-10-10-8-15-3-27 5-26 13-18 17-8 20 0 7 2 14 10 7 12 13-5 1-4-9-14-10-8-23-8zM3610-140l-11 5-7 6-6 9-5 18 9 1 5-10 8-8 9-4 9 0 12 9 5 12 1 103 13 0 0-98-3-17-6-12-9-9-12-5zM3485-136l-15 13-6 12-4 21 2 35 6 36 0 20 18-1 5-30 7-20 6 7 10 2 4-2 7-9 2-8-2-20-5-7-6-3-7 0-8 4-9 12-6 16-4 22-3 0-3-28 0-25 3-13 4-8 9-9 12-4 8 0 12 4 12 15 4 16 0 89 13 0 0-94-6-23-12-16-11-6-22-2zM3508-76l6 0 5 7-1 10-6 5-7-4-2-6 1-7zM2959-136l-6 4-11 13-3 14 15 2 3-11 7-8 14-5 8 1 7 3 9 12 0 18-4 9-8 10-40 39-12 21 0 13 82 0 0-14-63 0-2-2 10-15 31-29 15-17 5-10 3-14-2-15-4-8-9-9-16-6-17 0zM2718-140l-18 7-12 15-6 19-2 39 4 27 6 15 6 8 13 9 20 2 9-2 10-6 13-19 6-28 0-31-6-28-10-17-16-9zM2725-127l12 4 9 11 4 13 2 37-2 20-4 14-10 12-13 4-12-4-10-12-4-14-2-30 2-25 6-18 8-8zM2358-138l-8 9-2 20 6 14 7 4 10 0-1 91 18 0 37-114 7-6 4 4 0 116 13 1 0-124-4-11-9-6-7 0-5 2-6 7-30 92-3 4-2-86-4-11-5-6-4-2zM2363-126l6 1 3 4 0 11-6 6-5-1-4-6 0-9zM2112-138l-13 8-13 14 4 13 13-12 10-6 7-2 16 2 14 13 4 13 0 19-2 1-5-7-16-8-18 2-13 11-8 19 0 39 4 12 11 8 9-1 7-6 4-9 0-19-2-7-8-7-11 2-1-10 2-6 6-7 8-4 9 0 10 4 6 6 6 12 2 10 0 40 13 0 0-98-4-16-7-12-11-9-13-4zM2109-33l6 0 5 7-1 9-5 5-5 0-5-8 1-9zM1965-136l-7 12 0 18 2 6 6 7 5 2 9-1 0 93 18-1 37-115 5-5 2 0 4 6 0 115 13 0 0-121-4-13-9-7-7 0-5 2-8 9-28 89-4 6-1-84-6-16-8-6-7 0zM1973-126l5 1 4 5 0 8-7 8-3 0-5-6 0-11zM1743-138l-8 11-1 17 2 8 6 9 5 2 9-1 1 36-12 6-5 9-1 25 4 11 10 6 9-1 7-9 1-19 2-1 37 28 16 1 0-138-13 0 0 117-2 2-40-31 0-59-3-20-2-4-9-7zM1754-41l2 2 0 23-5 3-4-7 0-10 2-6zM1747-125l7 0 4 6 0 8-6 7-4 0-5-6 0-10zM1663-140l-10 4-8 7-7 11-4 16 8 2 6-11 8-8 9-4 9 0 12 9 6 18 0 97 13 0 0-101-2-11-7-15-9-9-12-5zM1547-140l-19 14-8 14-4 18 0 18 6 39 2 38 15 0 8-8 11-15 11-27 1-24-3-10-9-7-7 0-6 3-7 12 0 19 4 8 11 7-5 10-9 8-2-2-6-35-1-33 5-16 10-10 4 0 13 13 14-13 7 2 7 8 4 13 0 97 13 0 0-95-6-25-11-15-11-6-16 14zM1551-76l6 1 4 9-1 7-6 5-5-1-4-6 0-8zM1475-140l-12 2-7 8-3 11 1 16 4 8 5 4 13-1 0 64-4 8-6 4-7 0-8-6-4-11-5-45-15-8 9 64 6 13 6 6 9 4 11 0 10-4 7-8 4-13 0-93-4-14zM1466-125l6 0 4 5 0 10-5 6-5 0-5-7 0-8zM1342-138l-16 12-8 13 7 6 12-12 13-4 10 0 10 4 8 8 6 18 0 75-2 2-43 0-2-2 0-23 2-2 9 2 7-4 5-12-1-20-3-6-8-7-10 0-8 7-5 15-1 68 73 1 0-99-4-19-4-8-9-9-8-4-10-2zM1342-77l7 2 3 5 0 8-2 4-6 4-7-6 0-11zM1228-136l-20 18-1 5 3 9 3 0 8-9 13-8 7-2 16 2 13 12 4 12 1 20-3 1-7-8-13-6-18 2-12 9-8 15-2 11 0 30 4 15 6 7 5 2 7 0 11-9 3-11-2-20-2-4-7-5-11 2-1-7 2-8 8-9 7-3 9 0 12 6 9 15 3 19 0 32 13 0 0-90-5-25-8-13-14-9-21-2zM1229-33l7 0 4 5 0 10-5 6-6 0-4-6 0-10zM1112-136l-7 4-11 13-7 25 1 31 6 39 0 25 16 0 9-9 12-17 8-21 2-26-2-9-6-7-5-2-10 1-8 9-2 7 2 19 6 7 8 4-6 12-7 7-2 0-2-4-6-37 0-29 4-12 10-12 14-5 8 0 12 4 9 9 6 17 0 93 13 1 1-81-3-27-4-11-11-14-11-6-23-2zM1120-77l7 0 4 6-1 11-5 4-6-1-4-8 1-7zM967-136l-7 12 0 18 2 6 6 7 5 2 9-1 0 93 18-1 37-115 5-5 2 0 4 6 0 115 13 0 0-121-4-13-9-7-7 0-5 2-8 9-28 89-4 6-1-84-6-16-8-6-7 0zM975-126l5 1 4 5 0 8-7 8-3 0-5-6 0-11zM899-140l-13 6-9 10-9 19-2 12 35 8 11 4 6 6 3 9 0 20-10 0-7 5-4 11 0 14 2 8 6 7 13 2 8-6 4-10 0-63-5-9-6-5-20-10-13-3-2-4 4-7 10-7 11 0 19 9 13 1 4-17-11 0-25-10zM918-34l6 6 0 10-3 4-6 2-6-7 0-9 4-5zM796-140l-11 5-7 6-6 9-5 18 9 1 5-10 8-8 9-4 9 0 12 9 5 12 1 103 13 0 0-98-3-17-6-12-9-9-12-5zM685-138l-13 8-6 7-12 25 8 5 9 10-7 14-4 17 0 53 13 0 1-57 5-16 6-8-5-12-11-10 12-15 13-6 15 2 7 6 6 10 4 23 0 83 13 0 0-90-4-23-6-13-12-11-13-4zM575-138l-13 8-6 7-12 25 8 5 9 10-7 14-4 17 0 53 13 0 1-57 5-16 6-8-5-12-11-10 12-15 13-6 15 2 7 6 6 10 4 23 0 83 13 0 0-90-4-23-6-13-12-11-13-4zM473-140l-10 4-8 7-7 11-4 16 8 2 6-11 8-8 9-4 9 0 12 9 6 18 0 97 13 0 0-101-2-11-7-15-9-9-12-5zM369-140l-8 2-13 8-10 10-5 9 7 7 17-15 13-4 10 0 8 4 10 12 3 12-1 72-5 6-10 0-6-10 0-44-6-16-11-5-8 2-8 8-3 10 1 16 4 8 7 5 11-1 0 20 6 17 7 6 17 2 13-9 5-15 1-68-2-17-7-17-9-9-16-6zM357-77l4 0 6 8-1 9-4 4-6 0-5-8 1-7zM243-136l-15 13-6 12-4 21 2 31 6 41 0 19 16 0 19-23 8-18 3-15 0-19-7-14-5-2-10 1-7 6-3 7 0 18 2 5 5 6 8 3-3 9-9 11-4-1-7-45 0-20 5-17 11-12 13-4 12 1 10 5 7 8 4 9 2 10 0 91 13 0 0-93-6-25-13-16-10-5-22-2zM252-77l6 0 4 4 0 12-5 5-5 0-5-6 0-9zM7-136l-7 12 0 18 2 6 6 7 5 2 9-1 0 93 18-1 37-115 5-5 2 0 4 6 0 115 13 0 0-121-4-13-9-7-7 0-5 2-8 9-28 89-4 6-1-84-6-16-8-6-7 0zM15-126l5 1 4 5 0 8-7 8-3 0-5-6 0-11zM2927-146l-13 0-36 146 13 0zM3541-192l-1 32 11 1 1-33zM316-206l-11 0-8 18-6 8-12 10-3-1 3-9 0-15-2-5-5-6-5-2-10 2-6 10 1 14 5 6 11 2-4 10-5 4 0 8 18-3 14-8 18-21zM263-199l3 0 4 5 0 7-4 5-3 0-5-6 0-5zM96-209l-12 0-1 24-9-8-13-5-11 0-11 4-17 16-8 17 45 4 37 8zM37-174l8-7 17-2 9 4 8 12-6 1-13-4-22-2zM102-216l12 46 11 9 7 0 9-6 5-11 5-25 5-2 3 4 1 184 4 11 5 5 13 2 5-2 6-7 2-6 0-16-2-8-7-8-13 0 0-154-2-11-4-7-7-4-11 2-7 10-6 29-4 6-5 1-6-8-6-33zM177-37l5 0 6 10-1 10-6 6-7-3-2-7 1-11zM85-256l-1 32 12 1 0-32z"/>
<path id="T16" d="M6794 11l-8 7-2 7 1 12 4 6 12 3 0 18 9 1 1-39-2-7-5-7zM6795 19l5 2 2 7-1 6-4 4-6-4-1-4 1-8zM6564 14l-4 8 0 14 5 8 11 1 0 18 35 0 0-51-11 1 1 37-2 2-12-1 0-18-4-17-10-6zM6573 19l3 3 0 12-5 4-5-4-1-7 2-5zM4372-13l1 12 88 0 0-13zM4902-86l-9 4-9 12-4 24 1 17 3 13 7 11 11 6 10 0 12-5 9-13 3-13 0-25-3-14-10-13-8-4zM4906-76l8 1 5 4 5 15 0 26-4 14-9 7-10-2-8-16 0-31 2-8 5-7zM4372-119l2 14 74 33-1 2-73 31-2 2 1 12 88-38 0-19zM4908-138l-12 1-81 137 12 0 82-136zM4807-138l-11 7-6 11-3 19 1 23 4 12 7 9 7 4 11 1 11-3 11-13 4-18 0-19-4-18-8-11-8-4zM4812-129l7 0 7 6 5 21-2 27-3 7-8 6-6 0-8-6-5-19 2-30 3-6zM4694-138l-5 73 16 0 11-8 11-2 12 2 12 10 5 13 0 10-7 18-14 9-8 1-14-4-7-6-6-11-14 2 1 7 5 10 7 7 11 6 9 2 25-2 11-6 8-8 6-11 2-8 0-22-2-7-12-17-17-8-16 0-8 2-10 6-1-18 2-25 56-1 1-14zM1922-138l0 137 15-1 0-116 41 117 11 0 36-103 2-11 3-1 0 115 14 0 0-137-22 1-36 109-3 4-38-112-2-2zM1667-138l-1 136 99 1-1-15-81-1 1-47 72-1 0-13-72 0-1-44 77-1 2-14zM1544-138l0 137 56 0 14-2 10-5 11-10 3-6 2-23-4-11-7-8-17-8 9-5 10-13 2-7-2-20-9-11-12-6-10-2zM1560-65l2-2 31 0 19 4 8 7 4 9 0 13-4 9-13 9-46 1zM1560-123l34-1 13 3 9 10 1 11-3 10-6 6-12 4-35 0-2-2zM1790-139l-1 136 16 1 0-56 40-1 31 54 3 3 17 0-34-57 15-8 12-15 3-11 0-14-5-15-12-11-13-5zM1805-124l48-1 12 4 8 8 3 8-2 18-10 11-5 2-52 1-2-2zM6864-136l-7 4-11 13-7 25 1 31 6 39 0 25 16 0 9-9 12-17 8-21 2-26-2-9-6-7-5-2-10 1-8 9-2 7 2 19 6 7 8 4-6 12-7 7-2 0-2-4-6-37 0-29 4-12 10-12 14-5 8 0 12 4 9 9 6 17 0 93 13 1 1-81-3-27-4-11-11-14-11-6-23-2zM6872-77l7 0 4 6-1 11-5 4-6-1-4-8 1-7zM6688-140l-8 0-7 4-7 13 0 18 3 8 7 6 12-1 0 66-7 9-9 1-9-7-4-14-4-40-15-9 6 52 4 16 6 11 14 8 11 0 12-6 8-16 0-99-4-12zM6678-125l6 0 5 7-1 9-4 5-5 0-6-9 2-9zM6487-140l-12 2-7 8-3 11 1 16 4 8 5 4 13-1 0 64-4 8-6 4-7 0-8-6-4-11-5-45-15-8 9 64 6 13 6 6 9 4 11 0 10-4 7-8 4-13 0-93-4-14zM6478-125l6 0 4 5 0 10-5 6-5 0-5-7 0-8zM6327-140l-9 8-3 9 0 12 3 11 7 7 9-2 2 2 0 94 19-1 6-24 8-21 12-25 11-15 6 7 0 78 13 1 1-75-1-8-7-12 5-9 2-14-4-15-3-4-8-4-13 2-5 6-3 9 1 18 6 12-10 14-12 24-8 27-2 1-2-98-7-13-3-2zM6393-126l3 1 4 6 0 8-5 6-4 1-6-6 0-10 4-5zM6328-127l6 0 4 5 0 10-6 6-4 0-5-7 0-8zM6260-140l1 122 3 10 6 7 14 2 7-5 4-7 0-23-7-12-4-2-11 1 0-93zM6278-37l5 0 5 6 0 14-6 6-5-1-4-6 0-13zM6206-140l0 122 4 11 5 6 13 2 7-4 6-12 0-17-2-7-6-7-4-2-10 1 0-93zM6223-37l5 0 6 10-1 11-5 5-6-1-4-9 1-12zM6081-137l-7 13 0 18 8 13 4 2 10-1 0 91 14 1 40-30 2 2 2 20 4 6 5 3 13-3 7-14 0-19-6-17-4-4-8-3 0-79-13-1 0 89-39 28-4-2 0-97-4-11-5-6-12-2zM6166-41l5 4 3 7 0 12-4 6-5-3zM6088-126l4 0 6 10-2 8-6 4-3 0-5-7 1-11zM5958-138l-7 9-2 17 1 8 7 11 4 2 11-1 0 92 15-1 37-28 3 1 1 14 4 10 6 5 12-2 7-9 2-19-4-19-7-8-8-4 0-79-13 1 0 88-40 29-2-2 0-94-2-10-3-6-9-7zM6041-40l6 4 3 9-1 10-3 5-3 0-3-6zM5963-126l6 1 4 6-1 10-6 5-5-1-4-8 1-8zM5894-140l0 120 7 17 7 4 9 0 9-7 3-7 0-19-2-7-6-7-4-2-10 1 0-93zM5911-37l6 0 5 8 0 11-6 7-5-1-4-5 0-15zM5839-140l1 124 6 13 7 4 8 0 7-4 5-7 2-18-2-9-6-9-5-2-8 2-2-2 0-92zM5856-37l6 0 5 8 0 11-6 7-5-1-4-6 0-13zM5721-138l-8 11-1 17 2 8 6 9 5 2 9-1 1 36-12 6-5 9-1 25 4 11 10 6 9-1 7-9 1-19 2-1 37 28 16 1 0-138-13 0 0 117-2 2-40-31 0-59-3-20-2-4-9-7zM5732-41l2 2 0 23-5 3-4-7 0-10 2-6zM5725-125l7 0 4 6 0 8-6 7-4 0-5-6 0-10zM5641-140l-12 6-7 7-10 24 10 2 5-11 6-6 10-5 9 0 11 7 7 17 0 99 13 1 0-105-6-18-10-12-13-6zM5540-140l-12 4-9 6-13 17 6 6 8-8 11-6 19-2 10 4 8 9 3 12 0 51-11-1-6 4-4 7-2 16 5 15 10 7 7 0 9-6 5-15 1-71-2-17-6-16-8-9-17-7zM5563-35l6 1 3 4 0 12-6 5-4 0-5-7 0-8zM5410-134l-14 16-6 19 0 36 6 33 1 31 18-1 4-26 7-23 9 7 8 1 8-6 4-8 1-15-3-12-5-6-5-2-10 1-7 5-8 12-6 18-2 19-3 0-4-27 0-28 2-9 6-12 8-8 12-4 8 0 12 4 9 9 4 9 3 14 0 87 13 1 0-92-5-23-6-11-7-7-11-6-22-2zM5440-77l8 7 0 9-7 7-4-1-4-5 0-11zM5347-140l-12 2-7 8-3 11 1 16 4 8 5 4 13-1 0 64-4 8-6 4-7 0-8-6-4-11-5-45-15-8 9 64 6 13 6 6 9 4 11 0 10-4 7-8 4-13 0-93-4-14zM5338-125l6 0 4 5 0 10-5 6-5 0-5-7 0-8zM5214-138l-16 12-8 13 7 6 12-12 13-4 10 0 10 4 8 8 6 18 0 75-2 2-43 0-2-2 0-23 2-2 9 2 7-4 5-12-1-20-3-6-8-7-10 0-8 7-5 15-1 68 73 1 0-99-4-19-4-8-9-9-8-4-10-2zM5214-77l7 2 3 5 0 8-2 4-6 4-7-6 0-11zM5081-138l-11 9-6 11-4 17 1 14 3 11 6 7 12 2 9-6 4-11 0-15-2-6-4-5-9-4 2-4 7-5 8 0 6 3 7 9 2 16-8 10-3 8-1 77 59 1 0-140-13 1-1 122-31-1 0-58 3-9 8-10 0-11-6-20-14-13-7-2zM5077-101l6 1 4 7-1 9-5 4-5 0-5-7 0-8zM4621-140l-15 4-15 14-6 18 1 25 8 17 10 9 10 4 20-2 9-5 10-10-3 29-8 16-15 9-15-3-7-7-4-8-12 2-1 4 7 14 9 7 12 4 13 0 9-2 10-6 9-11 6-12 4-16 2-29-4-32-8-18-4-5-13-8zM4625-127l10 2 11 10 6 17 0 12-4 12-6 6-9 5-13 1-7-3-8-8-4-9-1-19 6-16 8-7zM4230-140l-7 0-7 4-7 14 0 16 3 9 7 6 10-2 3 2 0 57-3 12-5 5-9 1-10-8-7-53-15-9 5 44 5 24 4 8 7 7 9 4 11 0 12-6 7-12 2-13-1-89-4-13-5-6zM4221-125l6 0 5 6 0 8-5 7-5 0-5-6 0-10zM4067-138l-7 9-2 15 5 16 5 5 11 0 0 94 20-1 6-26 10-25 10-20 11-14 6 9 0 77 13 0 0-81-7-13 5-12 1-16-4-12-10-7-11 1-7 6-4 17 2 13 6 9-16 25-16 41-2-3-1-97-2-5-8-7-10 0zM4135-126l4 1 5 8-2 8-6 5-2 0-6-8 1-9zM4072-127l7 1 3 5 0 8-6 7-4 0-6-10 1-6zM4004-140l0 120 7 17 7 4 9 0 9-7 3-7 0-19-2-7-6-7-4-2-10 1 0-93zM4021-37l6 0 5 8 0 11-6 7-5-1-4-5 0-15zM3949-140l1 124 6 13 7 4 8 0 7-4 5-7 2-18-2-9-6-9-5-2-8 2-2-2 0-92zM3966-37l6 0 5 8 0 11-6 7-5-1-4-6 0-13zM3826-138l-7 9-2 17 1 8 7 11 4 2 11-1 0 92 15-1 37-28 3 1 1 14 4 10 6 5 12-2 7-9 2-19-4-19-7-8-8-4 0-79-13 1 0 88-40 29-2-2 0-94-2-10-3-6-9-7zM3909-40l6 4 3 9-1 10-3 5-3 0-3-6zM3831-126l6 1 4 6-1 10-6 5-5-1-4-8 1-8zM3701-138l-7 9-2 20 8 16 5 2 10-1 0 91 15 0 37-28 3 1 2 18 3 6 6 5 12-2 6-7 2-6 0-25-4-11-14-10 0-79-13 1 0 88-39 28-3-1-1-100-4-10-9-7zM3785-41l7 9 0 16-3 4-3 0-3-5 0-22zM3707-126l5 1 4 6 0 7-7 8-3 0-5-5-1-6 1-6zM3637-140l1 125 7 13 6 3 9 0 4-2 7-9 2-10-1-11-3-10-9-7-10 1 0-93zM3654-37l6 0 5 10-1 11-5 5-8-4-2-13zM3582-140l0 118 5 16 9 7 8 0 10-7 3-7 0-21-7-12-4-2-11 1 0-93zM3599-37l6 0 5 7 0 13-6 6-5-1-4-6 0-13zM3464-138l-8 12 0 19 2 7 10 9 10-1 0 37-9 3-4 4-5 15 0 15 4 12 10 7 11-2 6-9 0-18 2-1 38 28 15 1 1-137-14 0 0 116-3 1-39-31 0-67-2-10-4-7-8-5zM3476-41l2 2 0 23-5 3-4-5 0-15zM3469-125l6 0 5 8-1 7-5 6-5 0-5-8 0-7zM3385-140l-10 4-8 7-7 11-4 16 8 2 6-11 8-8 9-4 9 0 12 9 6 18 0 97 13 0 0-101-2-11-7-15-9-9-12-5zM3283-140l-18 8-11 11-4 9 5 5 15-12 11-4 13 0 10 4 8 10 3 18 0 43-2 2-10-2-7 6-4 12 0 14 3 8 7 7 12 2 9-7 5-18-1-82-6-17-10-11-11-5zM3306-35l5 0 5 6 0 9-6 7-6-1-3-4 0-12zM3157-136l-6 4-11 13-6 18-1 30 7 46 0 25 18 1 5-29 7-22 6 7 11 2 4-2 6-8 2-7 0-17-2-6-6-7-12-2-6 3-9 10-8 21-4 21-3-5-3-40 4-23 5-9 8-7 7-3 13-1 14 6 7 8 4 9 3 21-1 79 13 1 1-84-1-14-6-20-13-16-9-5-23-2zM3184-77l6 4 2 10-2 5-7 4-6-5-1-10 1-3zM3037-136l-15 13-6 12-4 21 2 31 6 41 0 19 16 0 19-23 8-18 3-15 0-19-7-14-5-2-10 1-7 6-3 7 0 18 2 5 5 6 8 3-3 9-9 11-4-1-7-45 0-20 5-17 11-12 13-4 12 1 10 5 7 8 4 9 2 10 0 91 13 0 0-93-6-25-13-16-10-5-22-2zM3046-77l6 0 4 4 0 12-5 5-5 0-5-6 0-9zM2806-138l-8 12 0 19 2 6 7 8 11-1 0 95 19 0 6-24 8-21 12-25 11-16 4 2 3 8 0 76 13 0 0-80-7-14 6-17 0-13-4-10-5-5-6-2-10 1-7 6-3 7 0 19 7 13-17 27-10 24-4 16-2 1-1-97-2-8-7-8-12-1zM2874-126l8 5 0 11-7 6-5-2-3-5 0-8zM2811-127l7 1 3 7-1 8-5 5-4 0-6-8 1-8zM2600-138l-8 9-2 18 2 9 7 10 9 1 3-2 2 2-1 91 73 1 0-139-13 0-1 122-45-1-1-106-4-10-9-7zM2603-125l7 0 4 6 0 9-6 6-5 0-4-5 0-11zM2479-138l-9 12-1 15 1 7 5 9 7 4 10-1 0 93 17 0 38-117 5-4 3 1 2 4 0 115 13 1 1-115-4-18-4-5-6-3-12 2-5 5-10 26-22 72-2 1-1-81-2-10-8-13-4-2zM2484-126l6 1 4 9-2 8-5 4-5-1-4-6 1-11zM2382-136l-9 6-7 9-8 22 0 32 6 38 1 30 16 0 20-25 8-20 2-31-2-7-5-6-13-2-4 2-7 9-2 12 2 12 6 8 8 3-4 11-8 9-4-2-7-43 0-22 4-14 9-12 15-6 17 2 12 10 4 8 3 16 0 88 13 0 0-90-3-20-4-10-13-15-8-4-23-2zM2391-77l6 0 5 8-1 7-5 6-5 0-5-7 0-8zM2246-138l-8 9-2 18 2 9 7 10 9 1 3-2 2 2-1 91 73 1 0-139-13 0-1 122-45-1-1-106-4-10-9-7zM2249-125l7 0 4 6 0 9-6 6-5 0-4-5 0-11zM1290-138l-14 9-10 14-6 14 0 4 6 3 10 11-10 24-1 59 14 0 0-57 4-13 7-10-3-9-12-11 0-3 5-8 12-10 17-2 12 8 7 14 2 8 0 93 13 1 1-86-5-30-6-11-11-10-13-4zM1141-137l-7 13 0 18 8 13 4 2 10-1 0 91 14 1 40-30 2 2 2 20 4 6 5 3 13-3 7-14 0-19-6-17-4-4-8-3 0-79-13-1 0 89-39 28-4-2 0-97-4-11-5-6-12-2zM1226-41l5 4 3 7 0 12-4 6-5-3zM1148-126l4 0 6 10-2 8-6 4-3 0-5-7 1-11zM1025-140l-9 8-3 9 0 12 3 11 7 7 9-2 2 2 0 94 19-1 6-24 8-21 12-25 11-15 6 7 0 78 13 1 1-75-1-8-7-12 5-9 2-14-4-15-3-4-8-4-13 2-5 6-3 9 1 18 6 12-10 14-12 24-8 27-2 1-2-98-7-13-3-2zM1091-126l3 1 4 6 0 8-5 6-4 1-6-6 0-10 4-5zM1026-127l6 0 4 5 0 10-6 6-4 0-5-7 0-8zM943-140l-12 6-7 7-10 24 10 2 5-11 6-6 10-5 9 0 11 7 7 17 0 99 13 1 0-105-6-18-10-12-13-6zM793-136l-6 13 1 20 7 10 4 2 9-2 2 2 0 91 13 0 39-29 3 2 1 15 6 11 10 2 8-4 5-9 1-21-1-8-5-11-4-4-8-3 0-79-13-1-1 90-38 27-3-1 0-88-2-14-5-10-7-5-8 0zM879-40l5 3 3 8 0 10-4 7-3 0-2-4zM801-126l6 1 3 4 0 11-6 6-5-1-4-5 0-10zM749-140l-12 2-7 8-3 11 1 16 4 8 5 4 13-1 0 64-4 8-6 4-7 0-8-6-4-11-5-45-15-8 9 64 6 13 6 6 9 4 11 0 10-4 7-8 4-13 0-93-4-14zM740-125l6 0 4 5 0 10-5 6-5 0-5-7 0-8zM629-140l-12 4-9 6-13 17 6 6 14-12 12-4 12 0 7 2 10 9 4 13 0 52-11-1-7 5-4 10 0 19 8 12 6 3 8 0 8-6 5-13 0-85-2-10-5-11-8-9-12-6zM651-35l7 1 4 7-1 8-6 6-4 0-5-8 1-10zM517-138l-12 8-7 8-11 25 9 4 8 10-8 14-3 11 0 36 3 13 6 8 12 2 6-3 7-10 1-21-3-9-8-6-11 1 3-20 9-15-5-10-10-8-1-3 5-8 12-10 18-2 9 5 6 7 5 15 1 95 13 0 0-93-4-20-6-12-15-12-8-2zM511-34l5 1 4 6 0 8-7 7-3 0-5-5-1-5 1-7zM367-136l-6 13 1 20 7 10 4 2 9-2 2 2 0 91 13 0 39-29 3 2 1 15 6 11 10 2 8-4 5-9 1-21-1-8-5-11-4-4-8-3 0-79-13-1-1 90-38 27-3-1 0-88-2-14-5-10-7-5-8 0zM453-40l5 3 3 8 0 10-4 7-3 0-2-4zM375-126l6 1 3 4 0 11-6 6-5-1-4-5 0-10zM270-136l-7 4-11 13-7 25 1 31 6 39 0 25 16 0 9-9 12-17 8-21 2-26-2-9-6-7-5-2-10 1-8 9-2 7 2 19 6 7 8 4-6 12-7 7-2 0-2-4-6-37 0-29 4-12 10-12 14-5 8 0 12 4 9 9 6 17 0 93 13 1 1-81-3-27-4-11-11-14-11-6-23-2zM278-77l7 0 4 6-1 11-5 4-6-1-4-8 1-7zM125-137l-7 13 0 18 8 13 4 2 10-1 0 91 14 1 40-30 2 2 2 20 4 6 5 3 13-3 7-14 0-19-6-17-4-4-8-3 0-79-13-1 0 89-39 28-4-2 0-97-4-11-5-6-12-2zM210-41l5 4 3 7 0 12-4 6-5-3zM132-126l4 0 6 10-2 8-6 4-3 0-5-7 1-11zM25-136l-15 13-6 12-4 21 2 35 6 36 0 20 18-1 5-30 7-20 6 7 10 2 4-2 7-9 2-8-2-20-5-7-6-3-7 0-8 4-9 12-6 16-4 22-3 0-3-28 0-25 3-13 4-8 9-9 12-4 8 0 12 4 12 15 4 16 0 89 13 0 0-94-6-23-12-16-11-6-22-2zM48-76l6 0 5 7-1 10-6 5-7-4-2-6 1-7zM2062-146l14 21 10 22 6 24 2 22-2 31-4 18-8 21-18 27 14 1 17-24 10-24 6-35 0-21-4-28-8-23-7-13-14-19zM1512-146l-16 22-10 22-6 26-1 36 7 37 10 22 16 22 14 0-11-15-10-19-10-38-1-28 5-35 12-30 15-21zM6822-147l-13 0-5 12-7 8-16-11-9-2-20 2-17 12-9 11 5 12 18-16 11-4 11 0 11 5 6 6 6 15 1 19-2 2-15-12-18-2-13 6-11 14-4 14 0 34 4 14 6 7 12 2 9-7 4-7 1-15-3-13-8-7-12 1 2-14 8-9 7-3 10 0 8 4 10 12 5 25-1 30 14 1 0-90-4-23 13-14zM6750-33l5 0 5 6 0 8-6 7-5 0-4-5 0-11zM6621-147l-13 0-6 15-5 5-17-11-8-2-17 1-16 9-13 14 5 13 18-16 11-4 11 0 9 4 8 8 6 16-1 20-6-7-10-6-18-2-12 6-11 13-4 12 0 40 4 12 6 6 5 2 11-2 5-5 4-9 0-18-4-10-7-5-11 1 2-15 6-7 8-4 15 2 11 10 7 20 0 40 13 0 0-98-4-15 14-15 4-11zM6549-33l6 0 5 8-1 7-5 6-5 0-5-8 1-9zM6028-192l0 33 11 0 1-32zM3771-192l0 33 11 0 1-32zM559-192l-1 32 11 1 1-33zM2519-192l-3 7 0 11 4 13 10 10 12 3 13-1 11-6 9-11 6-20 0-11-9 0-2 16-4 9-9 8-14 2-3-2 5-12-3-16-8-6-9 1zM2529-188l5 1 4 7-5 10-5 0-4-5 0-8zM1176-193l-3 7 0 14 4 12 9 9 20 3 14-5 9-9 6-13 3-20-1-2-9 1 0 9-4 12-7 9-9 4-8 0-4-3 5-9 0-11-6-11-11-2zM1186-188l5 1 3 4 0 7-5 6-5 0-4-8 1-6zM44-193l-3 7 0 14 4 12 9 9 20 3 14-5 9-9 6-13 3-20-1-2-9 1 0 9-4 12-7 9-9 4-8 0-4-3 5-9 0-11-6-11-11-2zM54-188l5 1 3 4 0 7-5 6-5 0-4-8 1-6zM251-162l49 5 33 7-2-15-10-20-12-11-12-4-9 0-16 6-14 16zM271-174l11-11 16-2 7 3 9 9 4 8-4 2-24-5-18-1zM858-202l-6 3-8 11-2 12 2 14 3 6 8 7 15 0 8-7 3-6 2-10-2-16-4-7-6-5zM860-185l7 1 4 7-1 8-5 5-5 0-5-6 0-9zM6418-206l-11 0-8 18-6 8-12 10-3-1 3-9 0-15-2-5-5-6-5-2-10 2-6 10 1 14 5 6 11 2-4 10-5 4 0 8 18-3 14-8 18-21zM6365-199l3 0 4 5 0 7-4 5-3 0-5-6 0-5zM4162-205l-12-1-2 8-9 15-10 10-6 3-1-3 3-10-2-16-10-9-10 2-7 11 1 11 7 9 9 1-3 9-6 5 0 8 19-3 16-10 13-15zM4109-199l7 6 0 5-5 6-3 0-5-7 2-7zM3110-206l-11 0-3 10-8 13-15 13-2-3 3-17-3-11-9-7-10 2-6 8 0 15 5 7 11 2-2 8-7 7 0 6 7 1 12-3 16-10 17-22zM3057-199l3 0 5 7-1 6-4 4-3 0-4-4 0-8zM2845-208l-9 10 0 15 2 4 5 4 9 1-2 8-7 7 1 7 18-3 16-10 13-15 8-17 3 2 2 13 6 14 9 7 10-1 7-6 3-6 6-28 3-3 5 3 1 181 4 14 4 5 6 3 8 0 8-4 5-9 1-7-3-20-6-7-14 0 0-159-4-11-8-6-8 0-8 7-5 13-4 22-5 6-3 0-7-10-6-32-12 0 1 9-9 1-3 10-8 13-15 13-2-1 3-15-1-11-7-9zM2972-37l4 0 6 7 0 12-6 7-5-1-4-5 0-14zM2847-199l3 0 5 7-1 6-4 4-3 0-4-4 0-8zM2737-222l-15 6-12 13-5 18 1 15 4 9 6 5 11 3 6-1 10-6 6-11 2-15-6-16 2-2 7 2 9 8 3 6 0 22-14 25-5 20 1 106 5 11 8 5 9 0 5-2 6-7 2-19-2-10-4-7-7-3-10 0 0-72 5-20 10-15 4-29-4-16-11-15-16-8zM2765-37l6 1 4 7 0 11-6 7-5-1-4-6 0-12zM2723-197l12 1 6 9-1 14-9 7-8-1-6-7 0-17zM839-208l13-1 19-10 16-17 6-12 3-12-11 0-10 20-12 12-6 3-1-2 3-7 0-15-2-5-5-6-6-2-9 2-6 11 1 12 5 6 10 2-1 6-7 7zM842-255l4 0 6 9-6 10-4 0-5-5 0-8z"/>
<path id="T18" d="M2382-22l-1 21 16 0 0-20zM1712-22l-1 21 16 0 0-20zM908-22l-2 2 0 18 16 1 1-19-2-2zM238-22l-2 2 0 18 16 1 1-19-2-2zM1257-74l0 13 89-1-1-12zM1997-116l0 40-2 2-36 0-1 12 37 1 2 2 0 40 11 0 1-41 37-1 1-12-36-1-2-2 0-39zM523-116l0 40-2 2-36 0-1 12 37 1 2 2 0 40 11 0 1-41 37-1 1-12-36-1-2-2 0-39zM2277-138l-4 73 16 0 7-6 8-3 9-1 10 2 12 10 4 8 1 12-3 15-4 6-10 8-10 2-12-2-11-8-6-11-14 2 1 7 6 11 6 6 11 6 9 2 25-2 16-10 8-13 4-20-2-16-4-9-9-11-17-8-16 0-8 2-10 6-2-2 2-34 3-8 55 0 0-14zM1894-138l-29 23 1 14 26-20 2 2 0 102-2 2-30 0-1 13 79 1-1-14-28 0-2-2 0-121zM701-138l-5 73 16 0 11-8 11-2 12 2 12 10 5 13 0 10-7 18-14 9-8 1-14-4-7-6-6-11-14 2 1 7 5 10 7 7 11 6 9 2 25-2 11-6 8-8 6-11 2-8 0-22-2-7-12-17-17-8-16 0-8 2-10 6-1-18 2-25 56-1 1-14zM599-138l-5 73 16 0 11-8 11-2 12 2 12 10 5 13 0 10-7 18-14 9-8 1-14-4-7-6-6-11-14 2 1 7 5 10 7 7 11 6 9 2 25-2 11-6 8-8 6-11 2-8 0-22-2-7-12-17-17-8-16 0-8 2-10 6-1-18 2-25 56-1 1-14zM2665-140l-18 7-12 15-6 19-2 39 4 27 6 15 6 8 13 9 20 2 9-2 10-6 13-19 6-28 0-31-6-28-10-17-16-9zM2672-127l12 4 9 11 4 13 2 37-2 20-4 14-10 12-13 4-12-4-10-12-4-14-2-30 2-25 6-18 8-8zM2562-140l-19 8-12 17-6 27 0 37 6 25 10 17 16 9 16 1 18-7 13-17 7-29 0-36-5-24-8-15-15-11zM2569-127l12 4 10 12 4 15 1 40-3 21-5 11-9 9-11 3-13-4-11-16-4-23 0-30 3-19 5-12 7-7zM2460-140l-18 7-8 8-5 9-6 25 0 43 6 24 8 13 14 10 20 2 9-2 10-6 12-17 6-23 0-46-6-23-9-14-16-9zM2465-127l14 4 8 9 6 21 1 22-1 22-4 18-4 8-7 7-12 4-13-4-7-7-5-11-3-16 0-39 4-20 8-12zM2190-136l-6 4-11 13-3 14 15 2 3-11 7-8 14-5 8 1 7 3 9 12 0 18-4 9-8 10-40 39-12 21 0 13 82 0 0-14-63 0-2-2 10-15 31-29 15-17 5-10 3-14-2-15-4-8-9-9-16-6-17 0zM2102-140l-18 7-8 8-5 9-6 25 0 43 6 24 8 13 14 10 20 2 9-2 10-6 12-17 6-23 0-46-6-23-9-14-16-9zM2107-127l14 4 8 9 6 21 1 22-1 22-4 18-4 8-7 7-12 4-13-4-7-7-5-11-3-16 0-39 4-20 8-12zM1794-140l-13 4-7 5-13 19-6 26 0 38 5 21 7 13 8 8 12 6 20 1 14-6 13-17 4-14-2-28-7-13-8-7-8-4-12-2-19 5-11 11 0-21 5-16 4-6 10-8 9-2 9 2 5 3 8 12 11-2 2-4-4-9-12-11-12-4zM1792-77l10 0 9 4 7 7 5 15 0 11-5 16-7 8-11 4-12-2-10-9-4-7-3-14 0-10 3-10 8-9zM1593-138l-8 11 0 22 7 12 4 2 11-1 0 36-12 6-6 13 0 22 4 10 9 6 10-1 6-7 2-6 0-15 2-1 39 29 13 0 1-138-13 0-1 118-41-30 0-63-2-13-8-12-5-2zM1606-40l1 22-5 5-4-4-1-11 3-10zM1597-125l7 0 4 6-1 10-5 5-5 0-5-9 1-7zM1505-138l-14 9-10 14-6 14 0 4 6 3 10 11-10 24-1 59 14 0 0-57 4-13 7-10-3-9-12-11 0-3 5-8 12-10 17-2 12 8 7 14 2 8 0 93 13 1 1-86-5-30-6-11-11-10-13-4zM1190-140l-19 8-12 17-6 27 0 37 6 25 10 17 16 9 16 1 18-7 13-17 7-29 0-36-5-24-8-15-15-11zM1197-127l12 4 10 12 4 15 1 40-3 21-5 11-9 9-11 3-13-4-11-16-4-23 0-30 3-19 5-12 7-7zM1088-140l-18 7-8 8-5 9-6 25 0 43 6 24 8 13 14 10 20 2 9-2 10-6 12-17 6-23 0-46-6-23-9-14-16-9zM1093-127l14 4 8 9 6 21 1 22-1 22-4 18-4 8-7 7-12 4-13-4-7-7-5-11-3-16 0-39 4-20 8-12zM986-140l-18 7-8 8-5 9-6 25 0 43 6 24 8 13 14 10 20 2 9-2 10-6 12-17 6-23 0-46-6-23-9-14-16-9zM991-127l14 4 8 9 6 21 1 22-1 22-4 18-4 8-7 7-12 4-13-4-7-7-5-11-3-16 0-39 4-20 8-12zM832-140l-19 8-12 17-6 27 0 37 6 25 10 17 16 9 16 1 18-7 13-17 7-29 0-36-5-24-8-15-15-11zM839-127l12 4 10 12 4 15 1 40-3 21-5 11-9 9-11 3-13-4-11-16-4-23 0-30 3-19 5-12 7-7zM418-140l-18 7-8 8-5 9-6 25 0 43 6 24 8 13 14 10 20 2 9-2 10-6 12-17 6-23 0-46-6-23-9-14-16-9zM423-127l14 4 8 9 6 21 1 22-1 22-4 18-4 8-7 7-12 4-13-4-7-7-5-11-3-16 0-39 4-20 8-12zM319-140l-8 2-10 6-10 11-6 13-5 27 1 37 4 16 6 12 8 9 14 7 19 1 17-8 11-16 4-19-4-26-4-7-13-11-17-4-17 4-13 13 0-20 6-19 14-13 8-2 7 1 10 7 5 9 14-3-6-14-10-9-13-4zM317-77l11 0 9 4 6 6 5 14 0 15-5 15-10 9-13 2-12-6-6-7-5-15-1-11 4-14 5-6zM119-138l-8 11 0 22 7 12 4 2 11-1 0 36-12 6-6 13 0 22 4 10 9 6 10-1 6-7 2-6 0-15 2-1 39 29 13 0 1-138-13 0-1 118-41-30 0-63-2-13-8-12-5-2zM132-40l1 22-5 5-4-4-1-11 3-10zM123-125l7 0 4 6-1 10-5 5-5 0-5-9 1-7zM31-138l-11 6-13 16-7 19 8 4 9 11-6 10-5 17 0 56 13 0 1-61 4-11 7-10-7-13-9-8 14-17 11-4 15 2 12 15 4 17 0 90 13 0 0-96-6-24-6-9-9-8-14-4z"/>
<path id="T19" d="M2382-22l-1 21 16 0 0-20zM1712-22l-1 21 16 0 0-20zM908-22l-2 2 0 18 16 1 1-19-2-2zM238-22l-2 2 0 18 16 1 1-19-2-2zM1257-74l0 13 89-1-1-12zM1997-116l0 40-2 2-36 0-1 12 37 1 2 2 0 40 11 0 1-41 37-1 1-12-36-1-2-2 0-39zM523-116l0 40-2 2-36 0-1 12 37 1 2 2 0 40 11 0 1-41 37-1 1-12-36-1-2-2 0-39zM2175-138l-4 73 15 0 12-8 10-2 12 2 7 4 8 11 2 6 0 15-5 13-7 7-9 4-7 1-16-5-7-7-4-9-15 2 6 16 9 9 10 5 22 2 14-3 14-10 8-13 3-15-1-18-7-15-9-9-8-4-23-2-18 8 1-42 2-2 55 0 1-13zM1894-138l-29 23 1 14 26-20 2 2 0 102-2 2-30 0-1 13 79 1-1-14-28 0-2-2 0-121zM420-138l-29 22 1 15 25-20 2 1 0 104-32 1 0 14 78 0 0-14-29 0-2-2 0-121zM2665-140l-18 7-12 15-6 19-2 39 4 27 6 15 6 8 13 9 20 2 9-2 10-6 13-19 6-28 0-31-6-28-10-17-16-9zM2672-127l12 4 9 11 4 13 2 37-2 20-4 14-10 12-13 4-12-4-10-12-4-14-2-30 2-25 6-18 8-8zM2562-140l-19 8-12 17-6 27 0 37 6 25 10 17 16 9 16 1 18-7 13-17 7-29 0-36-5-24-8-15-15-11zM2569-127l12 4 10 12 4 15 1 40-3 21-5 11-9 9-11 3-13-4-11-16-4-23 0-30 3-19 5-12 7-7zM2460-140l-18 7-8 8-5 9-6 25 0 43 6 24 8 13 14 10 20 2 9-2 10-6 12-17 6-23 0-46-6-23-9-14-16-9zM2465-127l14 4 8 9 6 21 1 22-1 22-4 18-4 8-7 7-12 4-13-4-7-7-5-11-3-16 0-39 4-20 8-12zM2307-140l-18 7-12 15-6 19-2 39 4 27 6 15 6 8 13 9 20 2 9-2 10-6 13-19 6-28 0-31-6-28-10-17-16-9zM2314-127l12 4 9 11 4 13 2 37-2 20-4 14-10 12-13 4-12-4-10-12-4-14-2-30 2-25 6-18 8-8zM2099-140l-16 6-8 7-6 10-3 11 15 2 5-13 14-9 14 0 11 6 6 12 0 12-2 5-6 7-8 4-20 2-1 13 2 2 17 0 11 4 9 10 0 21-3 6-10 8-13 2-11-2-7-4-7-9-3-10-15 2 3 13 6 10 6 5 20 8 18 0 17-6 8-7 6-10 2-23-4-11-9-9-15-6 15-8 5-6 4-9 0-21-6-12-8-7-16-6zM1794-140l-13 4-7 5-13 19-6 26 0 38 5 21 7 13 8 8 12 6 20 1 14-6 13-17 4-14-2-28-7-13-8-7-8-4-12-2-19 5-11 11 0-21 5-16 4-6 10-8 9-2 9 2 5 3 8 12 11-2 2-4-4-9-12-11-12-4zM1792-77l10 0 9 4 7 7 5 15 0 11-5 16-7 8-11 4-12-2-10-9-4-7-3-14 0-10 3-10 8-9zM1593-138l-8 11 0 22 7 12 4 2 11-1 0 36-12 6-6 13 0 22 4 10 9 6 10-1 6-7 2-6 0-15 2-1 39 29 13 0 1-138-13 0-1 118-41-30 0-63-2-13-8-12-5-2zM1606-40l1 22-5 5-4-4-1-11 3-10zM1597-125l7 0 4 6-1 10-5 5-5 0-5-9 1-7zM1505-138l-14 9-10 14-6 14 0 4 6 3 10 11-10 24-1 59 14 0 0-57 4-13 7-10-3-9-12-11 0-3 5-8 12-10 17-2 12 8 7 14 2 8 0 93 13 1 1-86-5-30-6-11-11-10-13-4zM1190-140l-19 8-12 17-6 27 0 37 6 25 10 17 16 9 16 1 18-7 13-17 7-29 0-36-5-24-8-15-15-11zM1197-127l12 4 10 12 4 15 1 40-3 21-5 11-9 9-11 3-13-4-11-16-4-23 0-30 3-19 5-12 7-7zM1088-140l-18 7-8 8-5 9-6 25 0 43 6 24 8 13 14 10 20 2 9-2 10-6 12-17 6-23 0-46-6-23-9-14-16-9zM1093-127l14 4 8 9 6 21 1 22-1 22-4 18-4 8-7 7-12 4-13-4-7-7-5-11-3-16 0-39 4-20 8-12zM986-140l-18 7-8 8-5 9-6 25 0 43 6 24 8 13 14 10 20 2 9-2 10-6 12-17 6-23 0-46-6-23-9-14-16-9zM991-127l14 4 8 9 6 21 1 22-1 22-4 18-4 8-7 7-12 4-13-4-7-7-5-11-3-16 0-39 4-20 8-12zM832-140l-19 8-12 17-6 27 0 37 6 25 10 17 16 9 16 1 18-7 13-17 7-29 0-36-5-24-8-15-15-11zM839-127l12 4 10 12 4 15 1 40-3 21-5 11-9 9-11 3-13-4-11-16-4-23 0-30 3-19 5-12 7-7zM730-140l-18 7-8 8-5 9-6 25 0 43 6 24 8 13 14 10 20 2 9-2 10-6 12-17 6-23 0-46-6-23-9-14-16-9zM735-127l14 4 8 9 6 21 1 22-1 22-4 18-4 8-7 7-12 4-13-4-7-7-5-11-3-16 0-39 4-20 8-12zM625-140l-16 6-8 7-6 10-3 11 15 2 5-13 14-9 14 0 11 6 6 12 0 12-2 5-6 7-8 4-20 2-1 13 2 2 17 0 11 4 9 10 0 21-3 6-10 8-13 2-11-2-7-4-7-9-3-10-15 2 3 13 6 10 6 5 20 8 18 0 17-6 8-7 6-10 2-23-4-11-9-9-15-6 15-8 5-6 4-9 0-21-6-12-8-7-16-6zM319-140l-8 2-10 6-10 11-6 13-5 27 1 37 4 16 6 12 8 9 14 7 19 1 17-8 11-16 4-19-4-26-4-7-13-11-17-4-17 4-13 13 0-20 6-19 14-13 8-2 7 1 10 7 5 9 14-3-6-14-10-9-13-4zM317-77l11 0 9 4 6 6 5 14 0 15-5 15-10 9-13 2-12-6-6-7-5-15-1-11 4-14 5-6zM119-138l-8 11 0 22 7 12 4 2 11-1 0 36-12 6-6 13 0 22 4 10 9 6 10-1 6-7 2-6 0-15 2-1 39 29 13 0 1-138-13 0-1 118-41-30 0-63-2-13-8-12-5-2zM132-40l1 22-5 5-4-4-1-11 3-10zM123-125l7 0 4 6-1 10-5 5-5 0-5-9 1-7zM31-138l-11 6-13 16-7 19 8 4 9 11-6 10-5 17 0 56 13 0 1-61 4-11 7-10-7-13-9-8 14-17 11-4 15 2 12 15 4 17 0 90 13 0 0-96-6-24-6-9-9-8-14-4z"/>
</defs>
<use href="#T1" transform="translate(1750.8,1487.4) scale(0.10829,0.09300)" fill="#000" stroke="#000" stroke-width="4"/>
<use href="#T2" transform="translate(1661.1,1586.5) scale(0.09827,0.09300)" fill="#000" stroke="#000" stroke-width="4"/>
<use href="#T3" transform="translate(1661.0,1619.9) scale(0.09834,0.09300)" fill="#000" stroke="#000" stroke-width="4"/>
<use href="#T4" transform="translate(1658.8,1657.3) scale(0.10463,0.09300)" fill="#000" stroke="#000" stroke-width="4"/>
<use href="#T5" transform="translate(1651.5,1694.9) scale(0.10241,0.09300)" fill="#000" stroke="#000" stroke-width="4"/>
<use href="#T6" transform="translate(1653.6,1732.3) scale(0.10399,0.09300)" fill="#000" stroke="#000" stroke-width="4"/>
<use href="#T2" transform="translate(1526.2,1812.4) scale(0.09824,0.09300)" fill="#000" stroke="#000" stroke-width="4"/>
<use href="#T3" transform="translate(1526.2,1846.0) scale(0.09829,0.09300)" fill="#000" stroke="#000" stroke-width="4"/>
<use href="#T9" transform="translate(1526.2,1880.4) scale(0.09678,0.09300)" fill="#000" stroke="#000" stroke-width="4"/>
<use href="#T10" transform="translate(1594.2,1917.2) scale(0.08817,0.09300)" fill="#000" stroke="#000" stroke-width="4"/>
<use href="#T11" transform="translate(1594.2,1950.5) scale(0.09789,0.09300)" fill="#000" stroke="#000" stroke-width="4"/>
<use href="#T12" transform="translate(1526.2,1984.7) scale(0.09422,0.09300)" fill="#000" stroke="#000" stroke-width="4"/>
<use href="#T13" transform="translate(1526.2,2028.3) scale(0.09465,0.09300)" fill="#000" stroke="#000" stroke-width="4"/>
<use href="#T14" transform="translate(1524.7,2077.1) scale(0.09454,0.09300)" fill="#000" stroke="#000" stroke-width="4"/>
<use href="#T15" transform="translate(1524.7,2110.0) scale(0.09730,0.09300)" fill="#000" stroke="#000" stroke-width="4"/>
<use href="#T16" transform="translate(2714.5,1814.5) scale(0.09424,0.09300)" fill="#000" stroke="#000" stroke-width="4"/>
<use href="#T15" transform="translate(2714.5,1847.6) scale(0.09715,0.09300)" fill="#000" stroke="#000" stroke-width="4"/>
<use href="#T18" transform="translate(1532.9,2278.7) scale(0.13416,0.10600)" fill="#000" stroke="#000" stroke-width="4"/>
<use href="#T19" transform="translate(1534.0,2320.1) scale(0.13335,0.10600)" fill="#000" stroke="#000" stroke-width="4"/>
</svg></body></html>
